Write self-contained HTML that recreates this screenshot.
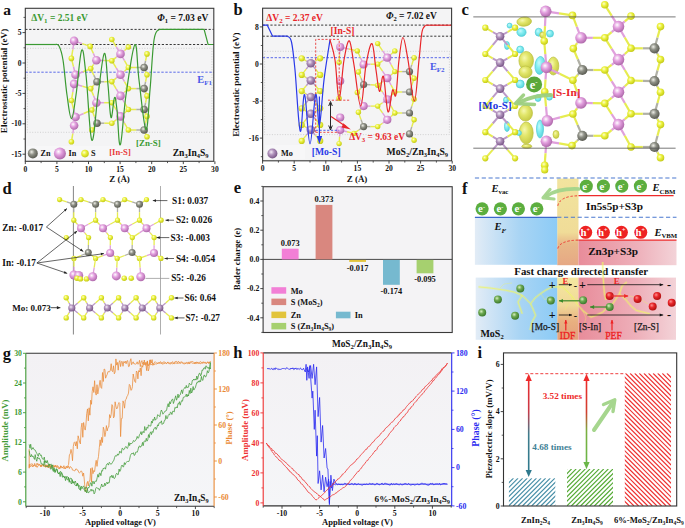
<!DOCTYPE html><html><head><meta charset="utf-8"><style>html,body{margin:0;padding:0;background:#fff;}svg{display:block;font-family:"Liberation Serif", serif;}</style></head><body>
<svg width="685" height="528" viewBox="0 0 685 528"><defs><radialGradient id="gIn" cx="0.4" cy="0.38" r="0.62" fx="0.38" fy="0.35"><stop offset="0" stop-color="#ffffff"/><stop offset="0.45" stop-color="#e3a0df"/><stop offset="1" stop-color="#b06aac"/></radialGradient><radialGradient id="gZn" cx="0.4" cy="0.38" r="0.62" fx="0.38" fy="0.35"><stop offset="0" stop-color="#efefe8"/><stop offset="0.45" stop-color="#8e9086"/><stop offset="1" stop-color="#5a5b52"/></radialGradient><radialGradient id="gS" cx="0.4" cy="0.38" r="0.62" fx="0.38" fy="0.35"><stop offset="0" stop-color="#fcffd0"/><stop offset="0.45" stop-color="#ecf23e"/><stop offset="1" stop-color="#c4ca18"/></radialGradient><radialGradient id="gMo" cx="0.4" cy="0.38" r="0.62" fx="0.38" fy="0.35"><stop offset="0" stop-color="#f6eef8"/><stop offset="0.45" stop-color="#b092bc"/><stop offset="1" stop-color="#7a5888"/></radialGradient><radialGradient id="gEl" cx="0.4" cy="0.38" r="0.62" fx="0.38" fy="0.35"><stop offset="0" stop-color="#a8d878"/><stop offset="0.45" stop-color="#6aa843"/><stop offset="1" stop-color="#4a8a2a"/></radialGradient><radialGradient id="gRed" cx="0.4" cy="0.38" r="0.62" fx="0.38" fy="0.35"><stop offset="0" stop-color="#ff9090"/><stop offset="0.45" stop-color="#e8262a"/><stop offset="1" stop-color="#b01010"/></radialGradient><radialGradient id="gGb" cx="0.4" cy="0.38" r="0.62" fx="0.38" fy="0.35"><stop offset="0" stop-color="#d8f0c0"/><stop offset="0.45" stop-color="#6ca850"/><stop offset="1" stop-color="#3d7a2e"/></radialGradient><radialGradient id="gBY" cx="0.4" cy="0.38" r="0.62" fx="0.38" fy="0.35"><stop offset="0" stop-color="#f6f8b0"/><stop offset="0.45" stop-color="#e2e66a"/><stop offset="1" stop-color="#c8cc48"/></radialGradient><radialGradient id="gBC" cx="0.4" cy="0.38" r="0.62" fx="0.38" fy="0.35"><stop offset="0" stop-color="#c8fafc"/><stop offset="0.45" stop-color="#86eef2"/><stop offset="1" stop-color="#5cd6de"/></radialGradient><linearGradient id="fBlue" x1="0" y1="0" x2="1" y2="0"><stop offset="0" stop-color="#e2ecf6"/><stop offset="0.55" stop-color="#a8d4f4"/><stop offset="1" stop-color="#8ccbf6"/></linearGradient><linearGradient id="fPink" x1="0" y1="0" x2="1" y2="0"><stop offset="0" stop-color="#e88c9a"/><stop offset="0.6" stop-color="#eeb0ba"/><stop offset="1" stop-color="#f3d3d8"/></linearGradient><linearGradient id="fBand" x1="0" y1="0" x2="0" y2="1"><stop offset="0" stop-color="#f2e49e"/><stop offset="0.62" stop-color="#f0dc98"/><stop offset="0.75" stop-color="#e8b888"/><stop offset="1" stop-color="#e6a884"/></linearGradient><linearGradient id="fBand2" x1="0" y1="0" x2="0" y2="1"><stop offset="0" stop-color="#f4e8a0"/><stop offset="0.45" stop-color="#f0d898"/><stop offset="0.7" stop-color="#e8b080"/><stop offset="1" stop-color="#e4a07c"/></linearGradient><linearGradient id="bgGH" x1="0" y1="0" x2="0" y2="1"><stop offset="0" stop-color="#f3f1f4"/><stop offset="1" stop-color="#f5f6f8"/></linearGradient><pattern id="hT" patternUnits="userSpaceOnUse" width="3.4" height="3.4" patternTransform="rotate(45)"><line x1="0" y1="0" x2="0" y2="3.4" stroke="#4a90a8" stroke-width="1.25"/></pattern><pattern id="hG" patternUnits="userSpaceOnUse" width="3.4" height="3.4" patternTransform="rotate(45)"><line x1="0" y1="0" x2="0" y2="3.4" stroke="#55aa35" stroke-width="1.25"/></pattern><pattern id="hR" patternUnits="userSpaceOnUse" width="3.4" height="3.4" patternTransform="rotate(-45)"><line x1="0" y1="0" x2="0" y2="3.4" stroke="#ee3333" stroke-width="1.25"/></pattern><linearGradient id="arT" x1="0" y1="0" x2="0" y2="1"><stop offset="0" stop-color="#ee2a2a"/><stop offset="0.35" stop-color="#c83a48"/><stop offset="0.6" stop-color="#3f7c8c"/><stop offset="1" stop-color="#2f7a8e"/></linearGradient><linearGradient id="arG" x1="0" y1="0" x2="0" y2="1"><stop offset="0" stop-color="#ee2a2a"/><stop offset="0.4" stop-color="#d04030"/><stop offset="0.62" stop-color="#7ab040"/><stop offset="1" stop-color="#6ab648"/></linearGradient><clipPath id="cT"><rect x="508.9" y="478.2" width="46.4" height="27.8"/></clipPath><clipPath id="cG"><rect x="567.0" y="468.9" width="46.0" height="37.1"/></clipPath><clipPath id="cR"><rect x="624.8" y="373.3" width="46.2" height="132.7"/></clipPath></defs>
<rect x="25.3" y="8.3" width="188.5" height="153.0" fill="#f4f4f5" stroke="none" stroke-width="1" />
<rect x="27.4" y="48.3" width="184.5" height="84.0" fill="none" stroke="#b8b8b8" stroke-width="0.6" stroke-dasharray="1,1.6"/>
<line x1="25.3" y1="29.4" x2="213.8" y2="29.4" stroke="#222" stroke-width="0.9" stroke-dasharray="2.2,1.7"/>
<line x1="25.3" y1="44.5" x2="213.8" y2="44.5" stroke="#222" stroke-width="0.9" stroke-dasharray="2.2,1.7"/>
<line x1="25.3" y1="72.2" x2="213.8" y2="72.2" stroke="#4a5ae8" stroke-width="0.9" stroke-dasharray="2.4,1.6"/>
<line x1="74.1" y1="40.9" x2="82.2" y2="43.6" stroke="#e0a0dc" stroke-width="1.5" />
<line x1="82.2" y1="43.6" x2="90.2" y2="46.4" stroke="#e6ec50" stroke-width="1.5" />
<line x1="74.1" y1="40.9" x2="72.8" y2="49.6" stroke="#e0a0dc" stroke-width="1.5" />
<line x1="72.8" y1="49.6" x2="71.4" y2="58.4" stroke="#e6ec50" stroke-width="1.5" />
<line x1="96.4" y1="60.2" x2="93.3" y2="53.3" stroke="#e0a0dc" stroke-width="1.5" />
<line x1="93.3" y1="53.3" x2="90.2" y2="46.4" stroke="#e6ec50" stroke-width="1.5" />
<line x1="96.4" y1="60.2" x2="104.1" y2="60.5" stroke="#e0a0dc" stroke-width="1.5" />
<line x1="104.1" y1="60.5" x2="111.8" y2="60.7" stroke="#e6ec50" stroke-width="1.5" />
<line x1="96.4" y1="60.2" x2="93.6" y2="64.4" stroke="#e0a0dc" stroke-width="1.5" />
<line x1="93.6" y1="64.4" x2="90.7" y2="68.6" stroke="#e6ec50" stroke-width="1.5" />
<line x1="75.5" y1="74.8" x2="73.5" y2="66.6" stroke="#e0a0dc" stroke-width="1.5" />
<line x1="73.5" y1="66.6" x2="71.4" y2="58.4" stroke="#e6ec50" stroke-width="1.5" />
<line x1="75.5" y1="74.8" x2="83.1" y2="71.7" stroke="#e0a0dc" stroke-width="1.5" />
<line x1="83.1" y1="71.7" x2="90.7" y2="68.6" stroke="#e6ec50" stroke-width="1.5" />
<line x1="74.1" y1="83.9" x2="82.4" y2="86.2" stroke="#e0a0dc" stroke-width="1.5" />
<line x1="82.4" y1="86.2" x2="90.7" y2="88.6" stroke="#e6ec50" stroke-width="1.5" />
<line x1="74.1" y1="83.9" x2="72.8" y2="92.2" stroke="#e0a0dc" stroke-width="1.5" />
<line x1="72.8" y1="92.2" x2="71.4" y2="100.5" stroke="#e6ec50" stroke-width="1.5" />
<line x1="96.4" y1="102.7" x2="93.6" y2="95.7" stroke="#e0a0dc" stroke-width="1.5" />
<line x1="93.6" y1="95.7" x2="90.7" y2="88.6" stroke="#e6ec50" stroke-width="1.5" />
<line x1="96.4" y1="102.7" x2="94.1" y2="106.3" stroke="#e0a0dc" stroke-width="1.5" />
<line x1="94.1" y1="106.3" x2="91.8" y2="110.0" stroke="#e6ec50" stroke-width="1.5" />
<line x1="96.4" y1="102.7" x2="104.1" y2="102.7" stroke="#e0a0dc" stroke-width="1.5" />
<line x1="104.1" y1="102.7" x2="111.8" y2="102.7" stroke="#e6ec50" stroke-width="1.5" />
<line x1="75.5" y1="117.0" x2="73.5" y2="108.8" stroke="#e0a0dc" stroke-width="1.5" />
<line x1="73.5" y1="108.8" x2="71.4" y2="100.5" stroke="#e6ec50" stroke-width="1.5" />
<line x1="75.5" y1="117.0" x2="83.7" y2="113.5" stroke="#e0a0dc" stroke-width="1.5" />
<line x1="83.7" y1="113.5" x2="91.8" y2="110.0" stroke="#e6ec50" stroke-width="1.5" />
<line x1="74.1" y1="125.5" x2="72.8" y2="133.7" stroke="#e0a0dc" stroke-width="1.5" />
<line x1="72.8" y1="133.7" x2="71.4" y2="141.8" stroke="#e6ec50" stroke-width="1.5" />
<line x1="120.5" y1="53.9" x2="116.2" y2="46.7" stroke="#e0a0dc" stroke-width="1.5" />
<line x1="116.2" y1="46.7" x2="111.8" y2="39.5" stroke="#e6ec50" stroke-width="1.5" />
<line x1="120.5" y1="53.9" x2="116.2" y2="57.3" stroke="#e0a0dc" stroke-width="1.5" />
<line x1="116.2" y1="57.3" x2="111.8" y2="60.7" stroke="#e6ec50" stroke-width="1.5" />
<line x1="120.5" y1="53.9" x2="124.5" y2="50.5" stroke="#e0a0dc" stroke-width="1.5" />
<line x1="124.5" y1="50.5" x2="128.4" y2="47.0" stroke="#e6ec50" stroke-width="1.5" />
<line x1="120.5" y1="53.9" x2="124.5" y2="60.7" stroke="#e0a0dc" stroke-width="1.5" />
<line x1="124.5" y1="60.7" x2="128.4" y2="67.5" stroke="#e6ec50" stroke-width="1.5" />
<line x1="120.5" y1="74.8" x2="116.2" y2="67.8" stroke="#e0a0dc" stroke-width="1.5" />
<line x1="116.2" y1="67.8" x2="111.8" y2="60.7" stroke="#e6ec50" stroke-width="1.5" />
<line x1="120.5" y1="74.8" x2="116.2" y2="78.2" stroke="#e0a0dc" stroke-width="1.5" />
<line x1="116.2" y1="78.2" x2="111.8" y2="81.6" stroke="#e6ec50" stroke-width="1.5" />
<line x1="120.5" y1="74.8" x2="124.5" y2="71.2" stroke="#e0a0dc" stroke-width="1.5" />
<line x1="124.5" y1="71.2" x2="128.4" y2="67.5" stroke="#e6ec50" stroke-width="1.5" />
<line x1="120.5" y1="74.8" x2="124.5" y2="81.7" stroke="#e0a0dc" stroke-width="1.5" />
<line x1="124.5" y1="81.7" x2="128.4" y2="88.6" stroke="#e6ec50" stroke-width="1.5" />
<line x1="120.5" y1="95.9" x2="116.2" y2="88.8" stroke="#e0a0dc" stroke-width="1.5" />
<line x1="116.2" y1="88.8" x2="111.8" y2="81.6" stroke="#e6ec50" stroke-width="1.5" />
<line x1="120.5" y1="95.9" x2="116.2" y2="99.3" stroke="#e0a0dc" stroke-width="1.5" />
<line x1="116.2" y1="99.3" x2="111.8" y2="102.7" stroke="#e6ec50" stroke-width="1.5" />
<line x1="120.5" y1="95.9" x2="124.5" y2="92.2" stroke="#e0a0dc" stroke-width="1.5" />
<line x1="124.5" y1="92.2" x2="128.4" y2="88.6" stroke="#e6ec50" stroke-width="1.5" />
<line x1="120.5" y1="95.9" x2="124.5" y2="102.7" stroke="#e0a0dc" stroke-width="1.5" />
<line x1="124.5" y1="102.7" x2="128.4" y2="109.5" stroke="#e6ec50" stroke-width="1.5" />
<line x1="120.5" y1="116.4" x2="116.2" y2="109.6" stroke="#e0a0dc" stroke-width="1.5" />
<line x1="116.2" y1="109.6" x2="111.8" y2="102.7" stroke="#e6ec50" stroke-width="1.5" />
<line x1="120.5" y1="116.4" x2="116.2" y2="119.8" stroke="#e0a0dc" stroke-width="1.5" />
<line x1="116.2" y1="119.8" x2="111.8" y2="123.2" stroke="#e6ec50" stroke-width="1.5" />
<line x1="120.5" y1="116.4" x2="124.5" y2="113.0" stroke="#e0a0dc" stroke-width="1.5" />
<line x1="124.5" y1="113.0" x2="128.4" y2="109.5" stroke="#e6ec50" stroke-width="1.5" />
<line x1="120.5" y1="116.4" x2="124.5" y2="123.2" stroke="#e0a0dc" stroke-width="1.5" />
<line x1="124.5" y1="123.2" x2="128.4" y2="130.0" stroke="#e6ec50" stroke-width="1.5" />
<line x1="97.0" y1="81.8" x2="93.8" y2="75.2" stroke="#b0b0a6" stroke-width="1.5" />
<line x1="93.8" y1="75.2" x2="90.7" y2="68.6" stroke="#e6ec50" stroke-width="1.5" />
<line x1="97.0" y1="81.8" x2="93.8" y2="85.2" stroke="#b0b0a6" stroke-width="1.5" />
<line x1="93.8" y1="85.2" x2="90.7" y2="88.6" stroke="#e6ec50" stroke-width="1.5" />
<line x1="97.0" y1="81.8" x2="104.4" y2="81.7" stroke="#b0b0a6" stroke-width="1.5" />
<line x1="104.4" y1="81.7" x2="111.8" y2="81.6" stroke="#e6ec50" stroke-width="1.5" />
<line x1="97.0" y1="123.2" x2="94.4" y2="116.6" stroke="#b0b0a6" stroke-width="1.5" />
<line x1="94.4" y1="116.6" x2="91.8" y2="110.0" stroke="#e6ec50" stroke-width="1.5" />
<line x1="97.0" y1="123.2" x2="94.4" y2="126.6" stroke="#b0b0a6" stroke-width="1.5" />
<line x1="94.4" y1="126.6" x2="91.8" y2="130.0" stroke="#e6ec50" stroke-width="1.5" />
<line x1="97.0" y1="123.2" x2="104.4" y2="123.2" stroke="#b0b0a6" stroke-width="1.5" />
<line x1="104.4" y1="123.2" x2="111.8" y2="123.2" stroke="#e6ec50" stroke-width="1.5" />
<line x1="144.1" y1="67.5" x2="136.2" y2="67.5" stroke="#b0b0a6" stroke-width="1.5" />
<line x1="136.2" y1="67.5" x2="128.4" y2="67.5" stroke="#e6ec50" stroke-width="1.5" />
<line x1="144.1" y1="67.5" x2="145.6" y2="60.7" stroke="#b0b0a6" stroke-width="1.5" />
<line x1="145.6" y1="60.7" x2="147.0" y2="53.9" stroke="#e6ec50" stroke-width="1.5" />
<line x1="144.1" y1="67.5" x2="145.6" y2="71.2" stroke="#b0b0a6" stroke-width="1.5" />
<line x1="145.6" y1="71.2" x2="147.0" y2="74.8" stroke="#e6ec50" stroke-width="1.5" />
<line x1="144.1" y1="88.6" x2="136.2" y2="88.6" stroke="#b0b0a6" stroke-width="1.5" />
<line x1="136.2" y1="88.6" x2="128.4" y2="88.6" stroke="#e6ec50" stroke-width="1.5" />
<line x1="144.1" y1="88.6" x2="145.6" y2="81.7" stroke="#b0b0a6" stroke-width="1.5" />
<line x1="145.6" y1="81.7" x2="147.0" y2="74.8" stroke="#e6ec50" stroke-width="1.5" />
<line x1="144.1" y1="88.6" x2="145.6" y2="92.2" stroke="#b0b0a6" stroke-width="1.5" />
<line x1="145.6" y1="92.2" x2="147.0" y2="95.9" stroke="#e6ec50" stroke-width="1.5" />
<line x1="144.1" y1="109.5" x2="136.2" y2="109.5" stroke="#b0b0a6" stroke-width="1.5" />
<line x1="136.2" y1="109.5" x2="128.4" y2="109.5" stroke="#e6ec50" stroke-width="1.5" />
<line x1="144.1" y1="109.5" x2="145.6" y2="102.7" stroke="#b0b0a6" stroke-width="1.5" />
<line x1="145.6" y1="102.7" x2="147.0" y2="95.9" stroke="#e6ec50" stroke-width="1.5" />
<line x1="144.1" y1="109.5" x2="145.6" y2="113.0" stroke="#b0b0a6" stroke-width="1.5" />
<line x1="145.6" y1="113.0" x2="147.0" y2="116.4" stroke="#e6ec50" stroke-width="1.5" />
<line x1="144.1" y1="130.0" x2="136.2" y2="130.0" stroke="#b0b0a6" stroke-width="1.5" />
<line x1="136.2" y1="130.0" x2="128.4" y2="130.0" stroke="#e6ec50" stroke-width="1.5" />
<line x1="144.1" y1="130.0" x2="145.6" y2="123.2" stroke="#b0b0a6" stroke-width="1.5" />
<line x1="145.6" y1="123.2" x2="147.0" y2="116.4" stroke="#e6ec50" stroke-width="1.5" />
<line x1="144.1" y1="130.0" x2="145.6" y2="133.4" stroke="#b0b0a6" stroke-width="1.5" />
<line x1="145.6" y1="133.4" x2="147.0" y2="136.8" stroke="#e6ec50" stroke-width="1.5" />
<circle cx="74.1" cy="40.9" r="4.3" fill="url(#gIn)" />
<circle cx="96.4" cy="60.2" r="4.3" fill="url(#gIn)" />
<circle cx="75.5" cy="74.8" r="4.3" fill="url(#gIn)" />
<circle cx="74.1" cy="83.9" r="4.3" fill="url(#gIn)" />
<circle cx="96.4" cy="102.7" r="4.3" fill="url(#gIn)" />
<circle cx="75.5" cy="117.0" r="4.3" fill="url(#gIn)" />
<circle cx="74.1" cy="125.5" r="4.3" fill="url(#gIn)" />
<circle cx="120.5" cy="53.9" r="4.3" fill="url(#gIn)" />
<circle cx="120.5" cy="74.8" r="4.3" fill="url(#gIn)" />
<circle cx="120.5" cy="95.9" r="4.3" fill="url(#gIn)" />
<circle cx="120.5" cy="116.4" r="4.3" fill="url(#gIn)" />
<circle cx="97.0" cy="81.8" r="3.8" fill="url(#gZn)" />
<circle cx="97.0" cy="123.2" r="3.8" fill="url(#gZn)" />
<circle cx="144.1" cy="67.5" r="3.8" fill="url(#gZn)" />
<circle cx="144.1" cy="88.6" r="3.8" fill="url(#gZn)" />
<circle cx="144.1" cy="109.5" r="3.8" fill="url(#gZn)" />
<circle cx="144.1" cy="130.0" r="3.8" fill="url(#gZn)" />
<circle cx="111.8" cy="39.5" r="2.8" fill="url(#gS)" />
<circle cx="90.2" cy="46.4" r="2.8" fill="url(#gS)" />
<circle cx="71.4" cy="58.4" r="2.8" fill="url(#gS)" />
<circle cx="111.8" cy="60.7" r="2.8" fill="url(#gS)" />
<circle cx="90.7" cy="68.6" r="2.8" fill="url(#gS)" />
<circle cx="90.7" cy="88.6" r="2.8" fill="url(#gS)" />
<circle cx="111.8" cy="81.6" r="2.8" fill="url(#gS)" />
<circle cx="71.4" cy="100.5" r="2.8" fill="url(#gS)" />
<circle cx="91.8" cy="110.0" r="2.8" fill="url(#gS)" />
<circle cx="111.8" cy="102.7" r="2.8" fill="url(#gS)" />
<circle cx="91.8" cy="130.0" r="2.8" fill="url(#gS)" />
<circle cx="111.8" cy="123.2" r="2.8" fill="url(#gS)" />
<circle cx="71.4" cy="141.8" r="2.8" fill="url(#gS)" />
<circle cx="128.4" cy="47.0" r="2.8" fill="url(#gS)" />
<circle cx="128.4" cy="67.5" r="2.8" fill="url(#gS)" />
<circle cx="128.4" cy="88.6" r="2.8" fill="url(#gS)" />
<circle cx="128.4" cy="109.5" r="2.8" fill="url(#gS)" />
<circle cx="128.4" cy="130.0" r="2.8" fill="url(#gS)" />
<circle cx="147.0" cy="53.9" r="2.8" fill="url(#gS)" />
<circle cx="147.0" cy="74.8" r="2.8" fill="url(#gS)" />
<circle cx="147.0" cy="95.9" r="2.8" fill="url(#gS)" />
<circle cx="147.0" cy="116.4" r="2.8" fill="url(#gS)" />
<circle cx="147.0" cy="136.8" r="2.8" fill="url(#gS)" />
<path d="M25.3,44.5 L55,44.5" stroke="#3a9a32" stroke-width="1.2" fill="none" />
<path d="M159,29.4 L204.1,29.4 L208.1,44.5 L213.8,44.5" stroke="#3a9a32" stroke-width="1.2" fill="none" />
<path d="M55.0,44.5 C55.7,44.8 57.5,43.2 59.0,46.0 C60.5,48.8 61.5,51.0 63.0,60.0 C64.5,69.0 65.4,84.3 67.0,95.0 C68.6,105.7 69.8,118.6 71.5,118.6 C73.2,118.6 74.1,107.5 76.0,95.0 C77.9,82.5 79.8,54.2 81.6,50.5 C83.4,46.8 84.1,58.6 86.0,75.0 C87.9,91.4 89.6,136.5 91.8,140.2 C94.0,143.9 95.7,110.9 98.0,95.0 C100.3,79.1 102.5,55.2 104.3,53.4 C106.1,51.6 106.8,73.2 108.0,85.0 C109.2,96.8 109.8,115.2 111.0,117.5 C112.2,119.8 113.4,98.9 114.5,97.5 C115.6,96.1 115.9,101.3 117.0,110.0 C118.1,118.7 118.6,147.6 120.3,144.8 C122.0,142.1 123.3,113.3 126.0,95.0 C128.7,76.7 132.4,47.5 134.8,44.8 C137.2,42.0 137.0,64.5 139.0,80.0 C141.0,95.5 143.9,127.7 145.9,129.5 C147.9,131.3 148.5,106.4 150.0,90.0 C151.5,73.6 152.3,51.1 154.0,40.0 C155.7,28.9 158.1,31.3 159.0,29.4" stroke="#3a9a32" stroke-width="1.2" fill="none" />
<rect x="25.3" y="8.3" width="188.5" height="153.0" fill="none" stroke="#3a3a3a" stroke-width="1.1" />
<line x1="22.5" y1="32.6" x2="25.3" y2="32.6" stroke="#333" stroke-width="0.9" />
<text x="21.5" y="35.2" font-size="7.6" text-anchor="end" fill="#111" font-weight="bold" font-style="normal" >5</text>
<line x1="22.5" y1="63.0" x2="25.3" y2="63.0" stroke="#333" stroke-width="0.9" />
<text x="21.5" y="65.6" font-size="7.6" text-anchor="end" fill="#111" font-weight="bold" font-style="normal" >0</text>
<line x1="22.5" y1="93.4" x2="25.3" y2="93.4" stroke="#333" stroke-width="0.9" />
<text x="21.5" y="96.0" font-size="7.6" text-anchor="end" fill="#111" font-weight="bold" font-style="normal" >-5</text>
<line x1="22.5" y1="123.8" x2="25.3" y2="123.8" stroke="#333" stroke-width="0.9" />
<text x="21.5" y="126.4" font-size="7.6" text-anchor="end" fill="#111" font-weight="bold" font-style="normal" >-10</text>
<line x1="22.5" y1="154.2" x2="25.3" y2="154.2" stroke="#333" stroke-width="0.9" />
<text x="21.5" y="156.8" font-size="7.6" text-anchor="end" fill="#111" font-weight="bold" font-style="normal" >-15</text>
<line x1="23.5" y1="17.4" x2="25.3" y2="17.4" stroke="#333" stroke-width="0.8" />
<line x1="23.5" y1="47.8" x2="25.3" y2="47.8" stroke="#333" stroke-width="0.8" />
<line x1="23.5" y1="78.2" x2="25.3" y2="78.2" stroke="#333" stroke-width="0.8" />
<line x1="23.5" y1="108.6" x2="25.3" y2="108.6" stroke="#333" stroke-width="0.8" />
<line x1="23.5" y1="139.0" x2="25.3" y2="139.0" stroke="#333" stroke-width="0.8" />
<line x1="25.3" y1="161.3" x2="25.3" y2="164.1" stroke="#333" stroke-width="0.9" />
<text x="25.3" y="171.6" font-size="7.6" text-anchor="middle" fill="#111" font-weight="bold" font-style="normal" >0</text>
<line x1="56.9" y1="161.3" x2="56.9" y2="164.1" stroke="#333" stroke-width="0.9" />
<text x="56.9" y="171.6" font-size="7.6" text-anchor="middle" fill="#111" font-weight="bold" font-style="normal" >5</text>
<line x1="88.5" y1="161.3" x2="88.5" y2="164.1" stroke="#333" stroke-width="0.9" />
<text x="88.5" y="171.6" font-size="7.6" text-anchor="middle" fill="#111" font-weight="bold" font-style="normal" >10</text>
<line x1="120.1" y1="161.3" x2="120.1" y2="164.1" stroke="#333" stroke-width="0.9" />
<text x="120.1" y="171.6" font-size="7.6" text-anchor="middle" fill="#111" font-weight="bold" font-style="normal" >15</text>
<line x1="151.7" y1="161.3" x2="151.7" y2="164.1" stroke="#333" stroke-width="0.9" />
<text x="151.7" y="171.6" font-size="7.6" text-anchor="middle" fill="#111" font-weight="bold" font-style="normal" >20</text>
<line x1="183.3" y1="161.3" x2="183.3" y2="164.1" stroke="#333" stroke-width="0.9" />
<text x="183.3" y="171.6" font-size="7.6" text-anchor="middle" fill="#111" font-weight="bold" font-style="normal" >25</text>
<line x1="214.9" y1="161.3" x2="214.9" y2="164.1" stroke="#333" stroke-width="0.9" />
<text x="214.9" y="171.6" font-size="7.6" text-anchor="middle" fill="#111" font-weight="bold" font-style="normal" >30</text>
<line x1="41.1" y1="161.3" x2="41.1" y2="163.1" stroke="#333" stroke-width="0.8" />
<line x1="72.7" y1="161.3" x2="72.7" y2="163.1" stroke="#333" stroke-width="0.8" />
<line x1="104.3" y1="161.3" x2="104.3" y2="163.1" stroke="#333" stroke-width="0.8" />
<line x1="135.9" y1="161.3" x2="135.9" y2="163.1" stroke="#333" stroke-width="0.8" />
<line x1="167.5" y1="161.3" x2="167.5" y2="163.1" stroke="#333" stroke-width="0.8" />
<line x1="199.1" y1="161.3" x2="199.1" y2="163.1" stroke="#333" stroke-width="0.8" />
<text x="119.5" y="182.3" font-size="9" text-anchor="middle" fill="#111" font-weight="bold" font-style="normal" >Z (Å)</text>
<text x="6.9" y="81.0" font-size="9.1" text-anchor="middle" fill="#111" font-weight="bold" font-style="normal" transform="rotate(-90 6.9 81)">Electrostatic potential (eV)</text>
<text x="3.2" y="14.6" font-size="15.5" text-anchor="start" fill="#111" font-weight="bold" font-style="normal" >a</text>
<text x="31.2" y="20.8" font-size="9.5" text-anchor="start" fill="#3a9a32" font-weight="bold" font-style="normal" >ΔV<tspan font-size="7" dy="2">1</tspan><tspan dy="-2"> = 2.51 eV</tspan></text>
<text x="208.3" y="20.5" font-size="9.5" text-anchor="end" fill="#111" font-weight="bold" font-style="normal" ><tspan font-style="italic">Φ</tspan><tspan font-size="6.5" dy="2">1</tspan><tspan dy="-2"> = 7.03 eV</tspan></text>
<text x="197.3" y="82.7" font-size="10.3" text-anchor="start" fill="#4a5ae8" font-weight="bold" font-style="normal" >E<tspan font-size="7" dy="2.4">F1</tspan></text>
<text x="148.4" y="145.6" font-size="8.9" text-anchor="middle" fill="#3a9a32" font-weight="bold" font-style="normal" >[Zn-S]</text>
<text x="208.6" y="155.6" font-size="9.6" text-anchor="end" fill="#111" font-weight="bold" font-style="normal" >Zn<tspan font-size="6.5" dy="2">3</tspan><tspan dy="-2">In</tspan><tspan font-size="6.5" dy="2">4</tspan><tspan dy="-2">S</tspan><tspan font-size="6.5" dy="2">9</tspan></text>
<rect x="27.0" y="146.0" width="100.0" height="13.5" fill="#f7f7f8" stroke="none" stroke-width="1" />
<circle cx="32.8" cy="153.4" r="5.0" fill="url(#gZn)" />
<text x="40.5" y="156.2" font-size="8.2" text-anchor="start" fill="#111" font-weight="bold" font-style="normal" >Zn</text>
<circle cx="59.9" cy="153.4" r="6.0" fill="url(#gIn)" />
<text x="68.5" y="156.2" font-size="8.2" text-anchor="start" fill="#111" font-weight="bold" font-style="normal" >In</text>
<circle cx="85.0" cy="153.6" r="3.8" fill="url(#gS)" />
<text x="91.0" y="156.2" font-size="8.2" text-anchor="start" fill="#111" font-weight="bold" font-style="normal" >S</text>
<text x="120.0" y="155.4" font-size="8.6" text-anchor="middle" fill="#e83a3a" font-weight="bold" font-style="normal" >[In-S]</text>
<rect x="262.6" y="8.2" width="189.0" height="152.6" fill="#f4f4f5" stroke="none" stroke-width="1" />
<rect x="264.6" y="51.3" width="184.8" height="83.3" fill="none" stroke="#b8b8b8" stroke-width="0.6" stroke-dasharray="1,1.6"/>
<line x1="262.6" y1="25.1" x2="451.6" y2="25.1" stroke="#222" stroke-width="0.9" stroke-dasharray="2.2,1.7"/>
<line x1="262.6" y1="36.2" x2="451.6" y2="36.2" stroke="#222" stroke-width="0.9" stroke-dasharray="2.2,1.7"/>
<line x1="262.6" y1="57.7" x2="451.6" y2="57.7" stroke="#4a5ae8" stroke-width="0.9" stroke-dasharray="2.4,1.6"/>
<line x1="310.8" y1="63.3" x2="306.2" y2="60.8" stroke="#bc9ac8" stroke-width="1.4" />
<line x1="306.2" y1="60.8" x2="301.7" y2="58.3" stroke="#e6ec50" stroke-width="1.4" />
<line x1="310.8" y1="63.3" x2="306.2" y2="69.1" stroke="#bc9ac8" stroke-width="1.4" />
<line x1="306.2" y1="69.1" x2="301.7" y2="74.9" stroke="#e6ec50" stroke-width="1.4" />
<line x1="310.8" y1="63.3" x2="315.5" y2="60.8" stroke="#bc9ac8" stroke-width="1.4" />
<line x1="315.5" y1="60.8" x2="320.2" y2="58.3" stroke="#e6ec50" stroke-width="1.4" />
<line x1="310.8" y1="63.3" x2="315.5" y2="69.1" stroke="#bc9ac8" stroke-width="1.4" />
<line x1="315.5" y1="69.1" x2="320.2" y2="74.9" stroke="#e6ec50" stroke-width="1.4" />
<line x1="310.8" y1="80.5" x2="306.2" y2="77.7" stroke="#bc9ac8" stroke-width="1.4" />
<line x1="306.2" y1="77.7" x2="301.7" y2="74.9" stroke="#e6ec50" stroke-width="1.4" />
<line x1="310.8" y1="80.5" x2="306.2" y2="85.8" stroke="#bc9ac8" stroke-width="1.4" />
<line x1="306.2" y1="85.8" x2="301.7" y2="91.1" stroke="#e6ec50" stroke-width="1.4" />
<line x1="310.8" y1="80.5" x2="315.5" y2="77.7" stroke="#bc9ac8" stroke-width="1.4" />
<line x1="315.5" y1="77.7" x2="320.2" y2="74.9" stroke="#e6ec50" stroke-width="1.4" />
<line x1="310.8" y1="80.5" x2="315.5" y2="85.8" stroke="#bc9ac8" stroke-width="1.4" />
<line x1="315.5" y1="85.8" x2="320.2" y2="91.1" stroke="#e6ec50" stroke-width="1.4" />
<line x1="310.8" y1="97.0" x2="306.2" y2="94.0" stroke="#bc9ac8" stroke-width="1.4" />
<line x1="306.2" y1="94.0" x2="301.7" y2="91.1" stroke="#e6ec50" stroke-width="1.4" />
<line x1="310.8" y1="97.0" x2="306.2" y2="102.7" stroke="#bc9ac8" stroke-width="1.4" />
<line x1="306.2" y1="102.7" x2="301.7" y2="108.4" stroke="#e6ec50" stroke-width="1.4" />
<line x1="310.8" y1="97.0" x2="315.5" y2="94.0" stroke="#bc9ac8" stroke-width="1.4" />
<line x1="315.5" y1="94.0" x2="320.2" y2="91.1" stroke="#e6ec50" stroke-width="1.4" />
<line x1="310.8" y1="97.0" x2="315.5" y2="102.7" stroke="#bc9ac8" stroke-width="1.4" />
<line x1="315.5" y1="102.7" x2="320.2" y2="108.4" stroke="#e6ec50" stroke-width="1.4" />
<line x1="310.8" y1="113.8" x2="306.2" y2="111.1" stroke="#bc9ac8" stroke-width="1.4" />
<line x1="306.2" y1="111.1" x2="301.7" y2="108.4" stroke="#e6ec50" stroke-width="1.4" />
<line x1="310.8" y1="113.8" x2="306.2" y2="119.3" stroke="#bc9ac8" stroke-width="1.4" />
<line x1="306.2" y1="119.3" x2="301.7" y2="124.9" stroke="#e6ec50" stroke-width="1.4" />
<line x1="310.8" y1="113.8" x2="315.5" y2="111.1" stroke="#bc9ac8" stroke-width="1.4" />
<line x1="315.5" y1="111.1" x2="320.2" y2="108.4" stroke="#e6ec50" stroke-width="1.4" />
<line x1="310.8" y1="113.8" x2="315.5" y2="119.3" stroke="#bc9ac8" stroke-width="1.4" />
<line x1="315.5" y1="119.3" x2="320.2" y2="124.9" stroke="#e6ec50" stroke-width="1.4" />
<line x1="310.8" y1="129.8" x2="306.2" y2="127.4" stroke="#bc9ac8" stroke-width="1.4" />
<line x1="306.2" y1="127.4" x2="301.7" y2="124.9" stroke="#e6ec50" stroke-width="1.4" />
<line x1="310.8" y1="129.8" x2="306.2" y2="135.4" stroke="#bc9ac8" stroke-width="1.4" />
<line x1="306.2" y1="135.4" x2="301.7" y2="140.9" stroke="#e6ec50" stroke-width="1.4" />
<line x1="310.8" y1="129.8" x2="315.5" y2="127.4" stroke="#bc9ac8" stroke-width="1.4" />
<line x1="315.5" y1="127.4" x2="320.2" y2="124.9" stroke="#e6ec50" stroke-width="1.4" />
<line x1="310.8" y1="129.8" x2="315.5" y2="135.4" stroke="#bc9ac8" stroke-width="1.4" />
<line x1="315.5" y1="135.4" x2="320.2" y2="140.9" stroke="#e6ec50" stroke-width="1.4" />
<circle cx="310.8" cy="63.3" r="4.3" fill="url(#gMo)" />
<circle cx="310.8" cy="80.5" r="4.3" fill="url(#gMo)" />
<circle cx="310.8" cy="97.0" r="4.3" fill="url(#gMo)" />
<circle cx="310.8" cy="113.8" r="4.3" fill="url(#gMo)" />
<circle cx="310.8" cy="129.8" r="4.3" fill="url(#gMo)" />
<circle cx="301.7" cy="58.3" r="3.1" fill="url(#gS)" />
<circle cx="301.7" cy="74.9" r="3.1" fill="url(#gS)" />
<circle cx="301.7" cy="91.1" r="3.1" fill="url(#gS)" />
<circle cx="301.7" cy="108.4" r="3.1" fill="url(#gS)" />
<circle cx="301.7" cy="124.9" r="3.1" fill="url(#gS)" />
<circle cx="301.7" cy="140.9" r="3.1" fill="url(#gS)" />
<circle cx="320.2" cy="58.3" r="3.1" fill="url(#gS)" />
<circle cx="320.2" cy="74.9" r="3.1" fill="url(#gS)" />
<circle cx="320.2" cy="91.1" r="3.1" fill="url(#gS)" />
<circle cx="320.2" cy="108.4" r="3.1" fill="url(#gS)" />
<circle cx="320.2" cy="124.9" r="3.1" fill="url(#gS)" />
<circle cx="320.2" cy="140.9" r="3.1" fill="url(#gS)" />
<line x1="340.2" y1="47.0" x2="339.6" y2="54.6" stroke="#e0a0dc" stroke-width="1.4" />
<line x1="339.6" y1="54.6" x2="339.1" y2="62.3" stroke="#e6ec50" stroke-width="1.4" />
<line x1="340.2" y1="47.0" x2="348.8" y2="49.0" stroke="#e0a0dc" stroke-width="1.4" />
<line x1="348.8" y1="49.0" x2="357.3" y2="50.9" stroke="#e6ec50" stroke-width="1.4" />
<line x1="340.2" y1="81.1" x2="339.6" y2="89.7" stroke="#e0a0dc" stroke-width="1.4" />
<line x1="339.6" y1="89.7" x2="339.1" y2="98.2" stroke="#e6ec50" stroke-width="1.4" />
<line x1="340.2" y1="130.0" x2="339.6" y2="136.8" stroke="#e0a0dc" stroke-width="1.4" />
<line x1="339.6" y1="136.8" x2="339.1" y2="143.6" stroke="#e6ec50" stroke-width="1.4" />
<line x1="340.2" y1="130.0" x2="347.0" y2="131.7" stroke="#e0a0dc" stroke-width="1.4" />
<line x1="347.0" y1="131.7" x2="353.9" y2="133.4" stroke="#e6ec50" stroke-width="1.4" />
<line x1="363.6" y1="64.5" x2="360.5" y2="57.7" stroke="#e0a0dc" stroke-width="1.4" />
<line x1="360.5" y1="57.7" x2="357.3" y2="50.9" stroke="#e6ec50" stroke-width="1.4" />
<line x1="363.6" y1="64.5" x2="361.0" y2="68.2" stroke="#e0a0dc" stroke-width="1.4" />
<line x1="361.0" y1="68.2" x2="358.4" y2="72.0" stroke="#e6ec50" stroke-width="1.4" />
<line x1="363.6" y1="64.5" x2="370.6" y2="64.3" stroke="#e0a0dc" stroke-width="1.4" />
<line x1="370.6" y1="64.3" x2="377.7" y2="64.1" stroke="#e6ec50" stroke-width="1.4" />
<line x1="363.6" y1="106.1" x2="360.5" y2="99.3" stroke="#e0a0dc" stroke-width="1.4" />
<line x1="360.5" y1="99.3" x2="357.3" y2="92.5" stroke="#e6ec50" stroke-width="1.4" />
<line x1="363.6" y1="106.1" x2="361.0" y2="109.2" stroke="#e0a0dc" stroke-width="1.4" />
<line x1="361.0" y1="109.2" x2="358.4" y2="112.3" stroke="#e6ec50" stroke-width="1.4" />
<line x1="363.6" y1="106.1" x2="370.6" y2="106.1" stroke="#e0a0dc" stroke-width="1.4" />
<line x1="370.6" y1="106.1" x2="377.7" y2="106.1" stroke="#e6ec50" stroke-width="1.4" />
<line x1="387.3" y1="57.7" x2="382.5" y2="50.7" stroke="#e0a0dc" stroke-width="1.4" />
<line x1="382.5" y1="50.7" x2="377.7" y2="43.6" stroke="#e6ec50" stroke-width="1.4" />
<line x1="387.3" y1="57.7" x2="382.5" y2="60.9" stroke="#e0a0dc" stroke-width="1.4" />
<line x1="382.5" y1="60.9" x2="377.7" y2="64.1" stroke="#e6ec50" stroke-width="1.4" />
<line x1="387.3" y1="57.7" x2="391.1" y2="54.3" stroke="#e0a0dc" stroke-width="1.4" />
<line x1="391.1" y1="54.3" x2="394.8" y2="50.9" stroke="#e6ec50" stroke-width="1.4" />
<line x1="387.3" y1="57.7" x2="391.1" y2="64.7" stroke="#e0a0dc" stroke-width="1.4" />
<line x1="391.1" y1="64.7" x2="394.8" y2="71.6" stroke="#e6ec50" stroke-width="1.4" />
<line x1="387.3" y1="78.2" x2="382.5" y2="71.2" stroke="#e0a0dc" stroke-width="1.4" />
<line x1="382.5" y1="71.2" x2="377.7" y2="64.1" stroke="#e6ec50" stroke-width="1.4" />
<line x1="387.3" y1="78.2" x2="382.5" y2="81.7" stroke="#e0a0dc" stroke-width="1.4" />
<line x1="382.5" y1="81.7" x2="377.7" y2="85.2" stroke="#e6ec50" stroke-width="1.4" />
<line x1="387.3" y1="78.2" x2="391.1" y2="74.9" stroke="#e0a0dc" stroke-width="1.4" />
<line x1="391.1" y1="74.9" x2="394.8" y2="71.6" stroke="#e6ec50" stroke-width="1.4" />
<line x1="387.3" y1="78.2" x2="391.1" y2="85.1" stroke="#e0a0dc" stroke-width="1.4" />
<line x1="391.1" y1="85.1" x2="394.8" y2="92.0" stroke="#e6ec50" stroke-width="1.4" />
<line x1="387.3" y1="99.3" x2="382.5" y2="92.2" stroke="#e0a0dc" stroke-width="1.4" />
<line x1="382.5" y1="92.2" x2="377.7" y2="85.2" stroke="#e6ec50" stroke-width="1.4" />
<line x1="387.3" y1="99.3" x2="382.5" y2="102.7" stroke="#e0a0dc" stroke-width="1.4" />
<line x1="382.5" y1="102.7" x2="377.7" y2="106.1" stroke="#e6ec50" stroke-width="1.4" />
<line x1="387.3" y1="99.3" x2="391.1" y2="95.7" stroke="#e0a0dc" stroke-width="1.4" />
<line x1="391.1" y1="95.7" x2="394.8" y2="92.0" stroke="#e6ec50" stroke-width="1.4" />
<line x1="387.3" y1="99.3" x2="391.1" y2="106.2" stroke="#e0a0dc" stroke-width="1.4" />
<line x1="391.1" y1="106.2" x2="394.8" y2="113.0" stroke="#e6ec50" stroke-width="1.4" />
<line x1="387.3" y1="119.8" x2="382.5" y2="112.9" stroke="#e0a0dc" stroke-width="1.4" />
<line x1="382.5" y1="112.9" x2="377.7" y2="106.1" stroke="#e6ec50" stroke-width="1.4" />
<line x1="387.3" y1="119.8" x2="382.5" y2="123.2" stroke="#e0a0dc" stroke-width="1.4" />
<line x1="382.5" y1="123.2" x2="377.7" y2="126.6" stroke="#e6ec50" stroke-width="1.4" />
<line x1="387.3" y1="119.8" x2="391.1" y2="116.4" stroke="#e0a0dc" stroke-width="1.4" />
<line x1="391.1" y1="116.4" x2="394.8" y2="113.0" stroke="#e6ec50" stroke-width="1.4" />
<line x1="363.6" y1="84.5" x2="361.0" y2="78.2" stroke="#b0b0a6" stroke-width="1.4" />
<line x1="361.0" y1="78.2" x2="358.4" y2="72.0" stroke="#e6ec50" stroke-width="1.4" />
<line x1="363.6" y1="84.5" x2="360.5" y2="88.5" stroke="#b0b0a6" stroke-width="1.4" />
<line x1="360.5" y1="88.5" x2="357.3" y2="92.5" stroke="#e6ec50" stroke-width="1.4" />
<line x1="363.6" y1="84.5" x2="370.6" y2="84.8" stroke="#b0b0a6" stroke-width="1.4" />
<line x1="370.6" y1="84.8" x2="377.7" y2="85.2" stroke="#e6ec50" stroke-width="1.4" />
<line x1="363.6" y1="126.6" x2="361.0" y2="119.4" stroke="#b0b0a6" stroke-width="1.4" />
<line x1="361.0" y1="119.4" x2="358.4" y2="112.3" stroke="#e6ec50" stroke-width="1.4" />
<line x1="363.6" y1="126.6" x2="370.6" y2="126.6" stroke="#b0b0a6" stroke-width="1.4" />
<line x1="370.6" y1="126.6" x2="377.7" y2="126.6" stroke="#e6ec50" stroke-width="1.4" />
<line x1="363.6" y1="126.6" x2="358.8" y2="130.0" stroke="#b0b0a6" stroke-width="1.4" />
<line x1="358.8" y1="130.0" x2="353.9" y2="133.4" stroke="#e6ec50" stroke-width="1.4" />
<line x1="409.5" y1="71.6" x2="402.1" y2="71.6" stroke="#b0b0a6" stroke-width="1.4" />
<line x1="402.1" y1="71.6" x2="394.8" y2="71.6" stroke="#e6ec50" stroke-width="1.4" />
<line x1="409.5" y1="71.6" x2="411.8" y2="64.7" stroke="#b0b0a6" stroke-width="1.4" />
<line x1="411.8" y1="64.7" x2="414.1" y2="57.7" stroke="#e6ec50" stroke-width="1.4" />
<line x1="409.5" y1="71.6" x2="411.8" y2="74.9" stroke="#b0b0a6" stroke-width="1.4" />
<line x1="411.8" y1="74.9" x2="414.1" y2="78.2" stroke="#e6ec50" stroke-width="1.4" />
<line x1="409.5" y1="92.0" x2="402.1" y2="92.0" stroke="#b0b0a6" stroke-width="1.4" />
<line x1="402.1" y1="92.0" x2="394.8" y2="92.0" stroke="#e6ec50" stroke-width="1.4" />
<line x1="409.5" y1="92.0" x2="411.8" y2="85.1" stroke="#b0b0a6" stroke-width="1.4" />
<line x1="411.8" y1="85.1" x2="414.1" y2="78.2" stroke="#e6ec50" stroke-width="1.4" />
<line x1="409.5" y1="92.0" x2="411.8" y2="95.7" stroke="#b0b0a6" stroke-width="1.4" />
<line x1="411.8" y1="95.7" x2="414.1" y2="99.3" stroke="#e6ec50" stroke-width="1.4" />
<line x1="409.5" y1="113.0" x2="402.1" y2="113.0" stroke="#b0b0a6" stroke-width="1.4" />
<line x1="402.1" y1="113.0" x2="394.8" y2="113.0" stroke="#e6ec50" stroke-width="1.4" />
<line x1="409.5" y1="113.0" x2="411.8" y2="106.2" stroke="#b0b0a6" stroke-width="1.4" />
<line x1="411.8" y1="106.2" x2="414.1" y2="99.3" stroke="#e6ec50" stroke-width="1.4" />
<line x1="409.5" y1="113.0" x2="411.8" y2="116.4" stroke="#b0b0a6" stroke-width="1.4" />
<line x1="411.8" y1="116.4" x2="414.1" y2="119.8" stroke="#e6ec50" stroke-width="1.4" />
<line x1="409.5" y1="133.9" x2="411.8" y2="126.8" stroke="#b0b0a6" stroke-width="1.4" />
<line x1="411.8" y1="126.8" x2="414.1" y2="119.8" stroke="#e6ec50" stroke-width="1.4" />
<line x1="409.5" y1="133.9" x2="411.8" y2="137.1" stroke="#b0b0a6" stroke-width="1.4" />
<line x1="411.8" y1="137.1" x2="414.1" y2="140.2" stroke="#e6ec50" stroke-width="1.4" />
<circle cx="340.2" cy="47.0" r="4.1" fill="url(#gIn)" />
<circle cx="340.2" cy="81.1" r="4.1" fill="url(#gIn)" />
<circle cx="340.2" cy="117.5" r="4.1" fill="url(#gIn)" />
<circle cx="340.2" cy="130.0" r="4.1" fill="url(#gIn)" />
<circle cx="363.6" cy="64.5" r="4.1" fill="url(#gIn)" />
<circle cx="363.6" cy="106.1" r="4.1" fill="url(#gIn)" />
<circle cx="387.3" cy="57.7" r="4.1" fill="url(#gIn)" />
<circle cx="387.3" cy="78.2" r="4.1" fill="url(#gIn)" />
<circle cx="387.3" cy="99.3" r="4.1" fill="url(#gIn)" />
<circle cx="387.3" cy="119.8" r="4.1" fill="url(#gIn)" />
<circle cx="363.6" cy="84.5" r="3.6" fill="url(#gZn)" />
<circle cx="363.6" cy="126.6" r="3.6" fill="url(#gZn)" />
<circle cx="409.5" cy="71.6" r="3.6" fill="url(#gZn)" />
<circle cx="409.5" cy="92.0" r="3.6" fill="url(#gZn)" />
<circle cx="409.5" cy="113.0" r="3.6" fill="url(#gZn)" />
<circle cx="409.5" cy="133.9" r="3.6" fill="url(#gZn)" />
<circle cx="339.1" cy="62.3" r="2.7" fill="url(#gS)" />
<circle cx="339.1" cy="98.2" r="2.7" fill="url(#gS)" />
<circle cx="339.1" cy="143.6" r="2.7" fill="url(#gS)" />
<circle cx="357.3" cy="50.9" r="2.7" fill="url(#gS)" />
<circle cx="358.4" cy="72.0" r="2.7" fill="url(#gS)" />
<circle cx="357.3" cy="92.5" r="2.7" fill="url(#gS)" />
<circle cx="358.4" cy="112.3" r="2.7" fill="url(#gS)" />
<circle cx="377.7" cy="43.6" r="2.7" fill="url(#gS)" />
<circle cx="377.7" cy="64.1" r="2.7" fill="url(#gS)" />
<circle cx="377.7" cy="85.2" r="2.7" fill="url(#gS)" />
<circle cx="377.7" cy="106.1" r="2.7" fill="url(#gS)" />
<circle cx="377.7" cy="126.6" r="2.7" fill="url(#gS)" />
<circle cx="394.8" cy="50.9" r="2.7" fill="url(#gS)" />
<circle cx="394.8" cy="71.6" r="2.7" fill="url(#gS)" />
<circle cx="394.8" cy="92.0" r="2.7" fill="url(#gS)" />
<circle cx="394.8" cy="113.0" r="2.7" fill="url(#gS)" />
<circle cx="414.1" cy="57.7" r="2.7" fill="url(#gS)" />
<circle cx="414.1" cy="78.2" r="2.7" fill="url(#gS)" />
<circle cx="414.1" cy="99.3" r="2.7" fill="url(#gS)" />
<circle cx="414.1" cy="119.8" r="2.7" fill="url(#gS)" />
<circle cx="414.1" cy="140.2" r="2.7" fill="url(#gS)" />
<circle cx="353.9" cy="133.4" r="2.7" fill="url(#gS)" />
<path d="M315.7,132.3 L315.7,39.4 L339.2,39.4 L339.2,100.2" stroke="#e83a3a" stroke-width="0.9" fill="none" stroke-dasharray="2.2,1.6"/>
<line x1="315.7" y1="132.3" x2="339.2" y2="132.3" stroke="#e83a3a" stroke-width="0.9" stroke-dasharray="2.2,1.6"/>
<line x1="328.0" y1="100.2" x2="350.0" y2="100.2" stroke="#e83a3a" stroke-width="0.9" stroke-dasharray="2.2,1.6"/>
<line x1="315.7" y1="130.3" x2="339.2" y2="130.3" stroke="#3a4ae8" stroke-width="0.9" stroke-dasharray="2.2,1.6"/>
<path d="M262.6,25.2 L267.3,25.2 L272.6,36.2 L287.4,36.2" stroke="#2a3ae8" stroke-width="1.2" fill="none" />
<path d="M287.4,36.2 C288.2,37.3 290.1,35.8 291.5,42.0 C292.9,48.2 293.4,53.7 295.0,70.0 C296.6,86.3 298.4,126.5 300.2,131.0 C302.0,135.5 302.8,92.2 304.6,94.6 C306.4,97.0 308.0,143.9 310.0,143.9 C312.0,143.9 314.0,98.1 315.7,94.6 C317.4,91.1 317.9,127.7 319.4,125.0 C320.9,122.3 322.1,95.6 324.0,80.0 C325.9,64.4 328.9,47.2 330.0,39.8" stroke="#2a3ae8" stroke-width="1.2" fill="none" />
<path d="M330.0,39.8 C330.9,43.5 333.3,49.1 335.0,60.0 C336.7,70.9 337.5,99.3 339.1,99.3 C340.8,99.3 342.1,70.7 344.0,60.0 C345.9,49.3 347.5,40.0 349.3,40.9 C351.1,41.8 351.9,53.0 354.0,65.0 C356.1,77.0 358.5,106.1 360.7,106.1 C362.9,106.1 363.9,76.5 366.0,65.0 C368.1,53.5 370.2,42.7 372.0,43.6 C373.8,44.5 374.6,61.2 376.0,70.0 C377.4,78.8 378.1,90.2 379.5,91.4 C380.9,92.6 381.8,72.9 383.4,76.6 C385.0,80.3 386.3,109.3 388.0,111.8 C389.7,114.3 391.1,93.3 392.5,90.2 C393.9,87.1 394.7,100.3 395.9,94.8 C397.1,89.3 397.7,70.5 399.0,60.0 C400.3,49.5 401.4,37.5 403.0,37.5 C404.6,37.5 405.9,48.4 408.0,60.0 C410.1,71.6 412.3,101.0 414.3,101.0 C416.3,101.0 417.6,72.7 419.0,60.0 C420.4,47.4 420.8,38.4 422.0,32.0 C423.2,25.6 424.9,26.4 425.6,25.2" stroke="#e8262a" stroke-width="1.2" fill="none" />
<path d="M425.6,25.2 L451.6,25.2" stroke="#e8262a" stroke-width="1.2" fill="none" />
<line x1="330.5" y1="103.0" x2="330.5" y2="128.5" stroke="#111" stroke-width="0.9" />
<path d="M328.7,106 L330.5,101.5 L332.3,106" stroke="#111" stroke-width="0.9" fill="none" />
<path d="M328.7,125.5 L330.5,130 L332.3,125.5" stroke="#111" stroke-width="0.9" fill="none" />
<line x1="319.4" y1="96.5" x2="319.4" y2="137.0" stroke="#2a3ae8" stroke-width="1.2" />
<path d="M316.6,136 L319.4,144 L322.2,136 Z" stroke="none" stroke-width="0" fill="#2a3ae8" />
<line x1="331.0" y1="116.5" x2="346.0" y2="126.5" stroke="#e8262a" stroke-width="1.1" />
<path d="M343.2,123.2 L350.9,129.4 L341.6,127.6 Z" stroke="none" stroke-width="0" fill="#e8262a" />
<rect x="262.6" y="8.2" width="189.0" height="152.6" fill="none" stroke="#3a3a3a" stroke-width="1.1" />
<line x1="259.8" y1="26.9" x2="262.6" y2="26.9" stroke="#333" stroke-width="0.9" />
<text x="258.8" y="29.5" font-size="7.6" text-anchor="end" fill="#111" font-weight="bold" font-style="normal" >8</text>
<line x1="259.8" y1="64.0" x2="262.6" y2="64.0" stroke="#333" stroke-width="0.9" />
<text x="258.8" y="66.6" font-size="7.6" text-anchor="end" fill="#111" font-weight="bold" font-style="normal" >0</text>
<line x1="259.8" y1="101.1" x2="262.6" y2="101.1" stroke="#333" stroke-width="0.9" />
<text x="258.8" y="103.7" font-size="7.6" text-anchor="end" fill="#111" font-weight="bold" font-style="normal" >-8</text>
<line x1="259.8" y1="138.1" x2="262.6" y2="138.1" stroke="#333" stroke-width="0.9" />
<text x="258.8" y="140.7" font-size="7.6" text-anchor="end" fill="#111" font-weight="bold" font-style="normal" >-16</text>
<line x1="260.8" y1="45.5" x2="262.6" y2="45.5" stroke="#333" stroke-width="0.8" />
<line x1="260.8" y1="82.5" x2="262.6" y2="82.5" stroke="#333" stroke-width="0.8" />
<line x1="260.8" y1="119.6" x2="262.6" y2="119.6" stroke="#333" stroke-width="0.8" />
<line x1="260.8" y1="156.7" x2="262.6" y2="156.7" stroke="#333" stroke-width="0.8" />
<line x1="262.6" y1="160.8" x2="262.6" y2="163.6" stroke="#333" stroke-width="0.9" />
<text x="262.6" y="171.4" font-size="7.6" text-anchor="middle" fill="#111" font-weight="bold" font-style="normal" >0</text>
<line x1="294.2" y1="160.8" x2="294.2" y2="163.6" stroke="#333" stroke-width="0.9" />
<text x="294.2" y="171.4" font-size="7.6" text-anchor="middle" fill="#111" font-weight="bold" font-style="normal" >5</text>
<line x1="325.8" y1="160.8" x2="325.8" y2="163.6" stroke="#333" stroke-width="0.9" />
<text x="325.8" y="171.4" font-size="7.6" text-anchor="middle" fill="#111" font-weight="bold" font-style="normal" >10</text>
<line x1="357.4" y1="160.8" x2="357.4" y2="163.6" stroke="#333" stroke-width="0.9" />
<text x="357.4" y="171.4" font-size="7.6" text-anchor="middle" fill="#111" font-weight="bold" font-style="normal" >15</text>
<line x1="389.0" y1="160.8" x2="389.0" y2="163.6" stroke="#333" stroke-width="0.9" />
<text x="389.0" y="171.4" font-size="7.6" text-anchor="middle" fill="#111" font-weight="bold" font-style="normal" >20</text>
<line x1="420.6" y1="160.8" x2="420.6" y2="163.6" stroke="#333" stroke-width="0.9" />
<text x="420.6" y="171.4" font-size="7.6" text-anchor="middle" fill="#111" font-weight="bold" font-style="normal" >25</text>
<line x1="452.2" y1="160.8" x2="452.2" y2="163.6" stroke="#333" stroke-width="0.9" />
<text x="452.2" y="171.4" font-size="7.6" text-anchor="middle" fill="#111" font-weight="bold" font-style="normal" >30</text>
<line x1="278.4" y1="160.8" x2="278.4" y2="162.6" stroke="#333" stroke-width="0.8" />
<line x1="310.0" y1="160.8" x2="310.0" y2="162.6" stroke="#333" stroke-width="0.8" />
<line x1="341.6" y1="160.8" x2="341.6" y2="162.6" stroke="#333" stroke-width="0.8" />
<line x1="373.2" y1="160.8" x2="373.2" y2="162.6" stroke="#333" stroke-width="0.8" />
<line x1="404.8" y1="160.8" x2="404.8" y2="162.6" stroke="#333" stroke-width="0.8" />
<line x1="436.4" y1="160.8" x2="436.4" y2="162.6" stroke="#333" stroke-width="0.8" />
<text x="357.0" y="182.3" font-size="9" text-anchor="middle" fill="#111" font-weight="bold" font-style="normal" >Z (Å)</text>
<text x="239.4" y="84.6" font-size="9.1" text-anchor="middle" fill="#111" font-weight="bold" font-style="normal" transform="rotate(-90 239.4 84.6)">Electrostatic potential (eV)</text>
<text x="233.5" y="14.6" font-size="16.5" text-anchor="start" fill="#111" font-weight="bold" font-style="normal" >b</text>
<text x="266.3" y="20.8" font-size="9.5" text-anchor="start" fill="#e8262a" font-weight="bold" font-style="normal" >ΔV<tspan font-size="7" dy="2">2</tspan><tspan dy="-2"> = 2.37 eV</tspan></text>
<text x="436.9" y="19.2" font-size="9.5" text-anchor="end" fill="#111" font-weight="bold" font-style="normal" ><tspan font-style="italic">Φ</tspan><tspan font-size="6.5" dy="2">2</tspan><tspan dy="-2"> = 7.02 eV</tspan></text>
<text x="342.5" y="33.8" font-size="9.5" text-anchor="middle" fill="#e8262a" font-weight="bold" font-style="normal" >[In-S]</text>
<text x="349.2" y="140.0" font-size="9.4" text-anchor="start" fill="#e8262a" font-weight="bold" font-style="normal" >ΔV<tspan font-size="6.8" dy="2">3</tspan><tspan dy="-2"> = 9.63 eV</tspan></text>
<text x="429.9" y="69.8" font-size="10.3" text-anchor="start" fill="#4a5ae8" font-weight="bold" font-style="normal" >E<tspan font-size="7" dy="2.4">F2</tspan><tspan dy="-2.4"></tspan></text>
<text x="326.2" y="154.8" font-size="9.7" text-anchor="middle" fill="#2a3ae8" font-weight="bold" font-style="normal" >[Mo-S]</text>
<text x="448.1" y="155.4" font-size="9.7" text-anchor="end" fill="#111" font-weight="bold" font-style="normal" >MoS<tspan font-size="6.5" dy="2">2</tspan><tspan dy="-2">/Zn<tspan font-size="6.5" dy="2">3</tspan><tspan dy="-2">In<tspan font-size="6.5" dy="2">4</tspan><tspan dy="-2">S<tspan font-size="6.5" dy="2">9</tspan><tspan dy="-2"></tspan></tspan></tspan></tspan></text>
<rect x="265.0" y="145.0" width="40.0" height="14.0" fill="#f7f7f8" stroke="none" stroke-width="1" />
<circle cx="272.4" cy="153.5" r="5.0" fill="url(#gMo)" />
<text x="281.0" y="156.3" font-size="8.2" text-anchor="start" fill="#111" font-weight="bold" font-style="normal" >Mo</text>
<text x="461.5" y="14.6" font-size="16.5" text-anchor="start" fill="#111" font-weight="bold" font-style="normal" >c</text>
<ellipse cx="524.2" cy="21.6" rx="7.3" ry="4.6" fill="url(#gBY)" stroke="#bcc040" stroke-width="0.7" opacity="1" transform="rotate(-5 524.2 21.6)"/>
<ellipse cx="521.5" cy="32.2" rx="4.6" ry="4.2" fill="url(#gBC)" stroke="#50ccd6" stroke-width="0.7" opacity="1" transform="rotate(0 521.5 32.2)"/>
<ellipse cx="509.6" cy="25.6" rx="2.5" ry="2.5" fill="url(#gBC)" stroke="#50ccd6" stroke-width="0.7" opacity="1" transform="rotate(0 509.6 25.6)"/>
<ellipse cx="507.0" cy="45.5" rx="2.5" ry="4.0" fill="url(#gBC)" stroke="#50ccd6" stroke-width="0.7" opacity="1" transform="rotate(0 507.0 45.5)"/>
<ellipse cx="520.2" cy="49.5" rx="3.5" ry="3.5" fill="url(#gBC)" stroke="#50ccd6" stroke-width="0.7" opacity="1" transform="rotate(0 520.2 49.5)"/>
<ellipse cx="526.2" cy="60.7" rx="7.3" ry="9.3" fill="url(#gBY)" stroke="#bcc040" stroke-width="0.7" opacity="1" transform="rotate(0 526.2 60.7)"/>
<ellipse cx="525.5" cy="72.0" rx="6.6" ry="6.0" fill="url(#gBY)" stroke="#bcc040" stroke-width="0.7" opacity="1" transform="rotate(0 525.5 72.0)"/>
<ellipse cx="538.7" cy="32.2" rx="3.5" ry="4.0" fill="url(#gBC)" stroke="#50ccd6" stroke-width="0.7" opacity="1" transform="rotate(0 538.7 32.2)"/>
<ellipse cx="550.0" cy="33.6" rx="3.5" ry="3.5" fill="url(#gBC)" stroke="#50ccd6" stroke-width="0.7" opacity="1" transform="rotate(0 550.0 33.6)"/>
<ellipse cx="542.7" cy="34.9" rx="3.0" ry="3.0" fill="url(#gBY)" stroke="#bcc040" stroke-width="0.7" opacity="1" transform="rotate(0 542.7 34.9)"/>
<ellipse cx="540.0" cy="65.4" rx="5.0" ry="9.0" fill="url(#gBC)" stroke="#50ccd6" stroke-width="0.7" opacity="1" transform="rotate(5 540.0 65.4)"/>
<ellipse cx="553.3" cy="66.0" rx="5.5" ry="9.0" fill="url(#gBY)" stroke="#bcc040" stroke-width="0.7" opacity="1" transform="rotate(0 553.3 66.0)"/>
<ellipse cx="525.5" cy="113.1" rx="7.0" ry="8.0" fill="url(#gBY)" stroke="#bcc040" stroke-width="0.7" opacity="1" transform="rotate(0 525.5 113.1)"/>
<ellipse cx="526.2" cy="133.0" rx="7.0" ry="11.0" fill="url(#gBY)" stroke="#bcc040" stroke-width="0.7" opacity="1" transform="rotate(0 526.2 133.0)"/>
<ellipse cx="526.8" cy="146.3" rx="5.0" ry="2.0" fill="url(#gBY)" stroke="#bcc040" stroke-width="0.7" opacity="1" transform="rotate(0 526.8 146.3)"/>
<ellipse cx="540.0" cy="129.0" rx="3.5" ry="9.0" fill="url(#gBC)" stroke="#50ccd6" stroke-width="0.7" opacity="1" transform="rotate(0 540.0 129.0)"/>
<ellipse cx="520.2" cy="84.0" rx="4.0" ry="4.0" fill="url(#gBC)" stroke="#50ccd6" stroke-width="0.7" opacity="1" transform="rotate(0 520.2 84.0)"/>
<ellipse cx="549.4" cy="97.2" rx="3.0" ry="3.0" fill="url(#gBC)" stroke="#50ccd6" stroke-width="0.7" opacity="1" transform="rotate(0 549.4 97.2)"/>
<ellipse cx="507.0" cy="126.4" rx="2.5" ry="5.0" fill="url(#gBC)" stroke="#50ccd6" stroke-width="0.7" opacity="1" transform="rotate(0 507.0 126.4)"/>
<ellipse cx="518.9" cy="133.0" rx="2.5" ry="2.5" fill="url(#gBC)" stroke="#50ccd6" stroke-width="0.7" opacity="1" transform="rotate(0 518.9 133.0)"/>
<ellipse cx="556.0" cy="134.4" rx="3.0" ry="4.0" fill="url(#gBY)" stroke="#bcc040" stroke-width="0.7" opacity="1" transform="rotate(0 556.0 134.4)"/>
<ellipse cx="506.0" cy="100.0" rx="2.5" ry="3.0" fill="url(#gBC)" stroke="#50ccd6" stroke-width="0.7" opacity="1" transform="rotate(0 506.0 100.0)"/>
<ellipse cx="538.0" cy="98.0" rx="3.0" ry="3.5" fill="url(#gBC)" stroke="#50ccd6" stroke-width="0.7" opacity="1" transform="rotate(0 538.0 98.0)"/>
<line x1="500.1" y1="36.2" x2="492.7" y2="32.0" stroke="#bc9ac8" stroke-width="2.0" />
<line x1="492.7" y1="32.0" x2="485.3" y2="27.7" stroke="#e6ec50" stroke-width="2.0" />
<line x1="500.1" y1="36.2" x2="507.6" y2="32.0" stroke="#bc9ac8" stroke-width="2.0" />
<line x1="507.6" y1="32.0" x2="515.1" y2="27.7" stroke="#e6ec50" stroke-width="2.0" />
<line x1="500.1" y1="36.2" x2="492.7" y2="45.1" stroke="#bc9ac8" stroke-width="2.0" />
<line x1="492.7" y1="45.1" x2="485.3" y2="54.0" stroke="#e6ec50" stroke-width="2.0" />
<line x1="500.1" y1="36.2" x2="507.6" y2="45.1" stroke="#bc9ac8" stroke-width="2.0" />
<line x1="507.6" y1="45.1" x2="515.1" y2="54.0" stroke="#e6ec50" stroke-width="2.0" />
<line x1="500.1" y1="62.6" x2="492.7" y2="58.3" stroke="#bc9ac8" stroke-width="2.0" />
<line x1="492.7" y1="58.3" x2="485.3" y2="54.0" stroke="#e6ec50" stroke-width="2.0" />
<line x1="500.1" y1="62.6" x2="507.6" y2="58.3" stroke="#bc9ac8" stroke-width="2.0" />
<line x1="507.6" y1="58.3" x2="515.1" y2="54.0" stroke="#e6ec50" stroke-width="2.0" />
<line x1="500.1" y1="62.6" x2="492.7" y2="71.3" stroke="#bc9ac8" stroke-width="2.0" />
<line x1="492.7" y1="71.3" x2="485.3" y2="80.0" stroke="#e6ec50" stroke-width="2.0" />
<line x1="500.1" y1="62.6" x2="507.6" y2="71.3" stroke="#bc9ac8" stroke-width="2.0" />
<line x1="507.6" y1="71.3" x2="515.1" y2="80.0" stroke="#e6ec50" stroke-width="2.0" />
<line x1="500.1" y1="88.6" x2="492.7" y2="84.3" stroke="#bc9ac8" stroke-width="2.0" />
<line x1="492.7" y1="84.3" x2="485.3" y2="80.0" stroke="#e6ec50" stroke-width="2.0" />
<line x1="500.1" y1="88.6" x2="507.6" y2="84.3" stroke="#bc9ac8" stroke-width="2.0" />
<line x1="507.6" y1="84.3" x2="515.1" y2="80.0" stroke="#e6ec50" stroke-width="2.0" />
<line x1="500.1" y1="88.6" x2="492.7" y2="97.3" stroke="#bc9ac8" stroke-width="2.0" />
<line x1="492.7" y1="97.3" x2="485.3" y2="106.0" stroke="#e6ec50" stroke-width="2.0" />
<line x1="500.1" y1="88.6" x2="507.6" y2="97.3" stroke="#bc9ac8" stroke-width="2.0" />
<line x1="507.6" y1="97.3" x2="515.1" y2="106.0" stroke="#e6ec50" stroke-width="2.0" />
<line x1="500.1" y1="114.8" x2="492.7" y2="110.4" stroke="#bc9ac8" stroke-width="2.0" />
<line x1="492.7" y1="110.4" x2="485.3" y2="106.0" stroke="#e6ec50" stroke-width="2.0" />
<line x1="500.1" y1="114.8" x2="507.6" y2="110.4" stroke="#bc9ac8" stroke-width="2.0" />
<line x1="507.6" y1="110.4" x2="515.1" y2="106.0" stroke="#e6ec50" stroke-width="2.0" />
<line x1="500.1" y1="114.8" x2="492.7" y2="123.5" stroke="#bc9ac8" stroke-width="2.0" />
<line x1="492.7" y1="123.5" x2="485.3" y2="132.2" stroke="#e6ec50" stroke-width="2.0" />
<line x1="500.1" y1="114.8" x2="507.6" y2="123.5" stroke="#bc9ac8" stroke-width="2.0" />
<line x1="507.6" y1="123.5" x2="515.1" y2="132.2" stroke="#e6ec50" stroke-width="2.0" />
<line x1="500.1" y1="141.2" x2="492.7" y2="136.7" stroke="#bc9ac8" stroke-width="2.0" />
<line x1="492.7" y1="136.7" x2="485.3" y2="132.2" stroke="#e6ec50" stroke-width="2.0" />
<line x1="500.1" y1="141.2" x2="507.6" y2="136.7" stroke="#bc9ac8" stroke-width="2.0" />
<line x1="507.6" y1="136.7" x2="515.1" y2="132.2" stroke="#e6ec50" stroke-width="2.0" />
<line x1="500.1" y1="141.2" x2="492.7" y2="149.8" stroke="#bc9ac8" stroke-width="2.0" />
<line x1="492.7" y1="149.8" x2="485.3" y2="158.3" stroke="#e6ec50" stroke-width="2.0" />
<line x1="500.1" y1="141.2" x2="507.6" y2="149.8" stroke="#bc9ac8" stroke-width="2.0" />
<line x1="507.6" y1="149.8" x2="515.1" y2="158.3" stroke="#e6ec50" stroke-width="2.0" />
<circle cx="500.1" cy="36.2" r="4.3" fill="url(#gMo)" />
<circle cx="500.1" cy="62.6" r="4.3" fill="url(#gMo)" />
<circle cx="500.1" cy="88.6" r="4.3" fill="url(#gMo)" />
<circle cx="500.1" cy="114.8" r="4.3" fill="url(#gMo)" />
<circle cx="500.1" cy="141.2" r="4.3" fill="url(#gMo)" />
<circle cx="485.3" cy="27.7" r="3.1" fill="url(#gS)" />
<circle cx="515.1" cy="27.7" r="3.1" fill="url(#gS)" />
<circle cx="485.3" cy="54.0" r="3.1" fill="url(#gS)" />
<circle cx="515.1" cy="54.0" r="3.1" fill="url(#gS)" />
<circle cx="485.3" cy="80.0" r="3.1" fill="url(#gS)" />
<circle cx="515.1" cy="80.0" r="3.1" fill="url(#gS)" />
<circle cx="485.3" cy="106.0" r="3.1" fill="url(#gS)" />
<circle cx="515.1" cy="106.0" r="3.1" fill="url(#gS)" />
<circle cx="485.3" cy="132.2" r="3.1" fill="url(#gS)" />
<circle cx="515.1" cy="132.2" r="3.1" fill="url(#gS)" />
<circle cx="485.3" cy="158.3" r="3.1" fill="url(#gS)" />
<circle cx="515.1" cy="158.3" r="3.1" fill="url(#gS)" />
<line x1="545.7" y1="11.3" x2="545.0" y2="26.1" stroke="#e0a0dc" stroke-width="2.2" />
<line x1="545.0" y1="26.1" x2="544.2" y2="41.0" stroke="#e6ec50" stroke-width="2.2" />
<line x1="545.7" y1="11.3" x2="559.1" y2="13.4" stroke="#e0a0dc" stroke-width="2.2" />
<line x1="559.1" y1="13.4" x2="572.5" y2="15.4" stroke="#e6ec50" stroke-width="2.2" />
<line x1="546.4" y1="67.4" x2="545.3" y2="54.2" stroke="#e0a0dc" stroke-width="2.2" />
<line x1="545.3" y1="54.2" x2="544.2" y2="41.0" stroke="#e6ec50" stroke-width="2.2" />
<line x1="546.4" y1="67.4" x2="545.5" y2="79.6" stroke="#e0a0dc" stroke-width="2.2" />
<line x1="545.5" y1="79.6" x2="544.7" y2="91.8" stroke="#e6ec50" stroke-width="2.2" />
<line x1="546.4" y1="67.4" x2="559.6" y2="73.8" stroke="#e0a0dc" stroke-width="2.2" />
<line x1="559.6" y1="73.8" x2="572.9" y2="80.2" stroke="#e6ec50" stroke-width="2.2" />
<line x1="547.3" y1="120.8" x2="546.0" y2="106.3" stroke="#e0a0dc" stroke-width="2.2" />
<line x1="546.0" y1="106.3" x2="544.7" y2="91.8" stroke="#e6ec50" stroke-width="2.2" />
<line x1="547.3" y1="120.8" x2="560.1" y2="117.4" stroke="#e0a0dc" stroke-width="2.2" />
<line x1="560.1" y1="117.4" x2="572.9" y2="114.0" stroke="#e6ec50" stroke-width="2.2" />
<line x1="546.4" y1="141.3" x2="545.5" y2="153.2" stroke="#e0a0dc" stroke-width="2.2" />
<line x1="545.5" y1="153.2" x2="544.7" y2="165.2" stroke="#e6ec50" stroke-width="2.2" />
<line x1="546.4" y1="141.3" x2="559.2" y2="143.4" stroke="#e0a0dc" stroke-width="2.2" />
<line x1="559.2" y1="143.4" x2="572.0" y2="145.6" stroke="#e6ec50" stroke-width="2.2" />
<line x1="581.0" y1="37.8" x2="576.8" y2="26.6" stroke="#e0a0dc" stroke-width="2.2" />
<line x1="576.8" y1="26.6" x2="572.5" y2="15.4" stroke="#e6ec50" stroke-width="2.2" />
<line x1="581.0" y1="37.8" x2="577.1" y2="43.2" stroke="#e0a0dc" stroke-width="2.2" />
<line x1="577.1" y1="43.2" x2="573.3" y2="48.6" stroke="#e6ec50" stroke-width="2.2" />
<line x1="581.0" y1="37.8" x2="592.9" y2="37.8" stroke="#e0a0dc" stroke-width="2.2" />
<line x1="592.9" y1="37.8" x2="604.8" y2="37.8" stroke="#e6ec50" stroke-width="2.2" />
<line x1="581.0" y1="102.9" x2="577.0" y2="91.6" stroke="#e0a0dc" stroke-width="2.2" />
<line x1="577.0" y1="91.6" x2="572.9" y2="80.2" stroke="#e6ec50" stroke-width="2.2" />
<line x1="581.0" y1="102.9" x2="577.0" y2="108.5" stroke="#e0a0dc" stroke-width="2.2" />
<line x1="577.0" y1="108.5" x2="572.9" y2="114.0" stroke="#e6ec50" stroke-width="2.2" />
<line x1="581.0" y1="102.9" x2="592.9" y2="103.2" stroke="#e0a0dc" stroke-width="2.2" />
<line x1="592.9" y1="103.2" x2="604.8" y2="103.4" stroke="#e6ec50" stroke-width="2.2" />
<line x1="618.5" y1="26.6" x2="611.6" y2="15.7" stroke="#e0a0dc" stroke-width="2.2" />
<line x1="611.6" y1="15.7" x2="604.8" y2="4.8" stroke="#e6ec50" stroke-width="2.2" />
<line x1="618.5" y1="26.6" x2="611.6" y2="32.2" stroke="#e0a0dc" stroke-width="2.2" />
<line x1="611.6" y1="32.2" x2="604.8" y2="37.8" stroke="#e6ec50" stroke-width="2.2" />
<line x1="618.5" y1="26.6" x2="624.8" y2="21.4" stroke="#e0a0dc" stroke-width="2.2" />
<line x1="624.8" y1="21.4" x2="631.0" y2="16.1" stroke="#e6ec50" stroke-width="2.2" />
<line x1="618.5" y1="26.6" x2="624.8" y2="37.5" stroke="#e0a0dc" stroke-width="2.2" />
<line x1="624.8" y1="37.5" x2="631.0" y2="48.3" stroke="#e6ec50" stroke-width="2.2" />
<line x1="618.5" y1="59.6" x2="611.6" y2="48.7" stroke="#e0a0dc" stroke-width="2.2" />
<line x1="611.6" y1="48.7" x2="604.8" y2="37.8" stroke="#e6ec50" stroke-width="2.2" />
<line x1="618.5" y1="59.6" x2="611.6" y2="64.8" stroke="#e0a0dc" stroke-width="2.2" />
<line x1="611.6" y1="64.8" x2="604.8" y2="70.0" stroke="#e6ec50" stroke-width="2.2" />
<line x1="618.5" y1="59.6" x2="624.8" y2="54.0" stroke="#e0a0dc" stroke-width="2.2" />
<line x1="624.8" y1="54.0" x2="631.0" y2="48.3" stroke="#e6ec50" stroke-width="2.2" />
<line x1="618.5" y1="59.6" x2="624.8" y2="70.0" stroke="#e0a0dc" stroke-width="2.2" />
<line x1="624.8" y1="70.0" x2="631.0" y2="80.5" stroke="#e6ec50" stroke-width="2.2" />
<line x1="618.5" y1="92.2" x2="611.6" y2="81.1" stroke="#e0a0dc" stroke-width="2.2" />
<line x1="611.6" y1="81.1" x2="604.8" y2="70.0" stroke="#e6ec50" stroke-width="2.2" />
<line x1="618.5" y1="92.2" x2="611.6" y2="97.8" stroke="#e0a0dc" stroke-width="2.2" />
<line x1="611.6" y1="97.8" x2="604.8" y2="103.4" stroke="#e6ec50" stroke-width="2.2" />
<line x1="618.5" y1="92.2" x2="624.8" y2="86.3" stroke="#e0a0dc" stroke-width="2.2" />
<line x1="624.8" y1="86.3" x2="631.0" y2="80.5" stroke="#e6ec50" stroke-width="2.2" />
<line x1="618.5" y1="92.2" x2="624.8" y2="103.0" stroke="#e0a0dc" stroke-width="2.2" />
<line x1="624.8" y1="103.0" x2="631.0" y2="113.8" stroke="#e6ec50" stroke-width="2.2" />
<line x1="618.5" y1="124.6" x2="611.6" y2="114.0" stroke="#e0a0dc" stroke-width="2.2" />
<line x1="611.6" y1="114.0" x2="604.8" y2="103.4" stroke="#e6ec50" stroke-width="2.2" />
<line x1="618.5" y1="124.6" x2="611.6" y2="130.2" stroke="#e0a0dc" stroke-width="2.2" />
<line x1="611.6" y1="130.2" x2="604.8" y2="135.8" stroke="#e6ec50" stroke-width="2.2" />
<line x1="618.5" y1="124.6" x2="624.8" y2="119.2" stroke="#e0a0dc" stroke-width="2.2" />
<line x1="624.8" y1="119.2" x2="631.0" y2="113.8" stroke="#e6ec50" stroke-width="2.2" />
<line x1="618.5" y1="124.6" x2="624.8" y2="135.8" stroke="#e0a0dc" stroke-width="2.2" />
<line x1="624.8" y1="135.8" x2="631.0" y2="147.0" stroke="#e6ec50" stroke-width="2.2" />
<line x1="582.3" y1="70.0" x2="577.8" y2="59.3" stroke="#b0b0a6" stroke-width="2.2" />
<line x1="577.8" y1="59.3" x2="573.3" y2="48.6" stroke="#e6ec50" stroke-width="2.2" />
<line x1="582.3" y1="70.0" x2="577.6" y2="75.1" stroke="#b0b0a6" stroke-width="2.2" />
<line x1="577.6" y1="75.1" x2="572.9" y2="80.2" stroke="#e6ec50" stroke-width="2.2" />
<line x1="582.3" y1="70.0" x2="593.5" y2="70.0" stroke="#b0b0a6" stroke-width="2.2" />
<line x1="593.5" y1="70.0" x2="604.8" y2="70.0" stroke="#e6ec50" stroke-width="2.2" />
<line x1="582.3" y1="135.8" x2="577.6" y2="124.9" stroke="#b0b0a6" stroke-width="2.2" />
<line x1="577.6" y1="124.9" x2="572.9" y2="114.0" stroke="#e6ec50" stroke-width="2.2" />
<line x1="582.3" y1="135.8" x2="577.1" y2="140.7" stroke="#b0b0a6" stroke-width="2.2" />
<line x1="577.1" y1="140.7" x2="572.0" y2="145.6" stroke="#e6ec50" stroke-width="2.2" />
<line x1="582.3" y1="135.8" x2="593.5" y2="135.8" stroke="#b0b0a6" stroke-width="2.2" />
<line x1="593.5" y1="135.8" x2="604.8" y2="135.8" stroke="#e6ec50" stroke-width="2.2" />
<line x1="654.5" y1="48.3" x2="642.8" y2="48.3" stroke="#b0b0a6" stroke-width="2.2" />
<line x1="642.8" y1="48.3" x2="631.0" y2="48.3" stroke="#e6ec50" stroke-width="2.2" />
<line x1="654.5" y1="48.3" x2="657.5" y2="37.5" stroke="#b0b0a6" stroke-width="2.2" />
<line x1="657.5" y1="37.5" x2="660.5" y2="26.6" stroke="#e6ec50" stroke-width="2.2" />
<line x1="654.5" y1="48.3" x2="657.5" y2="54.0" stroke="#b0b0a6" stroke-width="2.2" />
<line x1="657.5" y1="54.0" x2="660.5" y2="59.6" stroke="#e6ec50" stroke-width="2.2" />
<line x1="654.5" y1="81.2" x2="642.8" y2="80.8" stroke="#b0b0a6" stroke-width="2.2" />
<line x1="642.8" y1="80.8" x2="631.0" y2="80.5" stroke="#e6ec50" stroke-width="2.2" />
<line x1="654.5" y1="81.2" x2="657.5" y2="70.4" stroke="#b0b0a6" stroke-width="2.2" />
<line x1="657.5" y1="70.4" x2="660.5" y2="59.6" stroke="#e6ec50" stroke-width="2.2" />
<line x1="654.5" y1="81.2" x2="657.5" y2="86.7" stroke="#b0b0a6" stroke-width="2.2" />
<line x1="657.5" y1="86.7" x2="660.5" y2="92.2" stroke="#e6ec50" stroke-width="2.2" />
<line x1="654.5" y1="113.8" x2="642.8" y2="113.8" stroke="#b0b0a6" stroke-width="2.2" />
<line x1="642.8" y1="113.8" x2="631.0" y2="113.8" stroke="#e6ec50" stroke-width="2.2" />
<line x1="654.5" y1="113.8" x2="657.5" y2="103.0" stroke="#b0b0a6" stroke-width="2.2" />
<line x1="657.5" y1="103.0" x2="660.5" y2="92.2" stroke="#e6ec50" stroke-width="2.2" />
<line x1="654.5" y1="113.8" x2="657.5" y2="119.2" stroke="#b0b0a6" stroke-width="2.2" />
<line x1="657.5" y1="119.2" x2="660.5" y2="124.6" stroke="#e6ec50" stroke-width="2.2" />
<line x1="654.5" y1="147.0" x2="642.8" y2="147.0" stroke="#b0b0a6" stroke-width="2.2" />
<line x1="642.8" y1="147.0" x2="631.0" y2="147.0" stroke="#e6ec50" stroke-width="2.2" />
<line x1="654.5" y1="147.0" x2="657.5" y2="135.8" stroke="#b0b0a6" stroke-width="2.2" />
<line x1="657.5" y1="135.8" x2="660.5" y2="124.6" stroke="#e6ec50" stroke-width="2.2" />
<line x1="654.5" y1="147.0" x2="657.5" y2="152.4" stroke="#b0b0a6" stroke-width="2.2" />
<line x1="657.5" y1="152.4" x2="660.5" y2="157.8" stroke="#e6ec50" stroke-width="2.2" />
<circle cx="545.7" cy="11.3" r="5.8" fill="url(#gIn)" />
<circle cx="546.4" cy="67.4" r="5.8" fill="url(#gIn)" />
<circle cx="547.3" cy="120.8" r="5.8" fill="url(#gIn)" />
<circle cx="546.4" cy="141.3" r="5.8" fill="url(#gIn)" />
<circle cx="581.0" cy="37.8" r="5.8" fill="url(#gIn)" />
<circle cx="581.0" cy="102.9" r="5.8" fill="url(#gIn)" />
<circle cx="618.5" cy="26.6" r="5.8" fill="url(#gIn)" />
<circle cx="618.5" cy="59.6" r="5.8" fill="url(#gIn)" />
<circle cx="618.5" cy="92.2" r="5.8" fill="url(#gIn)" />
<circle cx="618.5" cy="124.6" r="5.8" fill="url(#gIn)" />
<circle cx="582.3" cy="70.0" r="5.1" fill="url(#gZn)" />
<circle cx="582.3" cy="135.8" r="5.1" fill="url(#gZn)" />
<circle cx="654.5" cy="48.3" r="5.1" fill="url(#gZn)" />
<circle cx="654.5" cy="81.2" r="5.1" fill="url(#gZn)" />
<circle cx="654.5" cy="113.8" r="5.1" fill="url(#gZn)" />
<circle cx="654.5" cy="147.0" r="5.1" fill="url(#gZn)" />
<circle cx="544.2" cy="41.0" r="3.8" fill="url(#gS)" />
<circle cx="544.7" cy="91.8" r="3.8" fill="url(#gS)" />
<circle cx="544.7" cy="165.2" r="3.8" fill="url(#gS)" />
<circle cx="572.5" cy="15.4" r="3.8" fill="url(#gS)" />
<circle cx="573.3" cy="48.6" r="3.8" fill="url(#gS)" />
<circle cx="572.9" cy="80.2" r="3.8" fill="url(#gS)" />
<circle cx="572.9" cy="114.0" r="3.8" fill="url(#gS)" />
<circle cx="572.0" cy="145.6" r="3.8" fill="url(#gS)" />
<circle cx="604.8" cy="4.8" r="3.8" fill="url(#gS)" />
<circle cx="604.8" cy="37.8" r="3.8" fill="url(#gS)" />
<circle cx="604.8" cy="70.0" r="3.8" fill="url(#gS)" />
<circle cx="604.8" cy="103.4" r="3.8" fill="url(#gS)" />
<circle cx="604.8" cy="135.8" r="3.8" fill="url(#gS)" />
<circle cx="631.0" cy="16.1" r="3.8" fill="url(#gS)" />
<circle cx="631.0" cy="48.3" r="3.8" fill="url(#gS)" />
<circle cx="631.0" cy="80.5" r="3.8" fill="url(#gS)" />
<circle cx="631.0" cy="113.8" r="3.8" fill="url(#gS)" />
<circle cx="631.0" cy="147.0" r="3.8" fill="url(#gS)" />
<circle cx="660.5" cy="26.6" r="3.8" fill="url(#gS)" />
<circle cx="660.5" cy="59.6" r="3.8" fill="url(#gS)" />
<circle cx="660.5" cy="92.2" r="3.8" fill="url(#gS)" />
<circle cx="660.5" cy="124.6" r="3.8" fill="url(#gS)" />
<circle cx="660.5" cy="157.8" r="3.8" fill="url(#gS)" />
<circle cx="544.7" cy="170.0" r="3.6" fill="url(#gS)" />
<line x1="473.3" y1="16.9" x2="675.6" y2="16.9" stroke="#555" stroke-width="0.8" />
<line x1="473.3" y1="148.2" x2="675.6" y2="148.2" stroke="#555" stroke-width="0.8" />
<path d="M551,95 Q534,95 519,102.5" stroke="#9ccf80" stroke-width="4" fill="none" stroke-linecap="round" opacity="0.95"/>
<path d="M523.5,95 L515.5,103.5 L534.5,104.5" stroke="#9ccf80" stroke-width="3.4" fill="none" stroke-linecap="round" stroke-linejoin="round" opacity="0.95"/>
<circle cx="534.1" cy="84.4" r="8.0" fill="#5aa83a" />
<text x="533.6" y="88.7" font-size="12.5" text-anchor="middle" fill="#fff" font-weight="bold" font-style="normal" >e<tspan font-size="7" dy="-4.5">-</tspan></text>
<text x="552.4" y="96.3" font-size="11.2" text-anchor="start" fill="#e8262a" font-weight="bold" font-style="normal" >[S-In]</text>
<text x="478.6" y="109.3" font-size="11" text-anchor="start" fill="#2233dd" font-weight="bold" font-style="normal" >[Mo-S]</text>
<text x="2.5" y="193.8" font-size="16.5" text-anchor="start" fill="#111" font-weight="bold" font-style="normal" >d</text>
<line x1="73.4" y1="186.0" x2="73.4" y2="334.5" stroke="#666" stroke-width="0.8" />
<line x1="160.5" y1="186.0" x2="160.5" y2="334.5" stroke="#999" stroke-width="0.8" />
<line x1="73.8" y1="204.3" x2="66.7" y2="201.9" stroke="#b0b0a6" stroke-width="1.3" />
<line x1="66.7" y1="201.9" x2="59.6" y2="199.6" stroke="#e6ec50" stroke-width="1.3" />
<line x1="73.8" y1="204.3" x2="77.4" y2="201.9" stroke="#b0b0a6" stroke-width="1.3" />
<line x1="77.4" y1="201.9" x2="81.0" y2="199.6" stroke="#e6ec50" stroke-width="1.3" />
<line x1="73.8" y1="204.3" x2="73.8" y2="212.2" stroke="#b0b0a6" stroke-width="1.3" />
<line x1="73.8" y1="212.2" x2="73.8" y2="220.2" stroke="#e6ec50" stroke-width="1.3" />
<line x1="95.6" y1="204.3" x2="88.3" y2="201.9" stroke="#b0b0a6" stroke-width="1.3" />
<line x1="88.3" y1="201.9" x2="81.0" y2="199.6" stroke="#e6ec50" stroke-width="1.3" />
<line x1="95.6" y1="204.3" x2="99.3" y2="201.9" stroke="#b0b0a6" stroke-width="1.3" />
<line x1="99.3" y1="201.9" x2="103.0" y2="199.6" stroke="#e6ec50" stroke-width="1.3" />
<line x1="95.6" y1="204.3" x2="95.6" y2="212.2" stroke="#b0b0a6" stroke-width="1.3" />
<line x1="95.6" y1="212.2" x2="95.6" y2="220.2" stroke="#e6ec50" stroke-width="1.3" />
<line x1="117.5" y1="204.3" x2="110.2" y2="201.9" stroke="#b0b0a6" stroke-width="1.3" />
<line x1="110.2" y1="201.9" x2="103.0" y2="199.6" stroke="#e6ec50" stroke-width="1.3" />
<line x1="117.5" y1="204.3" x2="121.1" y2="201.9" stroke="#b0b0a6" stroke-width="1.3" />
<line x1="121.1" y1="201.9" x2="124.7" y2="199.6" stroke="#e6ec50" stroke-width="1.3" />
<line x1="117.5" y1="204.3" x2="117.5" y2="212.2" stroke="#b0b0a6" stroke-width="1.3" />
<line x1="117.5" y1="212.2" x2="117.5" y2="220.2" stroke="#e6ec50" stroke-width="1.3" />
<line x1="139.5" y1="204.3" x2="132.1" y2="201.9" stroke="#b0b0a6" stroke-width="1.3" />
<line x1="132.1" y1="201.9" x2="124.7" y2="199.6" stroke="#e6ec50" stroke-width="1.3" />
<line x1="139.5" y1="204.3" x2="143.0" y2="201.9" stroke="#b0b0a6" stroke-width="1.3" />
<line x1="143.0" y1="201.9" x2="146.5" y2="199.6" stroke="#e6ec50" stroke-width="1.3" />
<line x1="139.5" y1="204.3" x2="139.5" y2="212.2" stroke="#b0b0a6" stroke-width="1.3" />
<line x1="139.5" y1="212.2" x2="139.5" y2="220.2" stroke="#e6ec50" stroke-width="1.3" />
<line x1="73.8" y1="220.2" x2="77.4" y2="224.2" stroke="#e6ec50" stroke-width="1.3" />
<line x1="77.4" y1="224.2" x2="81.0" y2="228.3" stroke="#e0a0dc" stroke-width="1.3" />
<line x1="95.6" y1="220.2" x2="88.3" y2="224.2" stroke="#e6ec50" stroke-width="1.3" />
<line x1="88.3" y1="224.2" x2="81.0" y2="228.3" stroke="#e0a0dc" stroke-width="1.3" />
<line x1="95.6" y1="220.2" x2="99.3" y2="224.2" stroke="#e6ec50" stroke-width="1.3" />
<line x1="99.3" y1="224.2" x2="103.0" y2="228.3" stroke="#e0a0dc" stroke-width="1.3" />
<line x1="117.5" y1="220.2" x2="110.2" y2="224.2" stroke="#e6ec50" stroke-width="1.3" />
<line x1="110.2" y1="224.2" x2="103.0" y2="228.3" stroke="#e0a0dc" stroke-width="1.3" />
<line x1="117.5" y1="220.2" x2="121.1" y2="224.2" stroke="#e6ec50" stroke-width="1.3" />
<line x1="121.1" y1="224.2" x2="124.7" y2="228.3" stroke="#e0a0dc" stroke-width="1.3" />
<line x1="139.5" y1="220.2" x2="132.1" y2="224.2" stroke="#e6ec50" stroke-width="1.3" />
<line x1="132.1" y1="224.2" x2="124.7" y2="228.3" stroke="#e0a0dc" stroke-width="1.3" />
<line x1="139.5" y1="220.2" x2="143.0" y2="224.2" stroke="#e6ec50" stroke-width="1.3" />
<line x1="143.0" y1="224.2" x2="146.5" y2="228.3" stroke="#e0a0dc" stroke-width="1.3" />
<line x1="161.1" y1="220.2" x2="153.8" y2="224.2" stroke="#e6ec50" stroke-width="1.3" />
<line x1="153.8" y1="224.2" x2="146.5" y2="228.3" stroke="#e0a0dc" stroke-width="1.3" />
<line x1="81.0" y1="228.3" x2="84.8" y2="232.9" stroke="#e0a0dc" stroke-width="1.3" />
<line x1="84.8" y1="232.9" x2="88.6" y2="237.6" stroke="#e6ec50" stroke-width="1.3" />
<line x1="103.0" y1="228.3" x2="106.7" y2="232.9" stroke="#e0a0dc" stroke-width="1.3" />
<line x1="106.7" y1="232.9" x2="110.4" y2="237.6" stroke="#e6ec50" stroke-width="1.3" />
<line x1="124.7" y1="228.3" x2="128.5" y2="232.9" stroke="#e0a0dc" stroke-width="1.3" />
<line x1="128.5" y1="232.9" x2="132.3" y2="237.6" stroke="#e6ec50" stroke-width="1.3" />
<line x1="146.5" y1="228.3" x2="139.4" y2="232.9" stroke="#e0a0dc" stroke-width="1.3" />
<line x1="139.4" y1="232.9" x2="132.3" y2="237.6" stroke="#e6ec50" stroke-width="1.3" />
<line x1="146.5" y1="228.3" x2="150.3" y2="232.9" stroke="#e0a0dc" stroke-width="1.3" />
<line x1="150.3" y1="232.9" x2="154.1" y2="237.6" stroke="#e6ec50" stroke-width="1.3" />
<line x1="88.6" y1="237.6" x2="88.4" y2="245.1" stroke="#e6ec50" stroke-width="1.3" />
<line x1="88.4" y1="245.1" x2="88.3" y2="252.6" stroke="#b0b0a6" stroke-width="1.3" />
<line x1="110.4" y1="237.6" x2="110.3" y2="245.3" stroke="#e6ec50" stroke-width="1.3" />
<line x1="110.3" y1="245.3" x2="110.2" y2="253.0" stroke="#e0a0dc" stroke-width="1.3" />
<line x1="132.3" y1="237.6" x2="132.2" y2="245.1" stroke="#e6ec50" stroke-width="1.3" />
<line x1="132.2" y1="245.1" x2="132.1" y2="252.6" stroke="#b0b0a6" stroke-width="1.3" />
<line x1="154.1" y1="237.6" x2="154.1" y2="245.3" stroke="#e6ec50" stroke-width="1.3" />
<line x1="154.1" y1="245.3" x2="154.0" y2="253.0" stroke="#e0a0dc" stroke-width="1.3" />
<line x1="88.3" y1="252.6" x2="81.1" y2="255.5" stroke="#b0b0a6" stroke-width="1.3" />
<line x1="81.1" y1="255.5" x2="73.9" y2="258.4" stroke="#e6ec50" stroke-width="1.3" />
<line x1="88.3" y1="252.6" x2="91.9" y2="255.5" stroke="#b0b0a6" stroke-width="1.3" />
<line x1="91.9" y1="255.5" x2="95.6" y2="258.4" stroke="#e6ec50" stroke-width="1.3" />
<line x1="110.2" y1="253.0" x2="102.9" y2="255.7" stroke="#e0a0dc" stroke-width="1.3" />
<line x1="102.9" y1="255.7" x2="95.6" y2="258.4" stroke="#e6ec50" stroke-width="1.3" />
<line x1="110.2" y1="253.0" x2="113.7" y2="255.7" stroke="#e0a0dc" stroke-width="1.3" />
<line x1="113.7" y1="255.7" x2="117.2" y2="258.4" stroke="#e6ec50" stroke-width="1.3" />
<line x1="132.1" y1="252.6" x2="124.7" y2="255.5" stroke="#b0b0a6" stroke-width="1.3" />
<line x1="124.7" y1="255.5" x2="117.2" y2="258.4" stroke="#e6ec50" stroke-width="1.3" />
<line x1="132.1" y1="252.6" x2="135.8" y2="255.5" stroke="#b0b0a6" stroke-width="1.3" />
<line x1="135.8" y1="255.5" x2="139.4" y2="258.4" stroke="#e6ec50" stroke-width="1.3" />
<line x1="154.0" y1="253.0" x2="146.7" y2="255.7" stroke="#e0a0dc" stroke-width="1.3" />
<line x1="146.7" y1="255.7" x2="139.4" y2="258.4" stroke="#e6ec50" stroke-width="1.3" />
<line x1="154.0" y1="253.0" x2="157.5" y2="255.7" stroke="#e0a0dc" stroke-width="1.3" />
<line x1="157.5" y1="255.7" x2="161.0" y2="258.4" stroke="#e6ec50" stroke-width="1.3" />
<circle cx="73.8" cy="204.3" r="3.5" fill="url(#gZn)" />
<circle cx="95.6" cy="204.3" r="3.5" fill="url(#gZn)" />
<circle cx="117.5" cy="204.3" r="3.5" fill="url(#gZn)" />
<circle cx="139.5" cy="204.3" r="3.5" fill="url(#gZn)" />
<circle cx="59.6" cy="199.6" r="2.6" fill="url(#gS)" />
<circle cx="81.0" cy="199.6" r="2.6" fill="url(#gS)" />
<circle cx="103.0" cy="199.6" r="2.6" fill="url(#gS)" />
<circle cx="124.7" cy="199.6" r="2.6" fill="url(#gS)" />
<circle cx="146.5" cy="199.6" r="2.6" fill="url(#gS)" />
<circle cx="73.8" cy="220.2" r="2.6" fill="url(#gS)" />
<circle cx="95.6" cy="220.2" r="2.6" fill="url(#gS)" />
<circle cx="117.5" cy="220.2" r="2.6" fill="url(#gS)" />
<circle cx="139.5" cy="220.2" r="2.6" fill="url(#gS)" />
<circle cx="161.1" cy="220.2" r="2.6" fill="url(#gS)" />
<circle cx="81.0" cy="228.3" r="4.0" fill="url(#gIn)" />
<circle cx="103.0" cy="228.3" r="4.0" fill="url(#gIn)" />
<circle cx="124.7" cy="228.3" r="4.0" fill="url(#gIn)" />
<circle cx="146.5" cy="228.3" r="4.0" fill="url(#gIn)" />
<circle cx="66.3" cy="237.6" r="2.6" fill="url(#gS)" />
<circle cx="88.6" cy="237.6" r="2.6" fill="url(#gS)" />
<circle cx="110.4" cy="237.6" r="2.6" fill="url(#gS)" />
<circle cx="132.3" cy="237.6" r="2.6" fill="url(#gS)" />
<circle cx="154.1" cy="237.6" r="2.6" fill="url(#gS)" />
<circle cx="88.3" cy="252.6" r="3.5" fill="url(#gZn)" />
<circle cx="110.2" cy="253.0" r="4.0" fill="url(#gIn)" />
<circle cx="132.1" cy="252.6" r="3.5" fill="url(#gZn)" />
<circle cx="154.0" cy="253.0" r="4.0" fill="url(#gIn)" />
<circle cx="73.9" cy="258.4" r="2.6" fill="url(#gS)" />
<circle cx="95.6" cy="258.4" r="2.6" fill="url(#gS)" />
<circle cx="117.2" cy="258.4" r="2.6" fill="url(#gS)" />
<circle cx="139.4" cy="258.4" r="2.6" fill="url(#gS)" />
<circle cx="161.0" cy="258.4" r="2.6" fill="url(#gS)" />
<line x1="73.9" y1="258.4" x2="74.0" y2="266.7" stroke="#e6ec50" stroke-width="1.3" />
<line x1="74.0" y1="266.7" x2="74.0" y2="275.0" stroke="#e0a0dc" stroke-width="1.3" />
<line x1="95.6" y1="258.4" x2="94.2" y2="267.6" stroke="#e6ec50" stroke-width="1.3" />
<line x1="94.2" y1="267.6" x2="92.7" y2="276.8" stroke="#e0a0dc" stroke-width="1.3" />
<line x1="117.2" y1="259.3" x2="116.8" y2="267.6" stroke="#e6ec50" stroke-width="1.3" />
<line x1="116.8" y1="267.6" x2="116.3" y2="275.9" stroke="#e0a0dc" stroke-width="1.3" />
<line x1="139.4" y1="258.4" x2="140.1" y2="267.6" stroke="#e6ec50" stroke-width="1.3" />
<line x1="140.1" y1="267.6" x2="140.8" y2="276.8" stroke="#e0a0dc" stroke-width="1.3" />
<line x1="73.9" y1="275.0" x2="76.9" y2="276.0" stroke="#e0a0dc" stroke-width="1.2" />
<line x1="78.7" y1="275.5" x2="81.7" y2="276.5" stroke="#e0a0dc" stroke-width="1.2" />
<line x1="76.9" y1="278.2" x2="79.9" y2="279.2" stroke="#e6ec50" stroke-width="1.2" />
<line x1="80.4" y1="278.9" x2="83.4" y2="279.9" stroke="#e6ec50" stroke-width="1.2" />
<line x1="86.5" y1="278.9" x2="89.5" y2="279.9" stroke="#e6ec50" stroke-width="1.2" />
<line x1="92.7" y1="276.8" x2="95.7" y2="277.8" stroke="#e0a0dc" stroke-width="1.2" />
<line x1="116.3" y1="275.9" x2="119.3" y2="276.9" stroke="#e0a0dc" stroke-width="1.2" />
<line x1="124.2" y1="278.2" x2="127.2" y2="279.2" stroke="#e6ec50" stroke-width="1.2" />
<line x1="131.2" y1="278.2" x2="134.2" y2="279.2" stroke="#e6ec50" stroke-width="1.2" />
<line x1="140.8" y1="276.8" x2="143.8" y2="277.8" stroke="#e0a0dc" stroke-width="1.2" />
<circle cx="73.9" cy="275.0" r="4.5" fill="url(#gIn)" />
<circle cx="78.7" cy="275.5" r="4.5" fill="url(#gIn)" />
<circle cx="76.9" cy="278.2" r="2.7" fill="url(#gS)" />
<circle cx="80.4" cy="278.9" r="2.7" fill="url(#gS)" />
<circle cx="86.5" cy="278.9" r="2.7" fill="url(#gS)" />
<circle cx="92.7" cy="276.8" r="4.5" fill="url(#gIn)" />
<circle cx="116.3" cy="275.9" r="4.5" fill="url(#gIn)" />
<circle cx="124.2" cy="278.2" r="2.7" fill="url(#gS)" />
<circle cx="131.2" cy="278.2" r="2.7" fill="url(#gS)" />
<circle cx="140.8" cy="276.8" r="4.5" fill="url(#gIn)" />
<line x1="71.8" y1="308.0" x2="69.0" y2="302.9" stroke="#bc9ac8" stroke-width="1.3" />
<line x1="69.0" y1="302.9" x2="66.2" y2="297.8" stroke="#e6ec50" stroke-width="1.3" />
<line x1="71.8" y1="308.0" x2="69.0" y2="312.9" stroke="#bc9ac8" stroke-width="1.3" />
<line x1="69.0" y1="312.9" x2="66.2" y2="317.9" stroke="#e6ec50" stroke-width="1.3" />
<line x1="71.8" y1="308.0" x2="77.8" y2="302.9" stroke="#bc9ac8" stroke-width="1.3" />
<line x1="77.8" y1="302.9" x2="83.7" y2="297.8" stroke="#e6ec50" stroke-width="1.3" />
<line x1="71.8" y1="308.0" x2="77.8" y2="312.9" stroke="#bc9ac8" stroke-width="1.3" />
<line x1="77.8" y1="312.9" x2="83.7" y2="317.9" stroke="#e6ec50" stroke-width="1.3" />
<line x1="89.6" y1="308.0" x2="86.7" y2="302.9" stroke="#bc9ac8" stroke-width="1.3" />
<line x1="86.7" y1="302.9" x2="83.7" y2="297.8" stroke="#e6ec50" stroke-width="1.3" />
<line x1="89.6" y1="308.0" x2="86.7" y2="312.9" stroke="#bc9ac8" stroke-width="1.3" />
<line x1="86.7" y1="312.9" x2="83.7" y2="317.9" stroke="#e6ec50" stroke-width="1.3" />
<line x1="89.6" y1="308.0" x2="95.5" y2="302.9" stroke="#bc9ac8" stroke-width="1.3" />
<line x1="95.5" y1="302.9" x2="101.4" y2="297.8" stroke="#e6ec50" stroke-width="1.3" />
<line x1="89.6" y1="308.0" x2="95.5" y2="312.9" stroke="#bc9ac8" stroke-width="1.3" />
<line x1="95.5" y1="312.9" x2="101.4" y2="317.9" stroke="#e6ec50" stroke-width="1.3" />
<line x1="107.4" y1="308.0" x2="104.4" y2="302.9" stroke="#bc9ac8" stroke-width="1.3" />
<line x1="104.4" y1="302.9" x2="101.4" y2="297.8" stroke="#e6ec50" stroke-width="1.3" />
<line x1="107.4" y1="308.0" x2="104.4" y2="312.9" stroke="#bc9ac8" stroke-width="1.3" />
<line x1="104.4" y1="312.9" x2="101.4" y2="317.9" stroke="#e6ec50" stroke-width="1.3" />
<line x1="107.4" y1="308.0" x2="113.0" y2="302.9" stroke="#bc9ac8" stroke-width="1.3" />
<line x1="113.0" y1="302.9" x2="118.6" y2="297.8" stroke="#e6ec50" stroke-width="1.3" />
<line x1="107.4" y1="308.0" x2="113.0" y2="312.9" stroke="#bc9ac8" stroke-width="1.3" />
<line x1="113.0" y1="312.9" x2="118.6" y2="317.9" stroke="#e6ec50" stroke-width="1.3" />
<line x1="124.9" y1="308.0" x2="121.8" y2="302.9" stroke="#bc9ac8" stroke-width="1.3" />
<line x1="121.8" y1="302.9" x2="118.6" y2="297.8" stroke="#e6ec50" stroke-width="1.3" />
<line x1="124.9" y1="308.0" x2="121.8" y2="312.9" stroke="#bc9ac8" stroke-width="1.3" />
<line x1="121.8" y1="312.9" x2="118.6" y2="317.9" stroke="#e6ec50" stroke-width="1.3" />
<line x1="124.9" y1="308.0" x2="130.5" y2="302.9" stroke="#bc9ac8" stroke-width="1.3" />
<line x1="130.5" y1="302.9" x2="136.1" y2="297.8" stroke="#e6ec50" stroke-width="1.3" />
<line x1="124.9" y1="308.0" x2="130.5" y2="312.9" stroke="#bc9ac8" stroke-width="1.3" />
<line x1="130.5" y1="312.9" x2="136.1" y2="317.9" stroke="#e6ec50" stroke-width="1.3" />
<line x1="142.3" y1="308.0" x2="139.2" y2="302.9" stroke="#bc9ac8" stroke-width="1.3" />
<line x1="139.2" y1="302.9" x2="136.1" y2="297.8" stroke="#e6ec50" stroke-width="1.3" />
<line x1="142.3" y1="308.0" x2="139.2" y2="312.9" stroke="#bc9ac8" stroke-width="1.3" />
<line x1="139.2" y1="312.9" x2="136.1" y2="317.9" stroke="#e6ec50" stroke-width="1.3" />
<line x1="142.3" y1="308.0" x2="148.0" y2="302.9" stroke="#bc9ac8" stroke-width="1.3" />
<line x1="148.0" y1="302.9" x2="153.7" y2="297.8" stroke="#e6ec50" stroke-width="1.3" />
<line x1="142.3" y1="308.0" x2="148.0" y2="312.9" stroke="#bc9ac8" stroke-width="1.3" />
<line x1="148.0" y1="312.9" x2="153.7" y2="317.9" stroke="#e6ec50" stroke-width="1.3" />
<line x1="159.8" y1="308.0" x2="156.8" y2="302.9" stroke="#bc9ac8" stroke-width="1.3" />
<line x1="156.8" y1="302.9" x2="153.7" y2="297.8" stroke="#e6ec50" stroke-width="1.3" />
<line x1="159.8" y1="308.0" x2="156.8" y2="312.9" stroke="#bc9ac8" stroke-width="1.3" />
<line x1="156.8" y1="312.9" x2="153.7" y2="317.9" stroke="#e6ec50" stroke-width="1.3" />
<line x1="159.8" y1="308.0" x2="165.7" y2="302.9" stroke="#bc9ac8" stroke-width="1.3" />
<line x1="165.7" y1="302.9" x2="171.5" y2="297.8" stroke="#e6ec50" stroke-width="1.3" />
<line x1="159.8" y1="308.0" x2="165.7" y2="312.9" stroke="#bc9ac8" stroke-width="1.3" />
<line x1="165.7" y1="312.9" x2="171.5" y2="317.9" stroke="#e6ec50" stroke-width="1.3" />
<circle cx="71.8" cy="308.0" r="3.6" fill="url(#gMo)" />
<circle cx="89.6" cy="308.0" r="3.6" fill="url(#gMo)" />
<circle cx="107.4" cy="308.0" r="3.6" fill="url(#gMo)" />
<circle cx="124.9" cy="308.0" r="3.6" fill="url(#gMo)" />
<circle cx="142.3" cy="308.0" r="3.6" fill="url(#gMo)" />
<circle cx="159.8" cy="308.0" r="3.6" fill="url(#gMo)" />
<circle cx="66.2" cy="297.8" r="2.7" fill="url(#gS)" />
<circle cx="66.2" cy="317.9" r="2.7" fill="url(#gS)" />
<circle cx="83.7" cy="297.8" r="2.7" fill="url(#gS)" />
<circle cx="83.7" cy="317.9" r="2.7" fill="url(#gS)" />
<circle cx="101.4" cy="297.8" r="2.7" fill="url(#gS)" />
<circle cx="101.4" cy="317.9" r="2.7" fill="url(#gS)" />
<circle cx="118.6" cy="297.8" r="2.7" fill="url(#gS)" />
<circle cx="118.6" cy="317.9" r="2.7" fill="url(#gS)" />
<circle cx="136.1" cy="297.8" r="2.7" fill="url(#gS)" />
<circle cx="136.1" cy="317.9" r="2.7" fill="url(#gS)" />
<circle cx="153.7" cy="297.8" r="2.7" fill="url(#gS)" />
<circle cx="153.7" cy="317.9" r="2.7" fill="url(#gS)" />
<circle cx="171.5" cy="297.8" r="2.7" fill="url(#gS)" />
<circle cx="171.5" cy="317.9" r="2.7" fill="url(#gS)" />
<text x="2.3" y="231.0" font-size="9.3" text-anchor="start" fill="#111" font-weight="bold" font-style="normal" >Zn: -0.017</text>
<text x="2.3" y="266.0" font-size="9.3" text-anchor="start" fill="#111" font-weight="bold" font-style="normal" >In: -0.17</text>
<text x="12.3" y="310.8" font-size="9.0" text-anchor="start" fill="#111" font-weight="bold" font-style="normal" >Mo: 0.073</text>
<line x1="50.5" y1="307.7" x2="60.4" y2="307.7" stroke="#222" stroke-width="0.8" />
<path d="M60.4,307.7 L56.9,309.3 L56.9,306.1 Z" stroke="none" stroke-width="0" fill="#222" />
<line x1="46.4" y1="227.0" x2="67.0" y2="208.5" stroke="#222" stroke-width="0.7" />
<path d="M67.0,208.5 L65.5,211.6 L63.8,209.7 Z" stroke="none" stroke-width="0" fill="#222" />
<line x1="46.4" y1="227.0" x2="83.3" y2="251.5" stroke="#222" stroke-width="0.7" />
<path d="M83.3,251.5 L79.9,250.8 L81.4,248.6 Z" stroke="none" stroke-width="0" fill="#222" />
<line x1="36.9" y1="263.0" x2="77.2" y2="231.0" stroke="#222" stroke-width="0.7" />
<path d="M77.2,231.0 L75.5,234.0 L73.9,232.0 Z" stroke="none" stroke-width="0" fill="#222" />
<line x1="36.9" y1="263.0" x2="104.0" y2="253.6" stroke="#222" stroke-width="0.7" />
<path d="M104.0,253.6 L101.0,255.3 L100.7,252.8 Z" stroke="none" stroke-width="0" fill="#222" />
<line x1="36.9" y1="263.0" x2="67.2" y2="273.4" stroke="#222" stroke-width="0.7" />
<path d="M67.2,273.4 L63.8,273.6 L64.6,271.1 Z" stroke="none" stroke-width="0" fill="#222" />
<text x="172.1" y="203.6" font-size="9.3" text-anchor="start" fill="#111" font-weight="bold" font-style="normal" >S1: 0.037</text>
<line x1="167.4" y1="200.6" x2="152.8" y2="200.6" stroke="#222" stroke-width="0.7" />
<path d="M152.8,200.6 L156.0,199.3 L156.0,201.9 Z" stroke="none" stroke-width="0" fill="#222" />
<text x="175.9" y="223.2" font-size="9.3" text-anchor="start" fill="#111" font-weight="bold" font-style="normal" >S2: 0.026</text>
<line x1="174.0" y1="220.2" x2="165.5" y2="220.2" stroke="#222" stroke-width="0.7" />
<path d="M165.5,220.2 L168.7,218.9 L168.7,221.5 Z" stroke="none" stroke-width="0" fill="#222" />
<text x="170.6" y="240.6" font-size="9.3" text-anchor="start" fill="#111" font-weight="bold" font-style="normal" >S3: -0.003</text>
<line x1="169.3" y1="237.6" x2="156.6" y2="237.6" stroke="#222" stroke-width="0.7" />
<path d="M156.6,237.6 L159.8,236.3 L159.8,238.9 Z" stroke="none" stroke-width="0" fill="#222" />
<text x="175.9" y="261.5" font-size="9.3" text-anchor="start" fill="#111" font-weight="bold" font-style="normal" >S4: -0.054</text>
<line x1="174.0" y1="258.5" x2="164.5" y2="258.5" stroke="#222" stroke-width="0.7" />
<path d="M164.5,258.5 L167.7,257.2 L167.7,259.8 Z" stroke="none" stroke-width="0" fill="#222" />
<text x="184.5" y="301.0" font-size="9.3" text-anchor="start" fill="#111" font-weight="bold" font-style="normal" >S6: 0.64</text>
<line x1="183.5" y1="298.0" x2="174.5" y2="298.0" stroke="#222" stroke-width="0.7" />
<path d="M174.5,298.0 L177.7,296.7 L177.7,299.3 Z" stroke="none" stroke-width="0" fill="#222" />
<text x="185.4" y="320.9" font-size="9.3" text-anchor="start" fill="#111" font-weight="bold" font-style="normal" >S7: -0.27</text>
<line x1="184.5" y1="317.9" x2="174.5" y2="317.9" stroke="#222" stroke-width="0.7" />
<path d="M174.5,317.9 L177.7,316.6 L177.7,319.2 Z" stroke="none" stroke-width="0" fill="#222" />
<line x1="145.5" y1="278.4" x2="169.3" y2="278.4" stroke="#999" stroke-width="0.8" />
<text x="171.2" y="281.4" font-size="9.3" text-anchor="start" fill="#111" font-weight="bold" font-style="normal" >S5: -0.26</text>
<rect x="263.1" y="186.7" width="189.1" height="145.8" fill="#f4f3f5" stroke="none" stroke-width="1" />
<line x1="263.1" y1="259.4" x2="452.2" y2="259.4" stroke="#333" stroke-width="0.9" />
<rect x="281.8" y="248.7" width="16.8" height="10.7" fill="#f27fd6" stroke="none" stroke-width="1" />
<text x="290.2" y="245.5" font-size="8.4" text-anchor="middle" fill="#111" font-weight="bold" font-style="normal" >0.073</text>
<rect x="315.6" y="204.9" width="16.8" height="54.5" fill="#d9877f" stroke="none" stroke-width="1" />
<text x="324.0" y="201.7" font-size="8.4" text-anchor="middle" fill="#111" font-weight="bold" font-style="normal" >0.373</text>
<rect x="349.2" y="259.9" width="16.8" height="2.0" fill="#e2c43c" stroke="none" stroke-width="1" />
<text x="357.6" y="270.6" font-size="8.4" text-anchor="middle" fill="#111" font-weight="bold" font-style="normal" >-0.017</text>
<rect x="383.0" y="259.9" width="16.8" height="24.9" fill="#76b9cf" stroke="none" stroke-width="1" />
<text x="391.4" y="293.5" font-size="8.4" text-anchor="middle" fill="#111" font-weight="bold" font-style="normal" >-0.174</text>
<rect x="416.6" y="259.9" width="16.8" height="13.4" fill="#a6d06f" stroke="none" stroke-width="1" />
<text x="425.0" y="282.0" font-size="8.4" text-anchor="middle" fill="#111" font-weight="bold" font-style="normal" >-0.095</text>
<rect x="263.1" y="186.7" width="189.1" height="145.8" fill="none" stroke="#3a3a3a" stroke-width="1.1" />
<line x1="260.3" y1="201.0" x2="263.1" y2="201.0" stroke="#333" stroke-width="0.9" />
<text x="259.3" y="203.7" font-size="7.8" text-anchor="end" fill="#111" font-weight="bold" font-style="normal" >0.4</text>
<line x1="260.3" y1="230.2" x2="263.1" y2="230.2" stroke="#333" stroke-width="0.9" />
<text x="259.3" y="232.9" font-size="7.8" text-anchor="end" fill="#111" font-weight="bold" font-style="normal" >0.2</text>
<line x1="260.3" y1="259.4" x2="263.1" y2="259.4" stroke="#333" stroke-width="0.9" />
<text x="259.3" y="262.1" font-size="7.8" text-anchor="end" fill="#111" font-weight="bold" font-style="normal" >0.0</text>
<line x1="260.3" y1="288.6" x2="263.1" y2="288.6" stroke="#333" stroke-width="0.9" />
<text x="259.3" y="291.3" font-size="7.8" text-anchor="end" fill="#111" font-weight="bold" font-style="normal" >-0.2</text>
<line x1="260.3" y1="317.8" x2="263.1" y2="317.8" stroke="#333" stroke-width="0.9" />
<text x="259.3" y="320.5" font-size="7.8" text-anchor="end" fill="#111" font-weight="bold" font-style="normal" >-0.4</text>
<line x1="261.3" y1="186.4" x2="263.1" y2="186.4" stroke="#333" stroke-width="0.8" />
<line x1="261.3" y1="215.6" x2="263.1" y2="215.6" stroke="#333" stroke-width="0.8" />
<line x1="261.3" y1="244.8" x2="263.1" y2="244.8" stroke="#333" stroke-width="0.8" />
<line x1="261.3" y1="274.0" x2="263.1" y2="274.0" stroke="#333" stroke-width="0.8" />
<line x1="261.3" y1="303.2" x2="263.1" y2="303.2" stroke="#333" stroke-width="0.8" />
<line x1="261.3" y1="332.4" x2="263.1" y2="332.4" stroke="#333" stroke-width="0.8" />
<text x="240.3" y="259.0" font-size="8.8" text-anchor="middle" fill="#111" font-weight="bold" font-style="normal" transform="rotate(-90 240.3 259)">Bader charge (e)</text>
<text x="233.8" y="193.4" font-size="16.5" text-anchor="start" fill="#111" font-weight="bold" font-style="normal" >e</text>
<rect x="271.4" y="287.2" width="14.8" height="6.5" fill="#f27fd6" stroke="none" stroke-width="1" />
<text x="290.7" y="293.5" font-size="8.4" text-anchor="start" fill="#111" font-weight="bold" font-style="normal" >Mo</text>
<rect x="271.4" y="298.6" width="14.8" height="6.5" fill="#d9877f" stroke="none" stroke-width="1" />
<text x="290.7" y="304.9" font-size="8.4" text-anchor="start" fill="#111" font-weight="bold" font-style="normal" >S (MoS<tspan font-size="5.5" dy="1.8">2</tspan><tspan dy="-1.8">)</tspan></text>
<rect x="271.4" y="311.6" width="14.8" height="6.5" fill="#e2c43c" stroke="none" stroke-width="1" />
<text x="290.7" y="317.9" font-size="8.4" text-anchor="start" fill="#111" font-weight="bold" font-style="normal" >Zn</text>
<rect x="271.4" y="322.9" width="14.8" height="6.5" fill="#a6d06f" stroke="none" stroke-width="1" />
<text x="290.7" y="329.2" font-size="8.4" text-anchor="start" fill="#111" font-weight="bold" font-style="normal" >S (Zn<tspan font-size="5.5" dy="1.8">3</tspan><tspan dy="-1.8">In<tspan font-size="5.5" dy="1.8">4</tspan><tspan dy="-1.8">S<tspan font-size="5.5" dy="1.8">9</tspan><tspan dy="-1.8">)</tspan></tspan></tspan></text>
<rect x="335.9" y="311.7" width="14.6" height="6.6" fill="#76b9cf" stroke="none" stroke-width="1" />
<text x="354.7" y="318.0" font-size="8.4" text-anchor="start" fill="#111" font-weight="bold" font-style="normal" >In</text>
<text x="462.0" y="193.7" font-size="16.5" text-anchor="start" fill="#111" font-weight="bold" font-style="normal" >f</text>
<rect x="557.2" y="178.6" width="21.3" height="86.6" fill="url(#fBand)" stroke="none" stroke-width="1" />
<rect x="474.9" y="217.3" width="82.3" height="47.5" fill="url(#fBlue)" stroke="none" stroke-width="1" />
<rect x="578.5" y="240.2" width="98.0" height="25.0" fill="url(#fPink)" stroke="none" stroke-width="1" />
<line x1="474.9" y1="178.0" x2="676.5" y2="178.0" stroke="#4a78d0" stroke-width="1.1" stroke-dasharray="4.2,2.6"/>
<line x1="474.9" y1="217.3" x2="557.2" y2="217.3" stroke="#3a68cc" stroke-width="1.3" />
<line x1="557.2" y1="217.3" x2="676.5" y2="217.3" stroke="#4a78d0" stroke-width="1.1" stroke-dasharray="4.2,2.6"/>
<line x1="578.5" y1="195.6" x2="673.6" y2="195.6" stroke="#ee2a2a" stroke-width="1.3" />
<line x1="578.5" y1="240.2" x2="676.5" y2="240.2" stroke="#ee2a2a" stroke-width="1.3" />
<path d="M557.8,205.8 Q560,196 578.3,195.8" stroke="#ee2a2a" stroke-width="0.9" fill="none" stroke-dasharray="2.4,1.8"/>
<path d="M557.8,248.5 Q560,240.5 578.3,240.1" stroke="#ee2a2a" stroke-width="0.9" fill="none" stroke-dasharray="2.4,1.8"/>
<path d="M579,189 Q558,188 547,196" stroke="#a2d48a" stroke-width="3.6" fill="none" stroke-linecap="round" opacity="0.95"/>
<path d="M550,189.5 L543,197.8 L554,199" stroke="#a2d48a" stroke-width="3.2" fill="none" stroke-linecap="round" stroke-linejoin="round" opacity="0.95"/>
<circle cx="482.1" cy="208.8" r="6.6" fill="#5cae3e" />
<text x="481.5" y="212.4" font-size="10.8" text-anchor="middle" fill="#fff" font-weight="bold" font-style="normal" >e<tspan font-size="6" dy="-3.8">-</tspan></text>
<circle cx="500.4" cy="208.8" r="6.6" fill="#5cae3e" />
<text x="499.8" y="212.4" font-size="10.8" text-anchor="middle" fill="#fff" font-weight="bold" font-style="normal" >e<tspan font-size="6" dy="-3.8">-</tspan></text>
<circle cx="518.4" cy="208.8" r="6.6" fill="#5cae3e" />
<text x="517.8" y="212.4" font-size="10.8" text-anchor="middle" fill="#fff" font-weight="bold" font-style="normal" >e<tspan font-size="6" dy="-3.8">-</tspan></text>
<circle cx="536.8" cy="208.8" r="6.6" fill="#5cae3e" />
<text x="536.2" y="212.4" font-size="10.8" text-anchor="middle" fill="#fff" font-weight="bold" font-style="normal" >e<tspan font-size="6" dy="-3.8">-</tspan></text>
<circle cx="586.3" cy="186.1" r="6.6" fill="#5cae3e" />
<text x="585.7" y="189.7" font-size="10.8" text-anchor="middle" fill="#fff" font-weight="bold" font-style="normal" >e<tspan font-size="6" dy="-3.8">-</tspan></text>
<circle cx="603.4" cy="186.1" r="6.6" fill="#5cae3e" />
<text x="602.8" y="189.7" font-size="10.8" text-anchor="middle" fill="#fff" font-weight="bold" font-style="normal" >e<tspan font-size="6" dy="-3.8">-</tspan></text>
<circle cx="621.8" cy="186.1" r="6.6" fill="#5cae3e" />
<text x="621.2" y="189.7" font-size="10.8" text-anchor="middle" fill="#fff" font-weight="bold" font-style="normal" >e<tspan font-size="6" dy="-3.8">-</tspan></text>
<circle cx="640.4" cy="186.1" r="6.6" fill="#5cae3e" />
<text x="639.8" y="189.7" font-size="10.8" text-anchor="middle" fill="#fff" font-weight="bold" font-style="normal" >e<tspan font-size="6" dy="-3.8">-</tspan></text>
<circle cx="585.7" cy="232.3" r="6.5" fill="#ee2222" />
<text x="585.1" y="235.9" font-size="10.8" text-anchor="middle" fill="#fff" font-weight="bold" font-style="normal" >h<tspan font-size="6" dy="-3.8">+</tspan></text>
<circle cx="603.4" cy="232.3" r="6.5" fill="#ee2222" />
<text x="602.8" y="235.9" font-size="10.8" text-anchor="middle" fill="#fff" font-weight="bold" font-style="normal" >h<tspan font-size="6" dy="-3.8">+</tspan></text>
<circle cx="621.4" cy="232.3" r="6.5" fill="#ee2222" />
<text x="620.8" y="235.9" font-size="10.8" text-anchor="middle" fill="#fff" font-weight="bold" font-style="normal" >h<tspan font-size="6" dy="-3.8">+</tspan></text>
<circle cx="640.8" cy="232.3" r="6.5" fill="#ee2222" />
<text x="640.2" y="235.9" font-size="10.8" text-anchor="middle" fill="#fff" font-weight="bold" font-style="normal" >h<tspan font-size="6" dy="-3.8">+</tspan></text>
<text x="491.5" y="192.0" font-size="10.5" text-anchor="start" fill="#111" font-weight="bold" font-style="italic" >E<tspan font-size="6.8" dy="2.2" font-style="normal">vac</tspan><tspan dy="-2.2"></tspan></text>
<text x="494.5" y="230.3" font-size="10.5" text-anchor="start" fill="#111" font-weight="bold" font-style="italic" >E<tspan font-size="7" dy="2.4">F</tspan></text>
<text x="652.5" y="191.4" font-size="10.5" text-anchor="start" fill="#111" font-weight="bold" font-style="italic" >E<tspan font-size="6.8" dy="2.2" font-style="normal">CBM</tspan><tspan dy="-2.2"></tspan></text>
<text x="654.4" y="236.0" font-size="10.5" text-anchor="start" fill="#111" font-weight="bold" font-style="italic" >E<tspan font-size="6.8" dy="2.2" font-style="normal">VBM</tspan><tspan dy="-2.2"></tspan></text>
<text x="614.5" y="210.0" font-size="11.2" text-anchor="middle" fill="#111" font-weight="bold" font-style="normal" >In5s5p+S3p</text>
<text x="613.1" y="255.2" font-size="11.2" text-anchor="middle" fill="#111" font-weight="bold" font-style="normal" >Zn3p+S3p</text>
<text x="581.2" y="274.7" font-size="10.8" text-anchor="middle" fill="#111" font-weight="bold" font-style="normal" >Fast charge directed transfer</text>
<rect x="557.2" y="277.6" width="21.3" height="62.2" fill="url(#fBand2)" stroke="none" stroke-width="1" />
<rect x="475.7" y="277.6" width="81.5" height="62.2" fill="url(#fBlue)" stroke="none" stroke-width="1" />
<rect x="578.5" y="277.6" width="97.5" height="62.2" fill="url(#fPink)" stroke="none" stroke-width="1" />
<path d="M478.5,286.9 L490.0,288.0 L505.4,290.2 L514.0,292.0 L522.2,295.3 L530.6,303.7 L535.0,298.0 L540.6,293.6 L546.0,290.0 L552.4,286.9 L562.5,286.9 L568.0,292.0 L572.5,297.0 L578.0,305.0 L582.6,310.4 L591.0,317.1 L597.0,315.0 L602.7,312.1 L608.0,307.0 L612.8,303.7 L619.5,293.6 L626.3,300.3 L631.0,306.0 L636.3,310.4 L649.8,313.8" stroke="#eef47a" stroke-width="2.6" fill="none" opacity="0.3" stroke-linejoin="round"/>
<path d="M530.6,303.7 L533.0,309.0 L535.6,315.4 L532.0,322.0 L530.0,330.0" stroke="#eef47a" stroke-width="2.6" fill="none" opacity="0.3" stroke-linejoin="round"/>
<path d="M522.2,295.3 L518.0,302.0 L522.2,313.8" stroke="#eef47a" stroke-width="2.6" fill="none" opacity="0.3" stroke-linejoin="round"/>
<path d="M602.7,262.0 L603.0,275.0 L604.4,293.6 L606.0,300.0" stroke="#eef47a" stroke-width="2.6" fill="none" opacity="0.3" stroke-linejoin="round"/>
<path d="M619.5,293.6 L622.0,286.0 L627.0,282.0" stroke="#eef47a" stroke-width="2.6" fill="none" opacity="0.3" stroke-linejoin="round"/>
<path d="M478.5,286.9 L490.0,288.0 L505.4,290.2 L514.0,292.0 L522.2,295.3 L530.6,303.7 L535.0,298.0 L540.6,293.6 L546.0,290.0 L552.4,286.9 L562.5,286.9 L568.0,292.0 L572.5,297.0 L578.0,305.0 L582.6,310.4 L591.0,317.1 L597.0,315.0 L602.7,312.1 L608.0,307.0 L612.8,303.7 L619.5,293.6 L626.3,300.3 L631.0,306.0 L636.3,310.4 L649.8,313.8" stroke="#eef564" stroke-width="0.8" fill="none" opacity="0.85" stroke-linejoin="round"/>
<path d="M530.6,303.7 L533.0,309.0 L535.6,315.4 L532.0,322.0 L530.0,330.0" stroke="#eef564" stroke-width="0.8" fill="none" opacity="0.85" stroke-linejoin="round"/>
<path d="M522.2,295.3 L518.0,302.0 L522.2,313.8" stroke="#eef564" stroke-width="0.8" fill="none" opacity="0.85" stroke-linejoin="round"/>
<path d="M602.7,262.0 L603.0,275.0 L604.4,293.6 L606.0,300.0" stroke="#eef564" stroke-width="0.8" fill="none" opacity="0.85" stroke-linejoin="round"/>
<path d="M619.5,293.6 L622.0,286.0 L627.0,282.0" stroke="#eef564" stroke-width="0.8" fill="none" opacity="0.85" stroke-linejoin="round"/>
<path d="M500.0,288.0 L504.0,284.0 L512.0,283.0" stroke="#eef564" stroke-width="0.6" fill="none" opacity="0.6"/>
<path d="M540.6,293.6 L545.0,300.0 L548.0,296.0" stroke="#eef564" stroke-width="0.6" fill="none" opacity="0.6"/>
<path d="M582.6,310.4 L586.0,318.0 L584.0,325.0" stroke="#eef564" stroke-width="0.6" fill="none" opacity="0.6"/>
<path d="M626.3,300.3 L630.0,296.0 L640.0,299.0 L648.0,304.0" stroke="#eef564" stroke-width="0.6" fill="none" opacity="0.6"/>
<path d="M572.5,297.0 L568.0,304.0 L565.0,310.0" stroke="#eef564" stroke-width="0.6" fill="none" opacity="0.6"/>
<circle cx="520.3" cy="288.4" r="4.0" fill="url(#gGb)" />
<circle cx="497.9" cy="299.4" r="4.0" fill="url(#gGb)" />
<circle cx="482.2" cy="312.6" r="4.0" fill="url(#gGb)" />
<circle cx="515.1" cy="315.7" r="4.0" fill="url(#gGb)" />
<circle cx="550.8" cy="300.6" r="4.0" fill="url(#gGb)" />
<circle cx="583.1" cy="300.2" r="4.0" fill="url(#gGb)" />
<circle cx="609.7" cy="307.0" r="4.0" fill="url(#gGb)" />
<circle cx="609.7" cy="296.0" r="4.0" fill="url(#gRed)" />
<circle cx="637.6" cy="298.9" r="4.0" fill="url(#gRed)" />
<circle cx="657.1" cy="296.0" r="4.0" fill="url(#gRed)" />
<circle cx="652.7" cy="306.5" r="4.0" fill="url(#gRed)" />
<circle cx="671.7" cy="302.7" r="4.0" fill="url(#gRed)" />
<text x="552.2" y="289.2" font-size="12" text-anchor="middle" fill="#111" font-weight="bold" font-style="normal" >+</text>
<text x="552.2" y="319.4" font-size="12" text-anchor="middle" fill="#111" font-weight="bold" font-style="normal" >+</text>
<text x="582.5" y="289.2" font-size="12" text-anchor="middle" fill="#111" font-weight="bold" font-style="normal" >+</text>
<text x="669.0" y="288.6" font-size="12" text-anchor="middle" fill="#111" font-weight="bold" font-style="normal" >-</text>
<text x="669.0" y="318.8" font-size="12" text-anchor="middle" fill="#111" font-weight="bold" font-style="normal" >-</text>
<text x="575.5" y="288.6" font-size="10" text-anchor="middle" fill="#111" font-weight="bold" font-style="normal" >-</text>
<text x="575.5" y="318.8" font-size="10" text-anchor="middle" fill="#111" font-weight="bold" font-style="normal" >-</text>
<line x1="587.3" y1="284.7" x2="663.2" y2="284.7" stroke="#111" stroke-width="0.8" />
<path d="M663.2,284.7 L659.7,286.2 L659.7,283.2 Z" stroke="none" stroke-width="0" fill="#111" />
<line x1="587.3" y1="315.0" x2="663.2" y2="315.0" stroke="#111" stroke-width="0.8" />
<path d="M663.2,315.0 L659.7,316.5 L659.7,313.5 Z" stroke="none" stroke-width="0" fill="#111" />
<line x1="558.8" y1="284.7" x2="572.0" y2="284.7" stroke="#111" stroke-width="0.8" />
<path d="M572.0,284.7 L569.0,286.0 L569.0,283.4 Z" stroke="none" stroke-width="0" fill="#111" />
<line x1="558.8" y1="315.0" x2="572.0" y2="315.0" stroke="#111" stroke-width="0.8" />
<path d="M572.0,315.0 L569.0,316.3 L569.0,313.7 Z" stroke="none" stroke-width="0" fill="#111" />
<line x1="579.7" y1="300.8" x2="559.0" y2="300.8" stroke="#3a8a2a" stroke-width="1.2" />
<path d="M559.0,300.8 L563.0,298.9 L563.0,302.7 Z" stroke="none" stroke-width="0" fill="#3a8a2a" />
<line x1="607.2" y1="307.0" x2="590.1" y2="307.0" stroke="#3a8a2a" stroke-width="1.2" />
<path d="M590.1,307.0 L594.1,305.1 L594.1,308.9 Z" stroke="none" stroke-width="0" fill="#3a8a2a" />
<line x1="612.0" y1="296.0" x2="628.1" y2="296.0" stroke="#ee2a2a" stroke-width="1.2" />
<path d="M628.1,296.0 L624.1,297.9 L624.1,294.1 Z" stroke="none" stroke-width="0" fill="#ee2a2a" />
<text x="565.4" y="283.6" font-size="9" text-anchor="middle" fill="#ee2a2a" font-weight="bold" font-style="normal" >E</text>
<text x="616.7" y="283.6" font-size="9" text-anchor="middle" fill="#ee2a2a" font-weight="bold" font-style="normal" >E</text>
<text x="545.3" y="329.5" font-size="9.3" text-anchor="middle" fill="#1a1a1a" font-weight="normal" font-style="normal" stroke="#1a1a1a" stroke-width="0.25">[Mo-S]</text>
<text x="590.1" y="329.5" font-size="9.3" text-anchor="middle" fill="#1a1a1a" font-weight="normal" font-style="normal" stroke="#1a1a1a" stroke-width="0.25">[S-In]</text>
<text x="646.5" y="329.5" font-size="9.3" text-anchor="middle" fill="#1a1a1a" font-weight="normal" font-style="normal" stroke="#1a1a1a" stroke-width="0.25">[Zn-S]</text>
<line x1="565.8" y1="330.5" x2="565.8" y2="320.0" stroke="#ee2222" stroke-width="1.2" />
<path d="M565.8,320.0 L567.4,323.4 L564.2,323.4 Z" stroke="none" stroke-width="0" fill="#ee2222" />
<line x1="612.0" y1="330.5" x2="612.0" y2="320.0" stroke="#ee2222" stroke-width="1.2" />
<path d="M612.0,320.0 L613.6,323.4 L610.4,323.4 Z" stroke="none" stroke-width="0" fill="#ee2222" />
<text x="567.5" y="338.8" font-size="9.6" text-anchor="middle" fill="#ee2222" font-weight="normal" font-style="normal" stroke="#ee2222" stroke-width="0.3">IDF</text>
<text x="613.5" y="338.8" font-size="9.6" text-anchor="middle" fill="#ee2222" font-weight="normal" font-style="normal" stroke="#ee2222" stroke-width="0.3">PEF</text>
<text x="480.4" y="337.4" font-size="10" text-anchor="start" fill="#111" font-weight="bold" font-style="normal" >MoS<tspan font-size="6.5" dy="2">2</tspan><tspan dy="-2"></tspan></text>
<rect x="25.8" y="353.3" width="188.3" height="153.0" fill="url(#bgGH)" stroke="none" stroke-width="1" />
<path d="M29.2,449.0 L29.2,468.2 L29.2,464.9 L30.0,463.9 L30.8,464.6 L31.6,463.9 L32.4,463.9 L33.1,466.0 L33.9,466.3 L34.7,463.4 L35.5,465.6 L36.3,465.7 L37.1,463.1 L37.9,465.1 L38.7,463.8 L39.5,465.2 L40.2,464.7 L41.0,466.6 L41.8,464.9 L42.6,464.1 L43.4,465.5 L44.2,464.8 L45.0,465.1 L45.8,467.4 L46.5,465.0 L47.3,465.7 L48.1,466.8 L48.9,467.8 L49.7,464.9 L50.5,466.4 L51.3,465.6 L52.1,465.1 L52.8,465.8 L53.6,465.2 L54.4,467.1 L55.2,465.8 L56.0,467.1 L56.8,465.5 L57.6,465.7 L58.4,468.6 L59.2,468.6 L59.9,468.4 L60.7,465.8 L61.5,467.8 L62.3,467.2 L63.1,468.4 L63.9,467.8 L64.7,468.3 L65.5,468.5 L66.2,467.7 L67.0,467.8 L67.8,466.0 L68.6,464.4 L69.4,455.0 L70.2,453.9 L71.0,449.4 L71.8,453.3 L72.5,460.7 L73.3,446.3 L74.1,442.6 L74.9,441.8 L75.7,446.0 L76.5,441.6 L77.3,448.8 L78.1,435.8 L78.8,438.6 L79.6,442.0 L80.4,443.9 L81.2,427.6 L82.0,423.1 L82.8,437.3 L83.6,422.5 L84.4,427.4 L85.2,430.1 L85.9,425.1 L86.7,413.7 L87.5,408.9 L88.3,420.9 L89.1,407.8 L89.9,415.2 L90.7,400.2 L91.5,404.3 L92.2,391.5 L93.0,386.8 L93.8,392.5 L94.6,380.7 L95.4,392.0 L96.2,395.1 L97.0,384.7 L97.8,393.9 L98.5,389.8 L99.3,385.0 L100.1,380.3 L100.9,387.4 L101.7,388.4 L102.5,372.5 L103.3,381.5 L104.1,369.0 L104.9,369.5 L105.6,378.2 L106.4,376.1 L107.2,374.4 L108.0,371.5 L108.8,371.8 L109.6,371.8 L110.4,370.1 L111.2,363.7 L111.9,370.9 L112.7,371.6 L113.5,365.8 L114.3,373.8 L115.1,372.1 L115.9,358.9 L116.7,365.1 L117.5,362.5 L118.2,370.2 L119.0,362.3 L119.8,360.6 L120.6,366.6 L121.4,361.6 L122.2,361.5 L123.0,366.3 L123.8,361.5 L124.6,362.9 L125.3,361.1 L126.1,363.8 L126.9,360.9 L127.7,360.6 L128.5,366.6 L129.3,366.3 L130.1,361.1 L130.9,358.7 L131.6,364.7 L132.4,363.0 L133.2,361.8 L134.0,364.1 L134.8,363.7 L135.6,364.2 L136.4,363.7 L137.2,361.8 L137.9,364.3 L138.7,363.6 L139.5,360.3 L140.3,366.6 L141.1,362.0 L141.9,360.6 L142.7,364.2 L143.5,364.9 L144.3,360.0 L145.0,364.8 L145.8,365.2 L146.6,363.1 L147.4,360.9 L148.2,365.9 L149.0,364.1 L149.8,364.0 L150.6,359.8 L151.3,363.1 L152.1,359.6 L152.9,365.4 L153.7,364.0 L154.5,362.2 L155.3,361.7 L156.1,362.7 L156.9,363.3 L157.6,363.5 L158.4,362.5 L159.2,363.3 L160.0,361.9 L160.8,361.8 L161.6,363.4 L162.4,363.1 L163.2,361.9 L164.0,362.3 L164.7,361.9 L165.5,363.0 L166.3,363.5 L167.1,363.1 L167.9,361.9 L168.7,363.1 L169.5,363.0 L170.3,362.8 L171.0,362.8 L171.8,362.8 L172.6,361.6 L173.4,363.4 L174.2,363.8 L175.0,361.5 L175.8,361.7 L176.6,361.4 L177.3,362.8 L178.1,361.5 L178.9,361.6 L179.7,363.3 L180.5,362.0 L181.3,361.8 L182.1,362.2 L182.9,362.6 L183.6,363.1 L184.4,363.0 L185.2,363.3 L186.0,363.6 L186.8,362.4 L187.6,363.1 L188.4,361.9 L189.2,363.7 L190.0,361.6 L190.7,362.1 L191.5,361.6 L192.3,361.6 L193.1,361.6 L193.9,362.4 L194.7,363.8 L195.5,362.0 L196.3,363.4 L197.0,363.1 L197.8,362.2 L198.6,362.5 L199.4,362.8 L200.2,361.5 L201.0,362.3 L201.8,363.0 L202.6,363.2 L203.3,361.7 L204.1,362.7 L204.9,361.9 L205.7,363.0 L206.5,363.3 L207.3,362.5 L208.1,361.8 L208.9,363.4 L209.7,361.9 L210.4,361.6 L210.4,362.0 L209.7,362.0 L208.9,363.5 L208.1,362.4 L207.3,362.0 L206.5,363.5 L205.7,363.1 L204.9,363.1 L204.1,362.7 L203.3,362.9 L202.6,362.8 L201.8,362.3 L201.0,363.7 L200.2,363.6 L199.4,363.5 L198.6,363.5 L197.8,363.6 L197.0,362.0 L196.3,362.2 L195.5,363.6 L194.7,362.9 L193.9,363.3 L193.1,363.3 L192.3,363.2 L191.5,362.7 L190.7,362.8 L190.0,363.3 L189.2,363.6 L188.4,363.4 L187.6,363.7 L186.8,363.0 L186.0,362.7 L185.2,363.3 L184.4,363.9 L183.6,363.7 L182.9,363.4 L182.1,363.0 L181.3,362.7 L180.5,363.4 L179.7,362.7 L178.9,363.0 L178.1,363.4 L177.3,363.5 L176.6,363.3 L175.8,362.9 L175.0,363.5 L174.2,363.0 L173.4,363.4 L172.6,363.8 L171.8,363.3 L171.0,363.0 L170.3,364.2 L169.5,363.6 L168.7,363.6 L167.9,362.8 L167.1,362.7 L166.3,363.7 L165.5,362.8 L164.7,363.0 L164.0,364.0 L163.2,363.6 L162.4,364.2 L161.6,363.0 L160.8,363.3 L160.0,362.9 L159.2,363.1 L158.4,363.3 L157.6,363.2 L156.9,363.6 L156.1,364.4 L155.3,363.6 L154.5,364.6 L153.7,364.4 L152.9,363.3 L152.1,364.6 L151.3,364.5 L150.6,364.8 L149.8,359.9 L149.0,368.7 L148.2,371.0 L147.4,361.5 L146.6,370.6 L145.8,362.3 L145.0,364.8 L144.3,363.2 L143.5,362.2 L142.7,367.2 L141.9,365.5 L141.1,375.7 L140.3,367.9 L139.5,372.0 L138.7,370.6 L137.9,378.9 L137.2,372.2 L136.4,371.0 L135.6,382.5 L134.8,381.6 L134.0,378.1 L133.2,374.0 L132.4,386.8 L131.6,389.9 L130.9,390.4 L130.1,385.2 L129.3,384.4 L128.5,393.1 L127.7,395.4 L126.9,396.7 L126.1,399.4 L125.3,400.0 L124.6,408.2 L123.8,403.3 L123.0,400.9 L122.2,418.4 L121.4,418.6 L120.6,436.6 L119.8,403.3 L119.0,402.5 L118.2,404.5 L117.5,407.9 L116.7,408.9 L115.9,406.2 L115.1,401.8 L114.3,416.5 L113.5,417.9 L112.7,405.8 L111.9,404.6 L111.2,414.3 L110.4,417.8 L109.6,414.6 L108.8,427.0 L108.0,427.5 L107.2,430.9 L106.4,425.6 L105.6,432.9 L104.9,436.6 L104.1,429.8 L103.3,427.2 L102.5,442.5 L101.7,437.3 L100.9,445.6 L100.1,439.8 L99.3,447.6 L98.5,456.4 L97.8,460.0 L97.0,466.4 L96.2,460.3 L95.4,464.9 L94.6,471.6 L93.8,470.5 L93.0,473.7 L92.2,467.6 L91.5,482.2 L90.7,468.4 L89.9,480.8 L89.1,481.0 L88.3,486.0 L87.5,481.5 L86.7,484.2 L85.9,491.8 L85.2,491.2 L84.4,481.1 L83.6,473.0 L82.8,476.2 L82.0,471.9 L81.2,470.8 L80.4,472.2 L79.6,472.8 L78.8,472.5 L78.1,470.4 L77.3,470.2 L76.5,468.9 L75.7,469.0 L74.9,470.9 L74.1,470.7 L73.3,470.2 L72.5,470.1 L71.8,467.9 L71.0,467.1 L70.2,466.6 L69.4,468.6 L68.6,466.1 L67.8,467.8 L67.0,467.3 L66.2,466.1 L65.5,468.4 L64.7,468.4 L63.9,465.7 L63.1,467.6 L62.3,467.4 L61.5,466.5 L60.7,466.2 L59.9,468.5 L59.2,467.3 L58.4,466.9 L57.6,466.7 L56.8,467.7 L56.0,466.3 L55.2,465.0 L54.4,467.0 L53.6,466.4 L52.8,467.9 L52.1,467.3 L51.3,465.9 L50.5,467.9 L49.7,465.0 L48.9,464.9 L48.1,467.8 L47.3,464.8 L46.5,466.8 L45.8,465.3 L45.0,465.4 L44.2,467.0 L43.4,465.6 L42.6,465.7 L41.8,465.1 L41.0,467.0 L40.2,465.2 L39.5,464.5 L38.7,465.5 L37.9,465.9 L37.1,467.4 L36.3,466.0 L35.5,466.5 L34.7,465.2 L33.9,465.3 L33.1,465.7 L32.4,467.0 L31.6,465.3 L30.8,465.4 L30.0,467.0 L29.2,464.4" stroke="#ea8a35" stroke-width="0.75" fill="none" />
<path d="M29.2,444.4 L30.0,448.3 L30.7,444.2 L31.5,449.6 L32.2,449.2 L33.0,447.5 L33.7,449.0 L34.5,449.9 L35.2,450.1 L36.0,451.9 L36.8,453.4 L37.5,454.9 L38.3,456.3 L39.0,453.1 L39.8,453.6 L40.5,455.6 L41.3,455.1 L42.0,458.0 L42.8,459.3 L43.6,459.3 L44.3,457.1 L45.1,462.7 L45.8,460.7 L46.6,462.9 L47.3,460.5 L48.1,463.6 L48.8,464.5 L49.6,464.7 L50.4,464.6 L51.1,463.9 L51.9,467.1 L52.6,464.9 L53.4,469.9 L54.1,469.7 L54.9,471.4 L55.6,472.0 L56.4,468.6 L57.1,469.4 L57.9,473.2 L58.7,473.7 L59.4,472.9 L60.2,471.5 L60.9,471.6 L61.7,472.6 L62.4,474.1 L63.2,477.2 L63.9,476.3 L64.7,478.0 L65.5,476.6 L66.2,476.9 L67.0,479.6 L67.7,479.9 L68.5,477.3 L69.2,482.3 L70.0,478.2 L70.7,478.3 L71.5,478.5 L72.3,482.4 L73.0,481.9 L73.8,482.3 L74.5,482.5 L75.3,481.0 L76.0,483.3 L76.8,486.1 L77.5,483.3 L78.3,486.1 L79.0,486.0 L79.8,485.7 L80.6,490.4 L81.3,486.2 L82.1,487.3 L82.8,488.7 L83.6,488.9 L84.3,489.6 L85.1,491.6 L85.8,490.0 L86.6,492.9 L87.4,489.3 L88.1,487.5 L88.9,487.8 L89.6,486.2 L90.4,483.0 L91.1,482.6 L91.9,486.2 L92.6,481.4 L93.4,481.5 L94.1,484.0 L94.9,481.3 L95.7,481.2 L96.4,481.3 L97.2,477.6 L97.9,474.4 L98.7,477.2 L99.4,473.0 L100.2,473.2 L100.9,475.7 L101.7,470.5 L102.5,471.1 L103.2,468.3 L104.0,468.7 L104.7,467.7 L105.5,469.2 L106.2,465.5 L107.0,463.9 L107.7,463.5 L108.5,465.1 L109.3,462.3 L110.0,463.1 L110.8,464.4 L111.5,463.9 L112.3,462.8 L113.0,461.2 L113.8,460.6 L114.5,457.7 L115.3,455.7 L116.0,456.0 L116.8,456.0 L117.6,453.9 L118.3,455.2 L119.1,453.6 L119.8,451.1 L120.6,452.5 L121.3,453.1 L122.1,448.2 L122.8,448.5 L123.6,449.9 L124.4,449.2 L125.1,447.5 L125.9,446.4 L126.6,447.9 L127.4,448.5 L128.1,446.6 L128.9,442.5 L129.6,445.6 L130.4,443.0 L131.2,443.9 L131.9,443.1 L132.7,442.6 L133.4,440.5 L134.2,441.2 L134.9,441.3 L135.7,440.1 L136.4,439.1 L137.2,436.4 L137.9,438.3 L138.7,437.8 L139.5,434.6 L140.2,434.1 L141.0,431.6 L141.7,434.8 L142.5,432.0 L143.2,431.3 L144.0,432.8 L144.7,426.5 L145.5,430.2 L146.3,430.2 L147.0,427.2 L147.8,428.3 L148.5,424.8 L149.3,425.7 L150.0,426.3 L150.8,426.0 L151.5,421.2 L152.3,423.1 L153.0,419.3 L153.8,420.5 L154.6,417.0 L155.3,420.0 L156.1,419.5 L156.8,418.7 L157.6,414.7 L158.3,415.0 L159.1,415.9 L159.8,416.7 L160.6,412.4 L161.4,410.0 L162.1,411.5 L162.9,414.2 L163.6,413.3 L164.4,412.2 L165.1,411.0 L165.9,411.0 L166.6,410.2 L167.4,405.8 L168.2,403.6 L168.9,407.0 L169.7,401.7 L170.4,403.9 L171.2,401.2 L171.9,399.8 L172.7,398.9 L173.4,403.5 L174.2,401.2 L174.9,398.6 L175.7,395.8 L176.5,400.2 L177.2,398.2 L178.0,394.1 L178.7,397.7 L179.5,395.4 L180.2,394.9 L181.0,392.1 L181.7,389.9 L182.5,393.6 L183.3,389.5 L184.0,388.8 L184.8,387.4 L185.5,388.3 L186.3,385.4 L187.0,387.9 L187.8,386.9 L188.5,387.2 L189.3,383.2 L190.1,384.2 L190.8,384.7 L191.6,384.5 L192.3,380.5 L193.1,380.4 L193.8,379.0 L194.6,380.2 L195.3,378.9 L196.1,380.1 L196.8,376.0 L197.6,379.3 L198.4,375.9 L199.1,373.5 L199.9,373.2 L200.6,375.9 L201.4,374.3 L202.1,369.9 L202.9,370.4 L203.6,368.2 L204.4,367.5 L205.2,369.2 L205.9,365.8 L206.7,366.3 L207.4,368.2 L208.2,367.4 L208.9,368.7 L209.7,366.3 L210.4,362.5 L210.4,369.0 L209.7,367.5 L208.9,371.5 L208.2,372.9 L207.4,370.7 L206.7,374.4 L205.9,376.8 L205.2,377.0 L204.4,374.9 L203.6,376.1 L202.9,380.4 L202.1,379.9 L201.4,376.4 L200.6,381.7 L199.9,380.5 L199.1,382.2 L198.4,380.9 L197.6,382.8 L196.8,382.5 L196.1,384.9 L195.3,387.8 L194.6,388.7 L193.8,390.1 L193.1,386.5 L192.3,391.6 L191.6,393.0 L190.8,388.2 L190.1,393.6 L189.3,390.4 L188.5,396.0 L187.8,394.6 L187.0,396.9 L186.3,394.1 L185.5,396.2 L184.8,396.9 L184.0,397.1 L183.3,397.3 L182.5,401.2 L181.7,400.5 L181.0,402.3 L180.2,405.2 L179.5,401.7 L178.7,404.0 L178.0,403.5 L177.2,408.0 L176.5,406.8 L175.7,408.1 L174.9,407.4 L174.2,412.0 L173.4,411.3 L172.7,411.2 L171.9,414.5 L171.2,412.5 L170.4,412.2 L169.7,414.9 L168.9,414.3 L168.2,415.4 L167.4,418.5 L166.6,418.5 L165.9,415.5 L165.1,420.3 L164.4,420.5 L163.6,423.4 L162.9,423.4 L162.1,424.5 L161.4,420.8 L160.6,422.8 L159.8,422.7 L159.1,422.9 L158.3,425.9 L157.6,424.8 L156.8,428.0 L156.1,429.5 L155.3,427.2 L154.6,428.3 L153.8,428.8 L153.0,432.4 L152.3,431.5 L151.5,434.5 L150.8,431.8 L150.0,433.0 L149.3,437.6 L148.5,434.6 L147.8,439.8 L147.0,441.2 L146.3,438.3 L145.5,441.6 L144.7,441.1 L144.0,441.3 L143.2,445.7 L142.5,442.4 L141.7,446.0 L141.0,446.0 L140.2,447.4 L139.5,445.9 L138.7,446.7 L137.9,450.3 L137.2,452.3 L136.4,452.0 L135.7,452.2 L134.9,455.0 L134.2,455.5 L133.4,452.7 L132.7,454.0 L131.9,453.2 L131.2,454.0 L130.4,455.5 L129.6,459.4 L128.9,461.5 L128.1,461.5 L127.4,461.5 L126.6,462.0 L125.9,462.7 L125.1,464.7 L124.4,462.6 L123.6,466.9 L122.8,466.7 L122.1,465.0 L121.3,466.4 L120.6,470.3 L119.8,471.5 L119.1,469.0 L118.3,474.6 L117.6,474.7 L116.8,473.2 L116.0,474.1 L115.3,477.1 L114.5,478.5 L113.8,478.2 L113.0,475.4 L112.3,477.8 L111.5,475.4 L110.8,477.1 L110.0,476.5 L109.3,482.7 L108.5,482.4 L107.7,484.0 L107.0,482.1 L106.2,483.3 L105.5,485.6 L104.7,483.2 L104.0,486.5 L103.2,485.8 L102.5,486.7 L101.7,484.0 L100.9,486.9 L100.2,488.4 L99.4,490.3 L98.7,488.6 L97.9,488.0 L97.2,488.3 L96.4,487.5 L95.7,488.7 L94.9,492.6 L94.1,493.9 L93.4,490.2 L92.6,489.8 L91.9,491.2 L91.1,489.1 L90.4,490.5 L89.6,491.9 L88.9,492.3 L88.1,493.0 L87.4,489.0 L86.6,487.3 L85.8,487.0 L85.1,489.4 L84.3,487.9 L83.6,486.1 L82.8,486.6 L82.1,487.6 L81.3,488.5 L80.6,487.6 L79.8,489.5 L79.0,489.0 L78.3,485.5 L77.5,483.1 L76.8,485.3 L76.0,485.6 L75.3,485.4 L74.5,484.3 L73.8,481.7 L73.0,483.3 L72.3,479.7 L71.5,484.0 L70.7,482.5 L70.0,480.8 L69.2,480.9 L68.5,477.8 L67.7,477.4 L67.0,476.3 L66.2,477.7 L65.5,480.6 L64.7,476.9 L63.9,476.5 L63.2,476.4 L62.4,477.1 L61.7,474.0 L60.9,472.3 L60.2,476.6 L59.4,472.7 L58.7,474.0 L57.9,472.6 L57.1,469.9 L56.4,469.0 L55.6,470.3 L54.9,472.5 L54.1,467.7 L53.4,471.5 L52.6,469.8 L51.9,466.7 L51.1,469.2 L50.4,469.0 L49.6,464.4 L48.8,463.9 L48.1,467.2 L47.3,466.2 L46.6,466.3 L45.8,466.7 L45.1,465.5 L44.3,460.7 L43.6,465.5 L42.8,464.1 L42.0,463.8 L41.3,464.0 L40.5,460.8 L39.8,459.0 L39.0,457.9 L38.3,458.6 L37.5,457.0 L36.8,461.3 L36.0,459.2 L35.2,454.6 L34.5,459.4 L33.7,457.7 L33.0,455.9 L32.2,456.7 L31.5,454.5 L30.7,457.0 L30.0,455.4 L29.2,450.6" stroke="#3f9a35" stroke-width="0.75" fill="none" />
<line x1="25.8" y1="353.3" x2="214.1" y2="353.3" stroke="#333" stroke-width="1.1" />
<line x1="25.8" y1="506.3" x2="214.1" y2="506.3" stroke="#333" stroke-width="1.1" />
<line x1="25.8" y1="353.3" x2="25.8" y2="506.3" stroke="#3f9a35" stroke-width="1.1" />
<line x1="214.1" y1="353.3" x2="214.1" y2="506.3" stroke="#ea8a35" stroke-width="1.1" />
<line x1="23.0" y1="501.8" x2="25.8" y2="501.8" stroke="#3f9a35" stroke-width="0.9" />
<text x="22.0" y="504.5" font-size="7.8" text-anchor="end" fill="#3f9a35" font-weight="bold" font-style="normal" >0</text>
<line x1="23.0" y1="472.1" x2="25.8" y2="472.1" stroke="#3f9a35" stroke-width="0.9" />
<text x="22.0" y="474.8" font-size="7.8" text-anchor="end" fill="#3f9a35" font-weight="bold" font-style="normal" >6</text>
<line x1="23.0" y1="442.4" x2="25.8" y2="442.4" stroke="#3f9a35" stroke-width="0.9" />
<text x="22.0" y="445.1" font-size="7.8" text-anchor="end" fill="#3f9a35" font-weight="bold" font-style="normal" >12</text>
<line x1="23.0" y1="412.7" x2="25.8" y2="412.7" stroke="#3f9a35" stroke-width="0.9" />
<text x="22.0" y="415.4" font-size="7.8" text-anchor="end" fill="#3f9a35" font-weight="bold" font-style="normal" >18</text>
<line x1="23.0" y1="383.0" x2="25.8" y2="383.0" stroke="#3f9a35" stroke-width="0.9" />
<text x="22.0" y="385.7" font-size="7.8" text-anchor="end" fill="#3f9a35" font-weight="bold" font-style="normal" >24</text>
<line x1="23.0" y1="353.3" x2="25.8" y2="353.3" stroke="#3f9a35" stroke-width="0.9" />
<text x="22.0" y="356.0" font-size="7.8" text-anchor="end" fill="#3f9a35" font-weight="bold" font-style="normal" >30</text>
<line x1="24.0" y1="486.9" x2="25.8" y2="486.9" stroke="#3f9a35" stroke-width="0.8" />
<line x1="24.0" y1="457.2" x2="25.8" y2="457.2" stroke="#3f9a35" stroke-width="0.8" />
<line x1="24.0" y1="427.6" x2="25.8" y2="427.6" stroke="#3f9a35" stroke-width="0.8" />
<line x1="24.0" y1="397.9" x2="25.8" y2="397.9" stroke="#3f9a35" stroke-width="0.8" />
<line x1="24.0" y1="368.1" x2="25.8" y2="368.1" stroke="#3f9a35" stroke-width="0.8" />
<line x1="214.1" y1="497.0" x2="216.9" y2="497.0" stroke="#ea8a35" stroke-width="0.9" />
<text x="218.3" y="499.7" font-size="7.8" text-anchor="start" fill="#ea8a35" font-weight="bold" font-style="normal" >-60</text>
<line x1="214.1" y1="461.0" x2="216.9" y2="461.0" stroke="#ea8a35" stroke-width="0.9" />
<text x="218.3" y="463.7" font-size="7.8" text-anchor="start" fill="#ea8a35" font-weight="bold" font-style="normal" >0</text>
<line x1="214.1" y1="425.0" x2="216.9" y2="425.0" stroke="#ea8a35" stroke-width="0.9" />
<text x="218.3" y="427.7" font-size="7.8" text-anchor="start" fill="#ea8a35" font-weight="bold" font-style="normal" >60</text>
<line x1="214.1" y1="389.0" x2="216.9" y2="389.0" stroke="#ea8a35" stroke-width="0.9" />
<text x="218.3" y="391.7" font-size="7.8" text-anchor="start" fill="#ea8a35" font-weight="bold" font-style="normal" >120</text>
<line x1="214.1" y1="353.0" x2="216.9" y2="353.0" stroke="#ea8a35" stroke-width="0.9" />
<text x="218.3" y="355.7" font-size="7.8" text-anchor="start" fill="#ea8a35" font-weight="bold" font-style="normal" >180</text>
<line x1="214.1" y1="479.0" x2="215.9" y2="479.0" stroke="#ea8a35" stroke-width="0.8" />
<line x1="214.1" y1="443.0" x2="215.9" y2="443.0" stroke="#ea8a35" stroke-width="0.8" />
<line x1="214.1" y1="407.0" x2="215.9" y2="407.0" stroke="#ea8a35" stroke-width="0.8" />
<line x1="214.1" y1="371.0" x2="215.9" y2="371.0" stroke="#ea8a35" stroke-width="0.8" />
<line x1="45.0" y1="506.3" x2="45.0" y2="509.1" stroke="#333" stroke-width="0.9" />
<text x="45.0" y="516.2" font-size="7.8" text-anchor="middle" fill="#111" font-weight="bold" font-style="normal" >-10</text>
<line x1="82.6" y1="506.3" x2="82.6" y2="509.1" stroke="#333" stroke-width="0.9" />
<text x="82.6" y="516.2" font-size="7.8" text-anchor="middle" fill="#111" font-weight="bold" font-style="normal" >-5</text>
<line x1="120.2" y1="506.3" x2="120.2" y2="509.1" stroke="#333" stroke-width="0.9" />
<text x="120.2" y="516.2" font-size="7.8" text-anchor="middle" fill="#111" font-weight="bold" font-style="normal" >0</text>
<line x1="157.8" y1="506.3" x2="157.8" y2="509.1" stroke="#333" stroke-width="0.9" />
<text x="157.8" y="516.2" font-size="7.8" text-anchor="middle" fill="#111" font-weight="bold" font-style="normal" >5</text>
<line x1="195.4" y1="506.3" x2="195.4" y2="509.1" stroke="#333" stroke-width="0.9" />
<text x="195.4" y="516.2" font-size="7.8" text-anchor="middle" fill="#111" font-weight="bold" font-style="normal" >10</text>
<line x1="26.2" y1="506.3" x2="26.2" y2="508.1" stroke="#333" stroke-width="0.8" />
<line x1="63.8" y1="506.3" x2="63.8" y2="508.1" stroke="#333" stroke-width="0.8" />
<line x1="101.4" y1="506.3" x2="101.4" y2="508.1" stroke="#333" stroke-width="0.8" />
<line x1="139.0" y1="506.3" x2="139.0" y2="508.1" stroke="#333" stroke-width="0.8" />
<line x1="176.6" y1="506.3" x2="176.6" y2="508.1" stroke="#333" stroke-width="0.8" />
<line x1="214.2" y1="506.3" x2="214.2" y2="508.1" stroke="#333" stroke-width="0.8" />
<text x="120.5" y="525.3" font-size="8.5" text-anchor="middle" fill="#111" font-weight="bold" font-style="normal" >Applied voltage (V)</text>
<text x="7.5" y="430.5" font-size="8.8" text-anchor="middle" fill="#3f9a35" font-weight="bold" font-style="normal" transform="rotate(-90 7.5 430.5)">Amplitude (mV)</text>
<text x="231.5" y="428.0" font-size="8.8" text-anchor="middle" fill="#ea8a35" font-weight="bold" font-style="normal" transform="rotate(-90 231.5 428)">Phase (°)</text>
<text x="2.8" y="358.8" font-size="16.5" text-anchor="start" fill="#111" font-weight="bold" font-style="normal" >g</text>
<text x="208.7" y="501.4" font-size="9.3" text-anchor="end" fill="#111" font-weight="bold" font-style="normal" >Zn<tspan font-size="6.3" dy="2">3</tspan><tspan dy="-2">In<tspan font-size="6.3" dy="2">4</tspan><tspan dy="-2">S<tspan font-size="6.3" dy="2">9</tspan><tspan dy="-2"></tspan></tspan></tspan></text>
<rect x="263.2" y="352.9" width="188.5" height="153.0" fill="url(#bgGH)" stroke="none" stroke-width="1" />
<path d="M267.0,368.9 L267.5,368.7 L268.0,368.0 L268.6,368.9 L269.1,368.8 L269.6,368.6 L270.2,369.4 L270.7,368.8 L271.3,368.5 L271.8,368.2 L272.3,369.6 L272.9,369.2 L273.4,369.6 L273.9,368.2 L274.5,368.4 L275.0,369.7 L275.6,367.9 L276.1,367.9 L276.6,368.5 L277.2,368.6 L277.7,369.4 L278.2,369.7 L278.8,368.7 L279.3,369.6 L279.9,369.4 L280.4,369.3 L280.9,369.7 L281.5,368.9 L282.0,368.9 L282.5,368.1 L283.1,368.8 L283.6,368.5 L284.1,368.8 L284.7,368.5 L285.2,368.9 L285.8,369.2 L286.3,367.8 L286.8,367.8 L287.4,368.1 L287.9,368.4 L288.4,369.1 L289.0,369.3 L289.5,369.2 L290.1,369.6 L290.6,368.3 L291.1,369.0 L291.7,368.1 L292.2,369.0 L292.7,367.9 L293.3,368.1 L293.8,369.7 L294.4,369.3 L294.9,368.0 L295.4,368.8 L296.0,367.9 L296.5,369.0 L297.0,369.6 L297.6,368.5 L298.1,368.3 L298.7,369.2 L299.2,369.6 L299.7,369.1 L300.3,367.9 L300.8,368.3 L301.3,369.5 L301.9,369.3 L302.4,369.6 L302.9,369.6 L303.5,368.2 L304.0,369.4 L305.3,372.0 L306.1,364.3 L306.8,380.3 L307.6,366.9 L309.1,378.4 L309.8,365.6 L312.1,398.1 L312.8,391.1 L314.3,429.4 L315.1,410.2 L316.6,456.1 L317.3,435.7 L318.1,483.5 L319.6,470.8 L321.1,489.9 L322.6,475.2 L324.1,491.8 L325.6,477.2 L327.1,486.7 L328.6,479.1 L329.4,504.6 L330.1,481.6 L331.6,488.0 L333.1,482.9 L333.1,484.1 L334.3,484.3 L335.4,484.8 L336.6,483.7 L337.7,484.9 L338.9,483.9 L340.0,484.9 L341.1,484.3 L342.3,484.7 L343.4,484.6 L344.6,483.3 L345.7,483.6 L346.9,484.5 L348.0,483.4 L349.1,484.7 L350.3,484.4 L351.4,483.5 L352.6,483.9 L353.7,484.9 L354.9,483.2 L356.0,484.7 L357.1,484.6 L358.3,483.7 L359.4,484.5 L360.6,484.6 L361.7,485.0 L362.9,485.0 L364.0,484.0 L365.1,484.7 L366.3,484.0 L367.4,484.4 L368.6,484.3 L369.7,483.3 L370.9,484.2 L372.0,484.0 L373.1,483.5 L374.3,484.8 L375.4,484.8 L376.6,483.4 L377.7,483.6 L378.9,484.7 L380.0,484.8 L381.1,483.7 L382.3,483.3 L383.4,484.8 L384.6,483.3 L385.7,483.4 L386.9,484.0 L388.0,484.3 L389.1,484.9 L390.3,485.1 L391.4,483.3 L392.6,484.7 L393.7,483.8 L394.9,484.6 L396.0,483.6 L397.1,484.0 L398.3,484.6 L399.4,484.8 L400.6,483.8 L401.7,485.0 L402.9,484.7 L404.0,484.1 L405.1,483.5 L406.3,484.0 L407.4,484.6 L408.6,483.4 L409.7,484.7 L410.9,485.1 L412.0,484.6 L413.1,484.3 L414.3,485.0 L415.4,484.8 L416.6,484.4 L417.7,484.0 L418.9,484.9 L420.0,484.4 L421.2,483.4 L422.3,483.3 L423.4,483.9 L424.6,483.8 L425.7,484.0 L426.9,484.9 L428.0,485.1 L429.2,485.1 L430.3,483.4 L431.4,483.8 L432.6,483.3 L433.7,485.1 L434.9,483.9 L436.0,484.2 L437.2,483.7 L438.3,484.5 L439.4,483.2 L440.6,485.0 L441.7,484.1 L442.9,483.7 L444.0,483.4 L445.2,483.7 L446.3,483.8 L447.4,484.2 L336.1,484.2 L333.9,479.1 L332.4,490.6 L330.9,475.2 L329.4,502.7 L327.9,468.9 L327.1,468.2 L325.6,448.5 L324.1,458.0 L322.6,425.5 L321.1,442.1 L319.6,397.5 L318.1,416.6 L316.6,366.9 L315.1,384.7 L313.6,364.3 L312.1,378.4 L310.6,365.6 L308.3,372.0 L306.1,368.2" stroke="#2b2bf0" stroke-width="0.8" fill="none" />
<path d="M266.3,443.1 L267.2,444.3 L268.1,446.3 L269.0,447.2 L269.9,448.2 L270.8,449.5 L271.7,451.4 L272.6,452.2 L273.5,453.4 L274.4,455.0 L275.3,455.9 L276.2,457.1 L277.2,457.8 L278.1,458.7 L279.0,460.3 L279.9,460.6 L280.8,461.1 L281.7,462.2 L282.6,463.3 L283.5,464.6 L284.4,465.2 L285.3,466.3 L286.2,467.4 L287.1,467.9 L288.0,469.7 L288.9,469.9 L289.8,471.7 L290.7,471.9 L291.6,473.0 L292.6,474.3 L293.5,474.6 L294.4,475.8 L295.3,476.6 L296.2,477.2 L297.1,478.9 L298.0,480.2 L298.9,480.8 L299.8,481.4 L300.7,483.1 L301.6,484.2 L302.5,484.4 L303.4,485.8 L304.3,487.2 L305.2,487.7 L306.1,489.5 L307.0,490.2 L307.9,491.9 L308.9,492.7 L309.8,493.2 L310.7,493.9 L311.6,494.9 L312.5,496.4 L313.4,497.1 L314.3,498.3 L315.2,499.4 L316.1,499.9 L317.0,499.5 L317.9,498.6 L318.8,497.9 L319.7,496.7 L320.6,496.6 L321.5,495.8 L322.4,494.6 L323.3,493.9 L324.3,493.1 L325.2,491.9 L326.1,490.8 L327.0,490.0 L327.9,489.4 L328.8,487.8 L329.7,486.8 L330.6,486.5 L331.5,486.0 L332.4,485.2 L333.3,483.3 L334.2,483.4 L335.1,481.7 L336.0,480.9 L336.9,480.4 L337.8,478.9 L338.7,478.9 L339.7,477.9 L340.6,476.5 L341.5,476.1 L342.4,474.2 L343.3,473.9 L344.2,473.1 L345.1,472.2 L346.0,470.6 L346.9,469.9 L347.8,468.7 L348.7,467.7 L349.6,466.5 L350.5,465.4 L351.4,464.8 L352.3,464.4 L353.2,463.1 L354.1,462.5 L355.1,461.8 L356.0,460.3 L356.9,459.0 L357.8,458.7 L358.7,457.6 L359.6,456.6 L360.5,455.2 L361.4,454.5 L362.3,453.4 L363.2,452.3 L364.1,451.7 L365.0,450.3 L365.9,449.2 L366.8,449.2 L367.7,447.3 L368.6,446.6 L369.5,446.3 L370.4,445.0 L371.4,443.8 L372.3,442.5 L373.2,442.2 L374.1,441.0 L375.0,439.7 L375.9,438.8 L376.8,437.7 L377.7,437.3 L378.6,436.1 L379.5,435.7 L380.4,434.1 L381.3,433.0 L382.2,432.3 L383.1,431.2 L384.0,430.9 L384.9,429.1 L385.8,428.1 L386.8,427.1 L387.7,426.7 L388.6,425.4 L389.5,425.0 L390.4,423.4 L391.3,422.5 L392.2,422.1 L393.1,421.5 L394.0,420.1 L394.9,419.0 L395.8,417.8 L396.7,417.2 L397.6,416.8 L398.5,414.9 L399.4,414.8 L400.3,413.0 L401.2,412.8 L402.2,411.6 L403.1,410.1 L404.0,409.9 L404.9,409.0 L405.8,407.6 L406.7,406.4 L407.6,405.3 L408.5,404.5 L409.4,403.2 L410.3,402.8 L411.2,401.3 L412.1,401.4 L413.0,400.3 L413.9,398.9 L414.8,398.3 L415.7,396.8 L416.6,395.9 L417.5,395.1 L418.5,393.8 L419.4,393.1 L420.3,392.5 L421.2,391.4 L422.1,389.9 L423.0,388.9 L423.9,388.8 L424.8,387.1 L425.7,386.0 L426.6,385.5 L427.5,384.5 L428.4,384.0 L429.3,382.6 L430.2,381.7 L431.1,380.7 L432.0,380.4 L432.9,378.3 L433.9,377.9 L434.8,377.1 L435.7,375.6 L436.6,375.0 L437.5,374.1 L438.4,372.9 L439.3,372.7 L440.2,371.2 L441.1,370.4 L442.0,368.7 L442.9,367.8 L443.8,367.7 L444.7,366.5 L445.6,365.9 L446.5,364.6 L447.4,363.2 L447.4,363.1 L446.5,364.7 L445.6,366.0 L444.7,367.2 L443.8,367.8 L442.9,368.5 L442.0,370.6 L441.1,370.9 L440.2,372.9 L439.3,373.8 L438.4,374.8 L437.5,375.4 L436.6,376.9 L435.7,378.0 L434.8,378.7 L433.9,380.5 L432.9,380.8 L432.0,382.6 L431.1,383.3 L430.2,384.7 L429.3,385.8 L428.4,386.5 L427.5,387.7 L426.6,388.9 L425.7,389.9 L424.8,390.9 L423.9,392.4 L423.0,393.5 L422.1,394.1 L421.2,395.2 L420.3,396.4 L419.4,397.1 L418.5,398.5 L417.5,399.3 L416.6,401.1 L415.7,401.6 L414.8,402.6 L413.9,403.6 L413.0,405.4 L412.1,406.5 L411.2,406.9 L410.3,408.8 L409.4,409.0 L408.5,410.2 L407.6,412.2 L406.7,413.2 L405.8,413.7 L404.9,415.3 L404.0,416.6 L403.1,416.8 L402.2,418.4 L401.2,419.1 L400.3,421.0 L399.4,421.7 L398.5,422.5 L397.6,424.4 L396.7,425.3 L395.8,425.8 L394.9,426.6 L394.0,427.6 L393.1,429.7 L392.2,430.4 L391.3,431.2 L390.4,432.6 L389.5,433.4 L388.6,435.1 L387.7,436.4 L386.8,437.4 L385.8,438.6 L384.9,439.1 L384.0,440.2 L383.1,441.3 L382.2,442.9 L381.3,443.9 L380.4,445.0 L379.5,445.3 L378.6,446.2 L377.7,447.4 L376.8,449.5 L375.9,450.6 L375.0,450.7 L374.1,452.3 L373.2,453.1 L372.3,454.7 L371.4,455.6 L370.4,456.7 L369.5,457.9 L368.6,458.7 L367.7,460.5 L366.8,460.8 L365.9,461.7 L365.0,463.6 L364.1,464.4 L363.2,465.2 L362.3,466.6 L361.4,468.0 L360.5,469.1 L359.6,469.8 L358.7,471.5 L357.8,471.5 L356.9,472.7 L356.0,474.0 L355.1,474.9 L354.1,476.2 L353.2,477.6 L352.3,478.5 L351.4,479.7 L350.5,480.2 L349.6,481.5 L348.7,483.3 L347.8,483.6 L346.9,484.9 L346.0,485.9 L345.1,486.5 L344.2,487.6 L343.3,487.6 L342.4,488.2 L341.5,489.0 L340.6,489.5 L339.7,490.1 L338.7,491.1 L337.8,491.3 L336.9,492.7 L336.0,493.0 L335.1,493.4 L334.2,494.6 L333.3,494.7 L332.4,495.0 L331.5,495.6 L330.6,496.7 L329.7,496.4 L328.8,497.3 L327.9,498.3 L327.0,498.5 L326.1,499.2 L325.2,499.9 L324.3,500.3 L323.3,498.7 L322.4,498.4 L321.5,497.5 L320.6,496.6 L319.7,495.6 L318.8,495.9 L317.9,494.4 L317.0,493.4 L316.1,493.2 L315.2,492.2 L314.3,491.9 L313.4,490.9 L312.5,489.9 L311.6,489.4 L310.7,488.4 L309.8,486.8 L308.9,486.4 L307.9,485.4 L307.0,483.8 L306.1,483.2 L305.2,481.7 L304.3,481.1 L303.4,479.8 L302.5,479.7 L301.6,478.0 L300.7,476.7 L299.8,476.6 L298.9,474.5 L298.0,474.5 L297.1,473.3 L296.2,472.8 L295.3,471.6 L294.4,470.6 L293.5,470.4 L292.6,468.5 L291.6,468.2 L290.7,467.3 L289.8,466.3 L288.9,465.7 L288.0,465.0 L287.1,463.7 L286.2,462.9 L285.3,462.4 L284.4,461.1 L283.5,460.7 L282.6,460.2 L281.7,459.1 L280.8,458.4 L279.9,457.5 L279.0,455.9 L278.1,455.5 L277.2,454.0 L276.2,453.3 L275.3,453.3 L274.4,451.3 L273.5,450.5 L272.6,450.6 L271.7,448.6 L270.8,448.3 L269.9,447.3 L269.0,445.7 L268.1,445.7 L267.2,444.4 L266.3,443.0" stroke="#ee3030" stroke-width="0.8" fill="none" />
<line x1="263.2" y1="352.9" x2="451.7" y2="352.9" stroke="#333" stroke-width="1.1" />
<line x1="263.2" y1="505.9" x2="451.7" y2="505.9" stroke="#333" stroke-width="1.1" />
<line x1="263.2" y1="352.9" x2="263.2" y2="505.9" stroke="#ee3030" stroke-width="1.1" />
<line x1="451.7" y1="352.9" x2="451.7" y2="505.9" stroke="#2b2bf0" stroke-width="1.1" />
<line x1="260.4" y1="502.9" x2="263.2" y2="502.9" stroke="#ee3030" stroke-width="0.9" />
<text x="259.4" y="505.6" font-size="7.8" text-anchor="end" fill="#ee3030" font-weight="bold" font-style="normal" >0</text>
<line x1="260.4" y1="472.9" x2="263.2" y2="472.9" stroke="#ee3030" stroke-width="0.9" />
<text x="259.4" y="475.6" font-size="7.8" text-anchor="end" fill="#ee3030" font-weight="bold" font-style="normal" >20</text>
<line x1="260.4" y1="442.9" x2="263.2" y2="442.9" stroke="#ee3030" stroke-width="0.9" />
<text x="259.4" y="445.6" font-size="7.8" text-anchor="end" fill="#ee3030" font-weight="bold" font-style="normal" >40</text>
<line x1="260.4" y1="412.9" x2="263.2" y2="412.9" stroke="#ee3030" stroke-width="0.9" />
<text x="259.4" y="415.6" font-size="7.8" text-anchor="end" fill="#ee3030" font-weight="bold" font-style="normal" >60</text>
<line x1="260.4" y1="382.9" x2="263.2" y2="382.9" stroke="#ee3030" stroke-width="0.9" />
<text x="259.4" y="385.6" font-size="7.8" text-anchor="end" fill="#ee3030" font-weight="bold" font-style="normal" >80</text>
<line x1="260.4" y1="352.9" x2="263.2" y2="352.9" stroke="#ee3030" stroke-width="0.9" />
<text x="259.4" y="355.6" font-size="7.8" text-anchor="end" fill="#ee3030" font-weight="bold" font-style="normal" >100</text>
<line x1="261.4" y1="487.9" x2="263.2" y2="487.9" stroke="#ee3030" stroke-width="0.8" />
<line x1="261.4" y1="457.9" x2="263.2" y2="457.9" stroke="#ee3030" stroke-width="0.8" />
<line x1="261.4" y1="427.9" x2="263.2" y2="427.9" stroke="#ee3030" stroke-width="0.8" />
<line x1="261.4" y1="397.9" x2="263.2" y2="397.9" stroke="#ee3030" stroke-width="0.8" />
<line x1="261.4" y1="367.9" x2="263.2" y2="367.9" stroke="#ee3030" stroke-width="0.8" />
<line x1="451.7" y1="505.9" x2="454.5" y2="505.9" stroke="#2b2bf0" stroke-width="0.9" />
<text x="455.9" y="508.6" font-size="7.8" text-anchor="start" fill="#2b2bf0" font-weight="bold" font-style="normal" >-60</text>
<line x1="451.7" y1="467.6" x2="454.5" y2="467.6" stroke="#2b2bf0" stroke-width="0.9" />
<text x="455.9" y="470.3" font-size="7.8" text-anchor="start" fill="#2b2bf0" font-weight="bold" font-style="normal" >0</text>
<line x1="451.7" y1="429.4" x2="454.5" y2="429.4" stroke="#2b2bf0" stroke-width="0.9" />
<text x="455.9" y="432.1" font-size="7.8" text-anchor="start" fill="#2b2bf0" font-weight="bold" font-style="normal" >60</text>
<line x1="451.7" y1="391.1" x2="454.5" y2="391.1" stroke="#2b2bf0" stroke-width="0.9" />
<text x="455.9" y="393.8" font-size="7.8" text-anchor="start" fill="#2b2bf0" font-weight="bold" font-style="normal" >120</text>
<line x1="451.7" y1="352.9" x2="454.5" y2="352.9" stroke="#2b2bf0" stroke-width="0.9" />
<text x="455.9" y="355.6" font-size="7.8" text-anchor="start" fill="#2b2bf0" font-weight="bold" font-style="normal" >180</text>
<line x1="451.7" y1="486.7" x2="453.5" y2="486.7" stroke="#2b2bf0" stroke-width="0.8" />
<line x1="451.7" y1="448.5" x2="453.5" y2="448.5" stroke="#2b2bf0" stroke-width="0.8" />
<line x1="451.7" y1="410.2" x2="453.5" y2="410.2" stroke="#2b2bf0" stroke-width="0.8" />
<line x1="451.7" y1="372.0" x2="453.5" y2="372.0" stroke="#2b2bf0" stroke-width="0.8" />
<line x1="282.0" y1="505.9" x2="282.0" y2="508.7" stroke="#333" stroke-width="0.9" />
<text x="282.0" y="516.2" font-size="7.8" text-anchor="middle" fill="#111" font-weight="bold" font-style="normal" >-10</text>
<line x1="319.6" y1="505.9" x2="319.6" y2="508.7" stroke="#333" stroke-width="0.9" />
<text x="319.6" y="516.2" font-size="7.8" text-anchor="middle" fill="#111" font-weight="bold" font-style="normal" >-5</text>
<line x1="357.2" y1="505.9" x2="357.2" y2="508.7" stroke="#333" stroke-width="0.9" />
<text x="357.2" y="516.2" font-size="7.8" text-anchor="middle" fill="#111" font-weight="bold" font-style="normal" >0</text>
<line x1="394.8" y1="505.9" x2="394.8" y2="508.7" stroke="#333" stroke-width="0.9" />
<text x="394.8" y="516.2" font-size="7.8" text-anchor="middle" fill="#111" font-weight="bold" font-style="normal" >5</text>
<line x1="432.4" y1="505.9" x2="432.4" y2="508.7" stroke="#333" stroke-width="0.9" />
<text x="432.4" y="516.2" font-size="7.8" text-anchor="middle" fill="#111" font-weight="bold" font-style="normal" >10</text>
<line x1="263.2" y1="505.9" x2="263.2" y2="507.7" stroke="#333" stroke-width="0.8" />
<line x1="300.8" y1="505.9" x2="300.8" y2="507.7" stroke="#333" stroke-width="0.8" />
<line x1="338.4" y1="505.9" x2="338.4" y2="507.7" stroke="#333" stroke-width="0.8" />
<line x1="376.0" y1="505.9" x2="376.0" y2="507.7" stroke="#333" stroke-width="0.8" />
<line x1="413.6" y1="505.9" x2="413.6" y2="507.7" stroke="#333" stroke-width="0.8" />
<line x1="451.2" y1="505.9" x2="451.2" y2="507.7" stroke="#333" stroke-width="0.8" />
<text x="357.5" y="525.3" font-size="8.5" text-anchor="middle" fill="#111" font-weight="bold" font-style="normal" >Applied voltage (V)</text>
<text x="247.8" y="430.0" font-size="8.8" text-anchor="middle" fill="#ee3030" font-weight="bold" font-style="normal" transform="rotate(-90 247.8 430)">Amplitude (mV)</text>
<text x="479.0" y="428.0" font-size="9.8" text-anchor="middle" fill="#2b2bf0" font-weight="bold" font-style="normal" transform="rotate(-90 479 428)">Phase (°)</text>
<text x="233.3" y="358.2" font-size="16.5" text-anchor="start" fill="#111" font-weight="bold" font-style="normal" >h</text>
<text x="361.9" y="346.6" font-size="9.3" text-anchor="middle" fill="#111" font-weight="bold" font-style="normal" >MoS<tspan font-size="6.8" dy="2">2</tspan><tspan dy="-2">/Zn<tspan font-size="6.8" dy="2">3</tspan><tspan dy="-2">In<tspan font-size="6.8" dy="2">4</tspan><tspan dy="-2">S<tspan font-size="6.5" dy="2">9</tspan><tspan dy="-2"></tspan></tspan></tspan></tspan></text>
<text x="450.0" y="501.8" font-size="9.2" text-anchor="end" fill="#111" font-weight="bold" font-style="normal" >6%-MoS<tspan font-size="6.3" dy="2">2</tspan><tspan dy="-2">/Zn<tspan font-size="6.3" dy="2">3</tspan><tspan dy="-2">In<tspan font-size="6.3" dy="2">4</tspan><tspan dy="-2">S<tspan font-size="6.3" dy="2">9</tspan><tspan dy="-2"></tspan></tspan></tspan></tspan></text>
<path d="M481.05,506.00 L508.90,478.15 M485.65,506.00 L513.50,478.15 M490.25,506.00 L518.10,478.15 M494.85,506.00 L522.70,478.15 M499.45,506.00 L527.30,478.15 M504.05,506.00 L531.90,478.15 M508.65,506.00 L536.50,478.15 M513.25,506.00 L541.10,478.15 M517.85,506.00 L545.70,478.15 M522.45,506.00 L550.30,478.15 M527.05,506.00 L554.90,478.15 M531.65,506.00 L559.50,478.15 M536.25,506.00 L564.10,478.15 M540.85,506.00 L568.70,478.15 M545.45,506.00 L573.30,478.15 M550.05,506.00 L577.90,478.15 M554.65,506.00 L582.50,478.15 M559.25,506.00 L587.10,478.15 M563.85,506.00 L591.70,478.15 M568.45,506.00 L596.30,478.15 M573.05,506.00 L600.90,478.15 M577.65,506.00 L605.50,478.15 M582.25,506.00 L610.10,478.15" stroke="#4a90a8" stroke-width="1.2" fill="none" clip-path="url(#cT)"/>
<path d="M529.95,506.00 L567.00,468.95 M534.55,506.00 L571.60,468.95 M539.15,506.00 L576.20,468.95 M543.75,506.00 L580.80,468.95 M548.35,506.00 L585.40,468.95 M552.95,506.00 L590.00,468.95 M557.55,506.00 L594.60,468.95 M562.15,506.00 L599.20,468.95 M566.75,506.00 L603.80,468.95 M571.35,506.00 L608.40,468.95 M575.95,506.00 L613.00,468.95 M580.55,506.00 L617.60,468.95 M585.15,506.00 L622.20,468.95 M589.75,506.00 L626.80,468.95 M594.35,506.00 L631.40,468.95 M598.95,506.00 L636.00,468.95 M603.55,506.00 L640.60,468.95 M608.15,506.00 L645.20,468.95 M612.75,506.00 L649.80,468.95 M617.35,506.00 L654.40,468.95 M621.95,506.00 L659.00,468.95 M626.55,506.00 L663.60,468.95 M631.15,506.00 L668.20,468.95 M635.75,506.00 L672.80,468.95 M640.35,506.00 L677.40,468.95 M644.95,506.00 L682.00,468.95 M649.55,506.00 L686.60,468.95" stroke="#55aa35" stroke-width="1.2" fill="none" clip-path="url(#cG)"/>
<path d="M492.10,373.30 L624.80,506.00 M496.70,373.30 L629.40,506.00 M501.30,373.30 L634.00,506.00 M505.90,373.30 L638.60,506.00 M510.50,373.30 L643.20,506.00 M515.10,373.30 L647.80,506.00 M519.70,373.30 L652.40,506.00 M524.30,373.30 L657.00,506.00 M528.90,373.30 L661.60,506.00 M533.50,373.30 L666.20,506.00 M538.10,373.30 L670.80,506.00 M542.70,373.30 L675.40,506.00 M547.30,373.30 L680.00,506.00 M551.90,373.30 L684.60,506.00 M556.50,373.30 L689.20,506.00 M561.10,373.30 L693.80,506.00 M565.70,373.30 L698.40,506.00 M570.30,373.30 L703.00,506.00 M574.90,373.30 L707.60,506.00 M579.50,373.30 L712.20,506.00 M584.10,373.30 L716.80,506.00 M588.70,373.30 L721.40,506.00 M593.30,373.30 L726.00,506.00 M597.90,373.30 L730.60,506.00 M602.50,373.30 L735.20,506.00 M607.10,373.30 L739.80,506.00 M611.70,373.30 L744.40,506.00 M616.30,373.30 L749.00,506.00 M620.90,373.30 L753.60,506.00 M625.50,373.30 L758.20,506.00 M630.10,373.30 L762.80,506.00 M634.70,373.30 L767.40,506.00 M639.30,373.30 L772.00,506.00 M643.90,373.30 L776.60,506.00 M648.50,373.30 L781.20,506.00 M653.10,373.30 L785.80,506.00 M657.70,373.30 L790.40,506.00 M662.30,373.30 L795.00,506.00 M666.90,373.30 L799.60,506.00 M671.50,373.30 L804.20,506.00 M676.10,373.30 L808.80,506.00 M680.70,373.30 L813.40,506.00 M685.30,373.30 L818.00,506.00 M689.90,373.30 L822.60,506.00 M694.50,373.30 L827.20,506.00 M699.10,373.30 L831.80,506.00 M703.70,373.30 L836.40,506.00 M708.30,373.30 L841.00,506.00 M712.90,373.30 L845.60,506.00 M717.50,373.30 L850.20,506.00 M722.10,373.30 L854.80,506.00 M726.70,373.30 L859.40,506.00 M731.30,373.30 L864.00,506.00 M735.90,373.30 L868.60,506.00 M740.50,373.30 L873.20,506.00 M745.10,373.30 L877.80,506.00 M749.70,373.30 L882.40,506.00 M754.30,373.30 L887.00,506.00 M758.90,373.30 L891.60,506.00 M763.50,373.30 L896.20,506.00 M768.10,373.30 L900.80,506.00 M772.70,373.30 L905.40,506.00 M777.30,373.30 L910.00,506.00 M781.90,373.30 L914.60,506.00 M786.50,373.30 L919.20,506.00 M791.10,373.30 L923.80,506.00 M795.70,373.30 L928.40,506.00 M800.30,373.30 L933.00,506.00" stroke="#ee3333" stroke-width="1.2" fill="none" clip-path="url(#cR)"/>
<line x1="525.3" y1="373.7" x2="624.8" y2="373.7" stroke="#ee2a2a" stroke-width="0.9" stroke-dasharray="3,2"/>
<rect x="527.9" y="379.0" width="1.6" height="92.0" fill="url(#arT)" stroke="none" stroke-width="1" />
<path d="M525.6,381 L528.7,373.8 L531.8,381 Z" stroke="none" stroke-width="0" fill="#ee2a2a" />
<path d="M525.6,470 L528.7,477 L531.8,470 Z" stroke="none" stroke-width="0" fill="#2f7a8e" />
<rect x="585.7" y="379.0" width="1.6" height="84.0" fill="url(#arG)" stroke="none" stroke-width="1" />
<path d="M583.4,381 L586.5,373.8 L589.6,381 Z" stroke="none" stroke-width="0" fill="#ee2a2a" />
<path d="M583.4,462 L586.5,469.2 L589.6,462 Z" stroke="none" stroke-width="0" fill="#6ab648" />
<text x="542.7" y="398.8" font-size="9.2" text-anchor="start" fill="#ee2a2a" font-weight="bold" font-style="normal" >3.52 times</text>
<text x="532.3" y="450.0" font-size="9.2" text-anchor="start" fill="#3f8296" font-weight="bold" font-style="normal" >4.68 times</text>
<path d="M594,430 L612.5,403" stroke="#a6d68e" stroke-width="4" fill="none" stroke-linecap="round"/>
<path d="M603.5,404.5 L614.8,399.8 L613,411.5" stroke="#a6d68e" stroke-width="3.4" fill="none" stroke-linecap="round" stroke-linejoin="round" fill="none"/>
<rect x="503.5" y="352.9" width="173.2" height="153.1" fill="none" stroke="#333" stroke-width="1.1" />
<line x1="500.7" y1="506.0" x2="503.5" y2="506.0" stroke="#333" stroke-width="0.9" />
<text x="499.7" y="508.7" font-size="7.8" text-anchor="end" fill="#111" font-weight="bold" font-style="normal" >0</text>
<line x1="500.7" y1="458.8" x2="503.5" y2="458.8" stroke="#333" stroke-width="0.9" />
<text x="499.7" y="461.5" font-size="7.8" text-anchor="end" fill="#111" font-weight="bold" font-style="normal" >2</text>
<line x1="500.7" y1="411.6" x2="503.5" y2="411.6" stroke="#333" stroke-width="0.9" />
<text x="499.7" y="414.3" font-size="7.8" text-anchor="end" fill="#111" font-weight="bold" font-style="normal" >4</text>
<line x1="500.7" y1="364.4" x2="503.5" y2="364.4" stroke="#333" stroke-width="0.9" />
<text x="499.7" y="367.1" font-size="7.8" text-anchor="end" fill="#111" font-weight="bold" font-style="normal" >6</text>
<line x1="501.7" y1="482.4" x2="503.5" y2="482.4" stroke="#333" stroke-width="0.8" />
<line x1="501.7" y1="435.2" x2="503.5" y2="435.2" stroke="#333" stroke-width="0.8" />
<line x1="501.7" y1="388.0" x2="503.5" y2="388.0" stroke="#333" stroke-width="0.8" />
<text x="491.8" y="429.0" font-size="8.8" text-anchor="middle" fill="#111" font-weight="bold" font-style="normal" transform="rotate(-90 491.8 429)">Piezoelectric slope (mV/V)</text>
<text x="477.5" y="358.0" font-size="16.5" text-anchor="start" fill="#111" font-weight="bold" font-style="normal" >i</text>
<text x="535.5" y="523.0" font-size="8.6" text-anchor="middle" fill="#111" font-weight="bold" font-style="normal" >ZnIn<tspan font-size="5.5" dy="1.8">2</tspan><tspan dy="-1.8">S<tspan font-size="5.5" dy="1.8">4</tspan><tspan dy="-1.8"></tspan></tspan></text>
<text x="587.0" y="523.0" font-size="8.6" text-anchor="middle" fill="#111" font-weight="bold" font-style="normal" >Zn<tspan font-size="5.5" dy="1.8">3</tspan><tspan dy="-1.8">In<tspan font-size="5.5" dy="1.8">4</tspan><tspan dy="-1.8">S<tspan font-size="5.5" dy="1.8">9</tspan><tspan dy="-1.8"></tspan></tspan></tspan></text>
<text x="648.8" y="523.0" font-size="8.6" text-anchor="middle" fill="#111" font-weight="bold" font-style="normal" >6%-MoS<tspan font-size="5.5" dy="1.8">2</tspan><tspan dy="-1.8">/Zn<tspan font-size="5.5" dy="1.8">3</tspan><tspan dy="-1.8">In<tspan font-size="5.5" dy="1.8">4</tspan><tspan dy="-1.8">S<tspan font-size="5.5" dy="1.8">9</tspan><tspan dy="-1.8"></tspan></tspan></tspan></tspan></text>
</svg></body></html>
